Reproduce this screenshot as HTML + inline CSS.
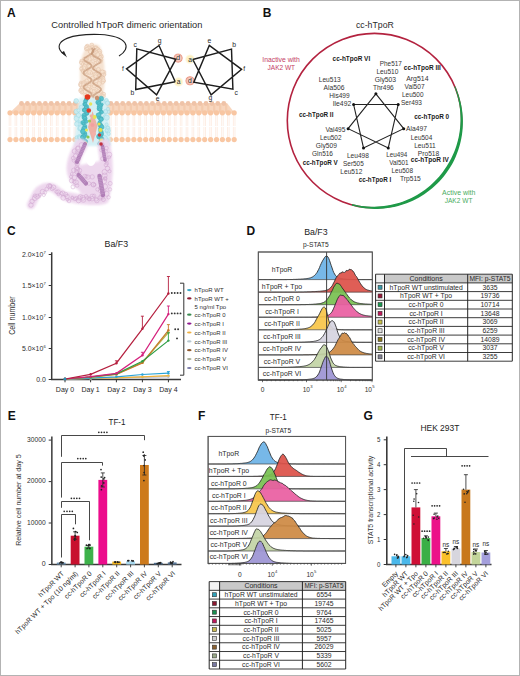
<!DOCTYPE html><html><head><meta charset="utf-8"><style>html,body{margin:0;padding:0;background:#fff}svg{display:block}text{font-family:"Liberation Sans",sans-serif}</style></head><body><svg width="520" height="676" viewBox="0 0 520 676"><rect x="0" y="0" width="520" height="676" fill="#fff"/><text x="7.0" y="17.0" font-size="12" fill="#111" font-weight="bold">A</text>
<text x="51.3" y="28.4" font-size="9.3" fill="#2a2a2a" textLength="151.0" lengthAdjust="spacingAndGlyphs">Controlled hTpoR dimeric orientation</text>
<path d="M119,56 C132,48 128,36 100,34.5 C72,33.5 55,40 60,50 C61,52 63,54 65,55" fill="none" stroke="#222" stroke-width="1.1"/>
<path d="M61.5,52.5 L67,57.5 L64,51 Z" fill="#222"/>
<path d="M9,113.5 L20,103 L227,103 L235,113.5 Z" fill="#f8d6be"/>
<rect x="22.7" y="104" width="2.2" height="8" fill="#f1c3a3" opacity="0.6"/>
<rect x="28.6" y="104" width="2.2" height="8" fill="#f1c3a3" opacity="0.6"/>
<rect x="34.6" y="104" width="2.2" height="8" fill="#f1c3a3" opacity="0.6"/>
<rect x="40.6" y="104" width="2.2" height="8" fill="#f1c3a3" opacity="0.6"/>
<rect x="46.5" y="104" width="2.2" height="8" fill="#f1c3a3" opacity="0.6"/>
<rect x="52.5" y="104" width="2.2" height="8" fill="#f1c3a3" opacity="0.6"/>
<rect x="58.4" y="104" width="2.2" height="8" fill="#f1c3a3" opacity="0.6"/>
<rect x="64.3" y="104" width="2.2" height="8" fill="#f1c3a3" opacity="0.6"/>
<rect x="70.3" y="104" width="2.2" height="8" fill="#f1c3a3" opacity="0.6"/>
<rect x="76.3" y="104" width="2.2" height="8" fill="#f1c3a3" opacity="0.6"/>
<rect x="82.2" y="104" width="2.2" height="8" fill="#f1c3a3" opacity="0.6"/>
<rect x="88.2" y="104" width="2.2" height="8" fill="#f1c3a3" opacity="0.6"/>
<rect x="94.1" y="104" width="2.2" height="8" fill="#f1c3a3" opacity="0.6"/>
<rect x="100.1" y="104" width="2.2" height="8" fill="#f1c3a3" opacity="0.6"/>
<rect x="106.0" y="104" width="2.2" height="8" fill="#f1c3a3" opacity="0.6"/>
<rect x="112.0" y="104" width="2.2" height="8" fill="#f1c3a3" opacity="0.6"/>
<rect x="117.9" y="104" width="2.2" height="8" fill="#f1c3a3" opacity="0.6"/>
<rect x="123.9" y="104" width="2.2" height="8" fill="#f1c3a3" opacity="0.6"/>
<rect x="129.8" y="104" width="2.2" height="8" fill="#f1c3a3" opacity="0.6"/>
<rect x="135.8" y="104" width="2.2" height="8" fill="#f1c3a3" opacity="0.6"/>
<rect x="141.7" y="104" width="2.2" height="8" fill="#f1c3a3" opacity="0.6"/>
<rect x="147.6" y="104" width="2.2" height="8" fill="#f1c3a3" opacity="0.6"/>
<rect x="153.6" y="104" width="2.2" height="8" fill="#f1c3a3" opacity="0.6"/>
<rect x="159.5" y="104" width="2.2" height="8" fill="#f1c3a3" opacity="0.6"/>
<rect x="165.5" y="104" width="2.2" height="8" fill="#f1c3a3" opacity="0.6"/>
<rect x="171.4" y="104" width="2.2" height="8" fill="#f1c3a3" opacity="0.6"/>
<rect x="177.4" y="104" width="2.2" height="8" fill="#f1c3a3" opacity="0.6"/>
<rect x="183.3" y="104" width="2.2" height="8" fill="#f1c3a3" opacity="0.6"/>
<rect x="189.3" y="104" width="2.2" height="8" fill="#f1c3a3" opacity="0.6"/>
<rect x="195.2" y="104" width="2.2" height="8" fill="#f1c3a3" opacity="0.6"/>
<rect x="201.2" y="104" width="2.2" height="8" fill="#f1c3a3" opacity="0.6"/>
<rect x="207.2" y="104" width="2.2" height="8" fill="#f1c3a3" opacity="0.6"/>
<rect x="213.1" y="104" width="2.2" height="8" fill="#f1c3a3" opacity="0.6"/>
<rect x="219.0" y="104" width="2.2" height="8" fill="#f1c3a3" opacity="0.6"/>
<rect x="225.0" y="104" width="2.2" height="8" fill="#f1c3a3" opacity="0.6"/>
<circle cx="21.5" cy="103.5" r="2.4" fill="#efc3a8"/>
<circle cx="27.4" cy="103.5" r="2.4" fill="#efc3a8"/>
<circle cx="33.4" cy="103.5" r="2.4" fill="#efc3a8"/>
<circle cx="39.4" cy="103.5" r="2.4" fill="#efc3a8"/>
<circle cx="45.3" cy="103.5" r="2.4" fill="#efc3a8"/>
<circle cx="51.2" cy="103.5" r="2.4" fill="#efc3a8"/>
<circle cx="57.2" cy="103.5" r="2.4" fill="#efc3a8"/>
<circle cx="63.1" cy="103.5" r="2.4" fill="#efc3a8"/>
<circle cx="69.1" cy="103.5" r="2.4" fill="#efc3a8"/>
<circle cx="75.1" cy="103.5" r="2.4" fill="#efc3a8"/>
<circle cx="81.0" cy="103.5" r="2.4" fill="#efc3a8"/>
<circle cx="87.0" cy="103.5" r="2.4" fill="#efc3a8"/>
<circle cx="92.9" cy="103.5" r="2.4" fill="#efc3a8"/>
<circle cx="98.9" cy="103.5" r="2.4" fill="#efc3a8"/>
<circle cx="104.8" cy="103.5" r="2.4" fill="#efc3a8"/>
<circle cx="110.8" cy="103.5" r="2.4" fill="#efc3a8"/>
<circle cx="116.7" cy="103.5" r="2.4" fill="#efc3a8"/>
<circle cx="122.7" cy="103.5" r="2.4" fill="#efc3a8"/>
<circle cx="128.6" cy="103.5" r="2.4" fill="#efc3a8"/>
<circle cx="134.6" cy="103.5" r="2.4" fill="#efc3a8"/>
<circle cx="140.5" cy="103.5" r="2.4" fill="#efc3a8"/>
<circle cx="146.4" cy="103.5" r="2.4" fill="#efc3a8"/>
<circle cx="152.4" cy="103.5" r="2.4" fill="#efc3a8"/>
<circle cx="158.3" cy="103.5" r="2.4" fill="#efc3a8"/>
<circle cx="164.3" cy="103.5" r="2.4" fill="#efc3a8"/>
<circle cx="170.2" cy="103.5" r="2.4" fill="#efc3a8"/>
<circle cx="176.2" cy="103.5" r="2.4" fill="#efc3a8"/>
<circle cx="182.2" cy="103.5" r="2.4" fill="#efc3a8"/>
<circle cx="188.1" cy="103.5" r="2.4" fill="#efc3a8"/>
<circle cx="194.1" cy="103.5" r="2.4" fill="#efc3a8"/>
<circle cx="200.0" cy="103.5" r="2.4" fill="#efc3a8"/>
<circle cx="206.0" cy="103.5" r="2.4" fill="#efc3a8"/>
<circle cx="211.9" cy="103.5" r="2.4" fill="#efc3a8"/>
<circle cx="217.8" cy="103.5" r="2.4" fill="#efc3a8"/>
<circle cx="223.8" cy="103.5" r="2.4" fill="#efc3a8"/>
<line x1="9.2" y1="115" x2="9.2" y2="126" stroke="#fbe3d4" stroke-width="0.6"/>
<line x1="9.2" y1="127" x2="9.2" y2="138" stroke="#fbe3d4" stroke-width="0.6"/>
<line x1="10.8" y1="115" x2="10.8" y2="126" stroke="#fbe3d4" stroke-width="0.6"/>
<line x1="10.8" y1="127" x2="10.8" y2="138" stroke="#fbe3d4" stroke-width="0.6"/>
<line x1="15.1" y1="115" x2="15.1" y2="126" stroke="#fbe3d4" stroke-width="0.6"/>
<line x1="15.1" y1="127" x2="15.1" y2="138" stroke="#fbe3d4" stroke-width="0.6"/>
<line x1="16.7" y1="115" x2="16.7" y2="126" stroke="#fbe3d4" stroke-width="0.6"/>
<line x1="16.7" y1="127" x2="16.7" y2="138" stroke="#fbe3d4" stroke-width="0.6"/>
<line x1="21.0" y1="115" x2="21.0" y2="126" stroke="#fbe3d4" stroke-width="0.6"/>
<line x1="21.0" y1="127" x2="21.0" y2="138" stroke="#fbe3d4" stroke-width="0.6"/>
<line x1="22.6" y1="115" x2="22.6" y2="126" stroke="#fbe3d4" stroke-width="0.6"/>
<line x1="22.6" y1="127" x2="22.6" y2="138" stroke="#fbe3d4" stroke-width="0.6"/>
<line x1="26.9" y1="115" x2="26.9" y2="126" stroke="#fbe3d4" stroke-width="0.6"/>
<line x1="26.9" y1="127" x2="26.9" y2="138" stroke="#fbe3d4" stroke-width="0.6"/>
<line x1="28.5" y1="115" x2="28.5" y2="126" stroke="#fbe3d4" stroke-width="0.6"/>
<line x1="28.5" y1="127" x2="28.5" y2="138" stroke="#fbe3d4" stroke-width="0.6"/>
<line x1="32.8" y1="115" x2="32.8" y2="126" stroke="#fbe3d4" stroke-width="0.6"/>
<line x1="32.8" y1="127" x2="32.8" y2="138" stroke="#fbe3d4" stroke-width="0.6"/>
<line x1="34.4" y1="115" x2="34.4" y2="126" stroke="#fbe3d4" stroke-width="0.6"/>
<line x1="34.4" y1="127" x2="34.4" y2="138" stroke="#fbe3d4" stroke-width="0.6"/>
<line x1="38.7" y1="115" x2="38.7" y2="126" stroke="#fbe3d4" stroke-width="0.6"/>
<line x1="38.7" y1="127" x2="38.7" y2="138" stroke="#fbe3d4" stroke-width="0.6"/>
<line x1="40.3" y1="115" x2="40.3" y2="126" stroke="#fbe3d4" stroke-width="0.6"/>
<line x1="40.3" y1="127" x2="40.3" y2="138" stroke="#fbe3d4" stroke-width="0.6"/>
<line x1="44.6" y1="115" x2="44.6" y2="126" stroke="#fbe3d4" stroke-width="0.6"/>
<line x1="44.6" y1="127" x2="44.6" y2="138" stroke="#fbe3d4" stroke-width="0.6"/>
<line x1="46.2" y1="115" x2="46.2" y2="126" stroke="#fbe3d4" stroke-width="0.6"/>
<line x1="46.2" y1="127" x2="46.2" y2="138" stroke="#fbe3d4" stroke-width="0.6"/>
<line x1="50.5" y1="115" x2="50.5" y2="126" stroke="#fbe3d4" stroke-width="0.6"/>
<line x1="50.5" y1="127" x2="50.5" y2="138" stroke="#fbe3d4" stroke-width="0.6"/>
<line x1="52.1" y1="115" x2="52.1" y2="126" stroke="#fbe3d4" stroke-width="0.6"/>
<line x1="52.1" y1="127" x2="52.1" y2="138" stroke="#fbe3d4" stroke-width="0.6"/>
<line x1="56.4" y1="115" x2="56.4" y2="126" stroke="#fbe3d4" stroke-width="0.6"/>
<line x1="56.4" y1="127" x2="56.4" y2="138" stroke="#fbe3d4" stroke-width="0.6"/>
<line x1="58.0" y1="115" x2="58.0" y2="126" stroke="#fbe3d4" stroke-width="0.6"/>
<line x1="58.0" y1="127" x2="58.0" y2="138" stroke="#fbe3d4" stroke-width="0.6"/>
<line x1="62.3" y1="115" x2="62.3" y2="126" stroke="#fbe3d4" stroke-width="0.6"/>
<line x1="62.3" y1="127" x2="62.3" y2="138" stroke="#fbe3d4" stroke-width="0.6"/>
<line x1="63.9" y1="115" x2="63.9" y2="126" stroke="#fbe3d4" stroke-width="0.6"/>
<line x1="63.9" y1="127" x2="63.9" y2="138" stroke="#fbe3d4" stroke-width="0.6"/>
<line x1="68.2" y1="115" x2="68.2" y2="126" stroke="#fbe3d4" stroke-width="0.6"/>
<line x1="68.2" y1="127" x2="68.2" y2="138" stroke="#fbe3d4" stroke-width="0.6"/>
<line x1="69.8" y1="115" x2="69.8" y2="126" stroke="#fbe3d4" stroke-width="0.6"/>
<line x1="69.8" y1="127" x2="69.8" y2="138" stroke="#fbe3d4" stroke-width="0.6"/>
<line x1="74.1" y1="115" x2="74.1" y2="126" stroke="#fbe3d4" stroke-width="0.6"/>
<line x1="74.1" y1="127" x2="74.1" y2="138" stroke="#fbe3d4" stroke-width="0.6"/>
<line x1="75.7" y1="115" x2="75.7" y2="126" stroke="#fbe3d4" stroke-width="0.6"/>
<line x1="75.7" y1="127" x2="75.7" y2="138" stroke="#fbe3d4" stroke-width="0.6"/>
<line x1="80.0" y1="115" x2="80.0" y2="126" stroke="#fbe3d4" stroke-width="0.6"/>
<line x1="80.0" y1="127" x2="80.0" y2="138" stroke="#fbe3d4" stroke-width="0.6"/>
<line x1="81.6" y1="115" x2="81.6" y2="126" stroke="#fbe3d4" stroke-width="0.6"/>
<line x1="81.6" y1="127" x2="81.6" y2="138" stroke="#fbe3d4" stroke-width="0.6"/>
<line x1="85.9" y1="115" x2="85.9" y2="126" stroke="#fbe3d4" stroke-width="0.6"/>
<line x1="85.9" y1="127" x2="85.9" y2="138" stroke="#fbe3d4" stroke-width="0.6"/>
<line x1="87.5" y1="115" x2="87.5" y2="126" stroke="#fbe3d4" stroke-width="0.6"/>
<line x1="87.5" y1="127" x2="87.5" y2="138" stroke="#fbe3d4" stroke-width="0.6"/>
<line x1="91.8" y1="115" x2="91.8" y2="126" stroke="#fbe3d4" stroke-width="0.6"/>
<line x1="91.8" y1="127" x2="91.8" y2="138" stroke="#fbe3d4" stroke-width="0.6"/>
<line x1="93.4" y1="115" x2="93.4" y2="126" stroke="#fbe3d4" stroke-width="0.6"/>
<line x1="93.4" y1="127" x2="93.4" y2="138" stroke="#fbe3d4" stroke-width="0.6"/>
<line x1="97.7" y1="115" x2="97.7" y2="126" stroke="#fbe3d4" stroke-width="0.6"/>
<line x1="97.7" y1="127" x2="97.7" y2="138" stroke="#fbe3d4" stroke-width="0.6"/>
<line x1="99.3" y1="115" x2="99.3" y2="126" stroke="#fbe3d4" stroke-width="0.6"/>
<line x1="99.3" y1="127" x2="99.3" y2="138" stroke="#fbe3d4" stroke-width="0.6"/>
<line x1="103.6" y1="115" x2="103.6" y2="126" stroke="#fbe3d4" stroke-width="0.6"/>
<line x1="103.6" y1="127" x2="103.6" y2="138" stroke="#fbe3d4" stroke-width="0.6"/>
<line x1="105.2" y1="115" x2="105.2" y2="126" stroke="#fbe3d4" stroke-width="0.6"/>
<line x1="105.2" y1="127" x2="105.2" y2="138" stroke="#fbe3d4" stroke-width="0.6"/>
<line x1="109.5" y1="115" x2="109.5" y2="126" stroke="#fbe3d4" stroke-width="0.6"/>
<line x1="109.5" y1="127" x2="109.5" y2="138" stroke="#fbe3d4" stroke-width="0.6"/>
<line x1="111.1" y1="115" x2="111.1" y2="126" stroke="#fbe3d4" stroke-width="0.6"/>
<line x1="111.1" y1="127" x2="111.1" y2="138" stroke="#fbe3d4" stroke-width="0.6"/>
<line x1="115.4" y1="115" x2="115.4" y2="126" stroke="#fbe3d4" stroke-width="0.6"/>
<line x1="115.4" y1="127" x2="115.4" y2="138" stroke="#fbe3d4" stroke-width="0.6"/>
<line x1="117.0" y1="115" x2="117.0" y2="126" stroke="#fbe3d4" stroke-width="0.6"/>
<line x1="117.0" y1="127" x2="117.0" y2="138" stroke="#fbe3d4" stroke-width="0.6"/>
<line x1="121.3" y1="115" x2="121.3" y2="126" stroke="#fbe3d4" stroke-width="0.6"/>
<line x1="121.3" y1="127" x2="121.3" y2="138" stroke="#fbe3d4" stroke-width="0.6"/>
<line x1="122.9" y1="115" x2="122.9" y2="126" stroke="#fbe3d4" stroke-width="0.6"/>
<line x1="122.9" y1="127" x2="122.9" y2="138" stroke="#fbe3d4" stroke-width="0.6"/>
<line x1="127.2" y1="115" x2="127.2" y2="126" stroke="#fbe3d4" stroke-width="0.6"/>
<line x1="127.2" y1="127" x2="127.2" y2="138" stroke="#fbe3d4" stroke-width="0.6"/>
<line x1="128.8" y1="115" x2="128.8" y2="126" stroke="#fbe3d4" stroke-width="0.6"/>
<line x1="128.8" y1="127" x2="128.8" y2="138" stroke="#fbe3d4" stroke-width="0.6"/>
<line x1="133.1" y1="115" x2="133.1" y2="126" stroke="#fbe3d4" stroke-width="0.6"/>
<line x1="133.1" y1="127" x2="133.1" y2="138" stroke="#fbe3d4" stroke-width="0.6"/>
<line x1="134.7" y1="115" x2="134.7" y2="126" stroke="#fbe3d4" stroke-width="0.6"/>
<line x1="134.7" y1="127" x2="134.7" y2="138" stroke="#fbe3d4" stroke-width="0.6"/>
<line x1="139.0" y1="115" x2="139.0" y2="126" stroke="#fbe3d4" stroke-width="0.6"/>
<line x1="139.0" y1="127" x2="139.0" y2="138" stroke="#fbe3d4" stroke-width="0.6"/>
<line x1="140.6" y1="115" x2="140.6" y2="126" stroke="#fbe3d4" stroke-width="0.6"/>
<line x1="140.6" y1="127" x2="140.6" y2="138" stroke="#fbe3d4" stroke-width="0.6"/>
<line x1="144.9" y1="115" x2="144.9" y2="126" stroke="#fbe3d4" stroke-width="0.6"/>
<line x1="144.9" y1="127" x2="144.9" y2="138" stroke="#fbe3d4" stroke-width="0.6"/>
<line x1="146.5" y1="115" x2="146.5" y2="126" stroke="#fbe3d4" stroke-width="0.6"/>
<line x1="146.5" y1="127" x2="146.5" y2="138" stroke="#fbe3d4" stroke-width="0.6"/>
<line x1="150.8" y1="115" x2="150.8" y2="126" stroke="#fbe3d4" stroke-width="0.6"/>
<line x1="150.8" y1="127" x2="150.8" y2="138" stroke="#fbe3d4" stroke-width="0.6"/>
<line x1="152.4" y1="115" x2="152.4" y2="126" stroke="#fbe3d4" stroke-width="0.6"/>
<line x1="152.4" y1="127" x2="152.4" y2="138" stroke="#fbe3d4" stroke-width="0.6"/>
<line x1="156.7" y1="115" x2="156.7" y2="126" stroke="#fbe3d4" stroke-width="0.6"/>
<line x1="156.7" y1="127" x2="156.7" y2="138" stroke="#fbe3d4" stroke-width="0.6"/>
<line x1="158.3" y1="115" x2="158.3" y2="126" stroke="#fbe3d4" stroke-width="0.6"/>
<line x1="158.3" y1="127" x2="158.3" y2="138" stroke="#fbe3d4" stroke-width="0.6"/>
<line x1="162.6" y1="115" x2="162.6" y2="126" stroke="#fbe3d4" stroke-width="0.6"/>
<line x1="162.6" y1="127" x2="162.6" y2="138" stroke="#fbe3d4" stroke-width="0.6"/>
<line x1="164.2" y1="115" x2="164.2" y2="126" stroke="#fbe3d4" stroke-width="0.6"/>
<line x1="164.2" y1="127" x2="164.2" y2="138" stroke="#fbe3d4" stroke-width="0.6"/>
<line x1="168.5" y1="115" x2="168.5" y2="126" stroke="#fbe3d4" stroke-width="0.6"/>
<line x1="168.5" y1="127" x2="168.5" y2="138" stroke="#fbe3d4" stroke-width="0.6"/>
<line x1="170.1" y1="115" x2="170.1" y2="126" stroke="#fbe3d4" stroke-width="0.6"/>
<line x1="170.1" y1="127" x2="170.1" y2="138" stroke="#fbe3d4" stroke-width="0.6"/>
<line x1="174.4" y1="115" x2="174.4" y2="126" stroke="#fbe3d4" stroke-width="0.6"/>
<line x1="174.4" y1="127" x2="174.4" y2="138" stroke="#fbe3d4" stroke-width="0.6"/>
<line x1="176.0" y1="115" x2="176.0" y2="126" stroke="#fbe3d4" stroke-width="0.6"/>
<line x1="176.0" y1="127" x2="176.0" y2="138" stroke="#fbe3d4" stroke-width="0.6"/>
<line x1="180.3" y1="115" x2="180.3" y2="126" stroke="#fbe3d4" stroke-width="0.6"/>
<line x1="180.3" y1="127" x2="180.3" y2="138" stroke="#fbe3d4" stroke-width="0.6"/>
<line x1="181.9" y1="115" x2="181.9" y2="126" stroke="#fbe3d4" stroke-width="0.6"/>
<line x1="181.9" y1="127" x2="181.9" y2="138" stroke="#fbe3d4" stroke-width="0.6"/>
<line x1="186.2" y1="115" x2="186.2" y2="126" stroke="#fbe3d4" stroke-width="0.6"/>
<line x1="186.2" y1="127" x2="186.2" y2="138" stroke="#fbe3d4" stroke-width="0.6"/>
<line x1="187.8" y1="115" x2="187.8" y2="126" stroke="#fbe3d4" stroke-width="0.6"/>
<line x1="187.8" y1="127" x2="187.8" y2="138" stroke="#fbe3d4" stroke-width="0.6"/>
<line x1="192.1" y1="115" x2="192.1" y2="126" stroke="#fbe3d4" stroke-width="0.6"/>
<line x1="192.1" y1="127" x2="192.1" y2="138" stroke="#fbe3d4" stroke-width="0.6"/>
<line x1="193.7" y1="115" x2="193.7" y2="126" stroke="#fbe3d4" stroke-width="0.6"/>
<line x1="193.7" y1="127" x2="193.7" y2="138" stroke="#fbe3d4" stroke-width="0.6"/>
<line x1="198.0" y1="115" x2="198.0" y2="126" stroke="#fbe3d4" stroke-width="0.6"/>
<line x1="198.0" y1="127" x2="198.0" y2="138" stroke="#fbe3d4" stroke-width="0.6"/>
<line x1="199.6" y1="115" x2="199.6" y2="126" stroke="#fbe3d4" stroke-width="0.6"/>
<line x1="199.6" y1="127" x2="199.6" y2="138" stroke="#fbe3d4" stroke-width="0.6"/>
<line x1="203.9" y1="115" x2="203.9" y2="126" stroke="#fbe3d4" stroke-width="0.6"/>
<line x1="203.9" y1="127" x2="203.9" y2="138" stroke="#fbe3d4" stroke-width="0.6"/>
<line x1="205.5" y1="115" x2="205.5" y2="126" stroke="#fbe3d4" stroke-width="0.6"/>
<line x1="205.5" y1="127" x2="205.5" y2="138" stroke="#fbe3d4" stroke-width="0.6"/>
<line x1="209.8" y1="115" x2="209.8" y2="126" stroke="#fbe3d4" stroke-width="0.6"/>
<line x1="209.8" y1="127" x2="209.8" y2="138" stroke="#fbe3d4" stroke-width="0.6"/>
<line x1="211.4" y1="115" x2="211.4" y2="126" stroke="#fbe3d4" stroke-width="0.6"/>
<line x1="211.4" y1="127" x2="211.4" y2="138" stroke="#fbe3d4" stroke-width="0.6"/>
<line x1="215.7" y1="115" x2="215.7" y2="126" stroke="#fbe3d4" stroke-width="0.6"/>
<line x1="215.7" y1="127" x2="215.7" y2="138" stroke="#fbe3d4" stroke-width="0.6"/>
<line x1="217.3" y1="115" x2="217.3" y2="126" stroke="#fbe3d4" stroke-width="0.6"/>
<line x1="217.3" y1="127" x2="217.3" y2="138" stroke="#fbe3d4" stroke-width="0.6"/>
<line x1="221.6" y1="115" x2="221.6" y2="126" stroke="#fbe3d4" stroke-width="0.6"/>
<line x1="221.6" y1="127" x2="221.6" y2="138" stroke="#fbe3d4" stroke-width="0.6"/>
<line x1="223.2" y1="115" x2="223.2" y2="126" stroke="#fbe3d4" stroke-width="0.6"/>
<line x1="223.2" y1="127" x2="223.2" y2="138" stroke="#fbe3d4" stroke-width="0.6"/>
<line x1="227.5" y1="115" x2="227.5" y2="126" stroke="#fbe3d4" stroke-width="0.6"/>
<line x1="227.5" y1="127" x2="227.5" y2="138" stroke="#fbe3d4" stroke-width="0.6"/>
<line x1="229.1" y1="115" x2="229.1" y2="126" stroke="#fbe3d4" stroke-width="0.6"/>
<line x1="229.1" y1="127" x2="229.1" y2="138" stroke="#fbe3d4" stroke-width="0.6"/>
<line x1="233.4" y1="115" x2="233.4" y2="126" stroke="#fbe3d4" stroke-width="0.6"/>
<line x1="233.4" y1="127" x2="233.4" y2="138" stroke="#fbe3d4" stroke-width="0.6"/>
<line x1="235.0" y1="115" x2="235.0" y2="126" stroke="#fbe3d4" stroke-width="0.6"/>
<line x1="235.0" y1="127" x2="235.0" y2="138" stroke="#fbe3d4" stroke-width="0.6"/>
<circle cx="10.0" cy="112.8" r="2.6" fill="#f8c6a2"/>
<circle cx="10.0" cy="139.6" r="2.6" fill="#f9c7a3"/>
<circle cx="15.9" cy="112.8" r="2.6" fill="#f8c6a2"/>
<circle cx="15.9" cy="139.6" r="2.6" fill="#f9c7a3"/>
<circle cx="21.8" cy="112.8" r="2.6" fill="#f8c6a2"/>
<circle cx="21.8" cy="139.6" r="2.6" fill="#f9c7a3"/>
<circle cx="27.7" cy="112.8" r="2.6" fill="#f8c6a2"/>
<circle cx="27.7" cy="139.6" r="2.6" fill="#f9c7a3"/>
<circle cx="33.6" cy="112.8" r="2.6" fill="#f8c6a2"/>
<circle cx="33.6" cy="139.6" r="2.6" fill="#f9c7a3"/>
<circle cx="39.5" cy="112.8" r="2.6" fill="#f8c6a2"/>
<circle cx="39.5" cy="139.6" r="2.6" fill="#f9c7a3"/>
<circle cx="45.4" cy="112.8" r="2.6" fill="#f8c6a2"/>
<circle cx="45.4" cy="139.6" r="2.6" fill="#f9c7a3"/>
<circle cx="51.3" cy="112.8" r="2.6" fill="#f8c6a2"/>
<circle cx="51.3" cy="139.6" r="2.6" fill="#f9c7a3"/>
<circle cx="57.2" cy="112.8" r="2.6" fill="#f8c6a2"/>
<circle cx="57.2" cy="139.6" r="2.6" fill="#f9c7a3"/>
<circle cx="63.1" cy="112.8" r="2.6" fill="#f8c6a2"/>
<circle cx="63.1" cy="139.6" r="2.6" fill="#f9c7a3"/>
<circle cx="69.0" cy="112.8" r="2.6" fill="#f8c6a2"/>
<circle cx="69.0" cy="139.6" r="2.6" fill="#f9c7a3"/>
<circle cx="74.9" cy="112.8" r="2.6" fill="#f8c6a2"/>
<circle cx="74.9" cy="139.6" r="2.6" fill="#f9c7a3"/>
<circle cx="80.8" cy="112.8" r="2.6" fill="#f8c6a2"/>
<circle cx="80.8" cy="139.6" r="2.6" fill="#f9c7a3"/>
<circle cx="86.7" cy="112.8" r="2.6" fill="#f8c6a2"/>
<circle cx="86.7" cy="139.6" r="2.6" fill="#f9c7a3"/>
<circle cx="92.6" cy="112.8" r="2.6" fill="#f8c6a2"/>
<circle cx="92.6" cy="139.6" r="2.6" fill="#f9c7a3"/>
<circle cx="98.5" cy="112.8" r="2.6" fill="#f8c6a2"/>
<circle cx="98.5" cy="139.6" r="2.6" fill="#f9c7a3"/>
<circle cx="104.4" cy="112.8" r="2.6" fill="#f8c6a2"/>
<circle cx="104.4" cy="139.6" r="2.6" fill="#f9c7a3"/>
<circle cx="110.3" cy="112.8" r="2.6" fill="#f8c6a2"/>
<circle cx="110.3" cy="139.6" r="2.6" fill="#f9c7a3"/>
<circle cx="116.2" cy="112.8" r="2.6" fill="#f8c6a2"/>
<circle cx="116.2" cy="139.6" r="2.6" fill="#f9c7a3"/>
<circle cx="122.1" cy="112.8" r="2.6" fill="#f8c6a2"/>
<circle cx="122.1" cy="139.6" r="2.6" fill="#f9c7a3"/>
<circle cx="128.0" cy="112.8" r="2.6" fill="#f8c6a2"/>
<circle cx="128.0" cy="139.6" r="2.6" fill="#f9c7a3"/>
<circle cx="133.9" cy="112.8" r="2.6" fill="#f8c6a2"/>
<circle cx="133.9" cy="139.6" r="2.6" fill="#f9c7a3"/>
<circle cx="139.8" cy="112.8" r="2.6" fill="#f8c6a2"/>
<circle cx="139.8" cy="139.6" r="2.6" fill="#f9c7a3"/>
<circle cx="145.7" cy="112.8" r="2.6" fill="#f8c6a2"/>
<circle cx="145.7" cy="139.6" r="2.6" fill="#f9c7a3"/>
<circle cx="151.6" cy="112.8" r="2.6" fill="#f8c6a2"/>
<circle cx="151.6" cy="139.6" r="2.6" fill="#f9c7a3"/>
<circle cx="157.5" cy="112.8" r="2.6" fill="#f8c6a2"/>
<circle cx="157.5" cy="139.6" r="2.6" fill="#f9c7a3"/>
<circle cx="163.4" cy="112.8" r="2.6" fill="#f8c6a2"/>
<circle cx="163.4" cy="139.6" r="2.6" fill="#f9c7a3"/>
<circle cx="169.3" cy="112.8" r="2.6" fill="#f8c6a2"/>
<circle cx="169.3" cy="139.6" r="2.6" fill="#f9c7a3"/>
<circle cx="175.2" cy="112.8" r="2.6" fill="#f8c6a2"/>
<circle cx="175.2" cy="139.6" r="2.6" fill="#f9c7a3"/>
<circle cx="181.1" cy="112.8" r="2.6" fill="#f8c6a2"/>
<circle cx="181.1" cy="139.6" r="2.6" fill="#f9c7a3"/>
<circle cx="187.0" cy="112.8" r="2.6" fill="#f8c6a2"/>
<circle cx="187.0" cy="139.6" r="2.6" fill="#f9c7a3"/>
<circle cx="192.9" cy="112.8" r="2.6" fill="#f8c6a2"/>
<circle cx="192.9" cy="139.6" r="2.6" fill="#f9c7a3"/>
<circle cx="198.8" cy="112.8" r="2.6" fill="#f8c6a2"/>
<circle cx="198.8" cy="139.6" r="2.6" fill="#f9c7a3"/>
<circle cx="204.7" cy="112.8" r="2.6" fill="#f8c6a2"/>
<circle cx="204.7" cy="139.6" r="2.6" fill="#f9c7a3"/>
<circle cx="210.6" cy="112.8" r="2.6" fill="#f8c6a2"/>
<circle cx="210.6" cy="139.6" r="2.6" fill="#f9c7a3"/>
<circle cx="216.5" cy="112.8" r="2.6" fill="#f8c6a2"/>
<circle cx="216.5" cy="139.6" r="2.6" fill="#f9c7a3"/>
<circle cx="222.4" cy="112.8" r="2.6" fill="#f8c6a2"/>
<circle cx="222.4" cy="139.6" r="2.6" fill="#f9c7a3"/>
<circle cx="228.3" cy="112.8" r="2.6" fill="#f8c6a2"/>
<circle cx="228.3" cy="139.6" r="2.6" fill="#f9c7a3"/>
<circle cx="234.2" cy="112.8" r="2.6" fill="#f8c6a2"/>
<circle cx="234.2" cy="139.6" r="2.6" fill="#f9c7a3"/>
<defs><filter id="bl1" x="-50%" y="-50%" width="200%" height="200%"><feGaussianBlur stdDeviation="1.2"/></filter><filter id="bl2" x="-50%" y="-50%" width="200%" height="200%"><feGaussianBlur stdDeviation="0.7"/></filter><filter id="bl3" x="-50%" y="-50%" width="200%" height="200%"><feGaussianBlur stdDeviation="0.35"/></filter></defs>
<g filter="url(#bl1)"><path d="M87,46 C89,43.5 97,43.5 99.5,46 C102,51 104,58 104.5,68 C105,80 104.5,92 101.5,99 L84,99 C81,92 79.5,80 80,68 C80.5,58 84,51 87,46 Z" fill="#f6e3d2"/></g>
<g filter="url(#bl3)">
<g opacity="0.8"><circle cx="91.8" cy="45.1" r="2.0" fill="#f7e1cd" stroke="#dcb496" stroke-width="0.45"/><circle cx="86.9" cy="46.1" r="1.7" fill="#f7e1cd" stroke="#dcb496" stroke-width="0.45"/><circle cx="92.2" cy="46.8" r="1.3" fill="#f7e1cd" stroke="#dcb496" stroke-width="0.45"/><circle cx="87.4" cy="45.6" r="1.4" fill="#f7e1cd" stroke="#dcb496" stroke-width="0.45"/><circle cx="94.2" cy="48.4" r="1.4" fill="#f7e1cd" stroke="#dcb496" stroke-width="0.45"/><circle cx="86.6" cy="47.8" r="2.3" fill="#f7e1cd" stroke="#dcb496" stroke-width="0.45"/><circle cx="95.7" cy="48.0" r="2.3" fill="#f7e1cd" stroke="#dcb496" stroke-width="0.45"/><circle cx="86.2" cy="49.2" r="1.6" fill="#f7e1cd" stroke="#dcb496" stroke-width="0.45"/><circle cx="95.6" cy="48.0" r="1.6" fill="#f7e1cd" stroke="#dcb496" stroke-width="0.45"/><circle cx="88.5" cy="48.2" r="1.9" fill="#f7e1cd" stroke="#dcb496" stroke-width="0.45"/><circle cx="97.8" cy="49.4" r="1.9" fill="#f7e1cd" stroke="#dcb496" stroke-width="0.45"/><circle cx="87.1" cy="48.6" r="1.5" fill="#f7e1cd" stroke="#dcb496" stroke-width="0.45"/><circle cx="98.7" cy="50.3" r="1.6" fill="#f7e1cd" stroke="#dcb496" stroke-width="0.45"/><circle cx="89.4" cy="50.4" r="1.6" fill="#f7e1cd" stroke="#dcb496" stroke-width="0.45"/><circle cx="99.5" cy="51.8" r="1.5" fill="#f7e1cd" stroke="#dcb496" stroke-width="0.45"/><circle cx="90.5" cy="51.3" r="2.2" fill="#f7e1cd" stroke="#dcb496" stroke-width="0.45"/><circle cx="99.5" cy="51.5" r="2.3" fill="#f7e1cd" stroke="#dcb496" stroke-width="0.45"/><circle cx="90.6" cy="51.8" r="2.1" fill="#f7e1cd" stroke="#dcb496" stroke-width="0.45"/><circle cx="97.8" cy="52.8" r="1.3" fill="#f7e1cd" stroke="#dcb496" stroke-width="0.45"/><circle cx="93.5" cy="53.5" r="1.9" fill="#f7e1cd" stroke="#dcb496" stroke-width="0.45"/><circle cx="99.2" cy="53.1" r="2.0" fill="#f7e1cd" stroke="#dcb496" stroke-width="0.45"/><circle cx="94.9" cy="53.7" r="1.8" fill="#f7e1cd" stroke="#dcb496" stroke-width="0.45"/><circle cx="98.3" cy="55.4" r="1.8" fill="#f7e1cd" stroke="#dcb496" stroke-width="0.45"/><circle cx="96.6" cy="53.1" r="2.0" fill="#f7e1cd" stroke="#dcb496" stroke-width="0.45"/><circle cx="96.6" cy="56.3" r="2.1" fill="#f7e1cd" stroke="#dcb496" stroke-width="0.45"/><circle cx="97.1" cy="54.7" r="2.0" fill="#f7e1cd" stroke="#dcb496" stroke-width="0.45"/><circle cx="93.6" cy="55.7" r="1.4" fill="#f7e1cd" stroke="#dcb496" stroke-width="0.45"/><circle cx="98.0" cy="54.7" r="2.1" fill="#f7e1cd" stroke="#dcb496" stroke-width="0.45"/><circle cx="92.2" cy="55.9" r="1.7" fill="#f7e1cd" stroke="#dcb496" stroke-width="0.45"/><circle cx="101.0" cy="55.5" r="1.7" fill="#f7e1cd" stroke="#dcb496" stroke-width="0.45"/><circle cx="91.4" cy="58.3" r="2.1" fill="#f7e1cd" stroke="#dcb496" stroke-width="0.45"/><circle cx="101.7" cy="56.7" r="1.7" fill="#f7e1cd" stroke="#dcb496" stroke-width="0.45"/><circle cx="89.0" cy="59.1" r="2.3" fill="#f7e1cd" stroke="#dcb496" stroke-width="0.45"/><circle cx="100.2" cy="57.2" r="1.5" fill="#f7e1cd" stroke="#dcb496" stroke-width="0.45"/><circle cx="86.8" cy="58.8" r="1.9" fill="#f7e1cd" stroke="#dcb496" stroke-width="0.45"/><circle cx="100.4" cy="57.5" r="1.7" fill="#f7e1cd" stroke="#dcb496" stroke-width="0.45"/><circle cx="85.4" cy="59.7" r="2.3" fill="#f7e1cd" stroke="#dcb496" stroke-width="0.45"/><circle cx="101.0" cy="59.6" r="1.9" fill="#f7e1cd" stroke="#dcb496" stroke-width="0.45"/><circle cx="84.7" cy="59.2" r="2.2" fill="#f7e1cd" stroke="#dcb496" stroke-width="0.45"/><circle cx="100.3" cy="61.3" r="2.1" fill="#f7e1cd" stroke="#dcb496" stroke-width="0.45"/><circle cx="82.7" cy="60.8" r="1.4" fill="#f7e1cd" stroke="#dcb496" stroke-width="0.45"/><circle cx="98.5" cy="59.9" r="1.3" fill="#f7e1cd" stroke="#dcb496" stroke-width="0.45"/><circle cx="81.4" cy="60.9" r="1.6" fill="#f7e1cd" stroke="#dcb496" stroke-width="0.45"/><circle cx="95.3" cy="60.5" r="1.4" fill="#f7e1cd" stroke="#dcb496" stroke-width="0.45"/><circle cx="80.8" cy="62.2" r="1.3" fill="#f7e1cd" stroke="#dcb496" stroke-width="0.45"/><circle cx="95.4" cy="62.9" r="1.4" fill="#f7e1cd" stroke="#dcb496" stroke-width="0.45"/><circle cx="81.3" cy="62.9" r="1.7" fill="#f7e1cd" stroke="#dcb496" stroke-width="0.45"/><circle cx="91.1" cy="64.2" r="2.3" fill="#f7e1cd" stroke="#dcb496" stroke-width="0.45"/><circle cx="82.6" cy="64.0" r="1.4" fill="#f7e1cd" stroke="#dcb496" stroke-width="0.45"/><circle cx="88.7" cy="63.7" r="1.5" fill="#f7e1cd" stroke="#dcb496" stroke-width="0.45"/><circle cx="84.9" cy="64.0" r="1.3" fill="#f7e1cd" stroke="#dcb496" stroke-width="0.45"/><circle cx="88.7" cy="64.9" r="1.4" fill="#f7e1cd" stroke="#dcb496" stroke-width="0.45"/><circle cx="85.9" cy="64.4" r="1.8" fill="#f7e1cd" stroke="#dcb496" stroke-width="0.45"/><circle cx="86.7" cy="66.5" r="2.0" fill="#f7e1cd" stroke="#dcb496" stroke-width="0.45"/><circle cx="87.3" cy="66.0" r="1.4" fill="#f7e1cd" stroke="#dcb496" stroke-width="0.45"/><circle cx="84.5" cy="66.4" r="2.1" fill="#f7e1cd" stroke="#dcb496" stroke-width="0.45"/><circle cx="89.7" cy="66.4" r="2.1" fill="#f7e1cd" stroke="#dcb496" stroke-width="0.45"/><circle cx="83.7" cy="68.0" r="2.1" fill="#f7e1cd" stroke="#dcb496" stroke-width="0.45"/><circle cx="93.4" cy="68.5" r="1.5" fill="#f7e1cd" stroke="#dcb496" stroke-width="0.45"/><circle cx="81.7" cy="67.5" r="1.3" fill="#f7e1cd" stroke="#dcb496" stroke-width="0.45"/><circle cx="93.7" cy="68.0" r="1.5" fill="#f7e1cd" stroke="#dcb496" stroke-width="0.45"/><circle cx="81.8" cy="69.8" r="1.7" fill="#f7e1cd" stroke="#dcb496" stroke-width="0.45"/><circle cx="98.3" cy="70.6" r="2.3" fill="#f7e1cd" stroke="#dcb496" stroke-width="0.45"/><circle cx="81.1" cy="68.6" r="1.5" fill="#f7e1cd" stroke="#dcb496" stroke-width="0.45"/><circle cx="98.4" cy="69.3" r="1.9" fill="#f7e1cd" stroke="#dcb496" stroke-width="0.45"/><circle cx="83.2" cy="71.0" r="1.8" fill="#f7e1cd" stroke="#dcb496" stroke-width="0.45"/><circle cx="101.3" cy="71.6" r="1.4" fill="#f7e1cd" stroke="#dcb496" stroke-width="0.45"/><circle cx="83.8" cy="71.9" r="2.1" fill="#f7e1cd" stroke="#dcb496" stroke-width="0.45"/><circle cx="102.8" cy="71.6" r="1.5" fill="#f7e1cd" stroke="#dcb496" stroke-width="0.45"/><circle cx="85.7" cy="71.2" r="2.1" fill="#f7e1cd" stroke="#dcb496" stroke-width="0.45"/><circle cx="104.2" cy="72.1" r="1.7" fill="#f7e1cd" stroke="#dcb496" stroke-width="0.45"/><circle cx="88.0" cy="73.0" r="1.4" fill="#f7e1cd" stroke="#dcb496" stroke-width="0.45"/><circle cx="102.3" cy="72.2" r="2.2" fill="#f7e1cd" stroke="#dcb496" stroke-width="0.45"/><circle cx="89.9" cy="72.2" r="2.2" fill="#f7e1cd" stroke="#dcb496" stroke-width="0.45"/><circle cx="104.4" cy="74.3" r="1.6" fill="#f7e1cd" stroke="#dcb496" stroke-width="0.45"/><circle cx="91.5" cy="72.9" r="1.3" fill="#f7e1cd" stroke="#dcb496" stroke-width="0.45"/><circle cx="103.6" cy="75.0" r="1.8" fill="#f7e1cd" stroke="#dcb496" stroke-width="0.45"/><circle cx="94.9" cy="74.5" r="2.2" fill="#f7e1cd" stroke="#dcb496" stroke-width="0.45"/><circle cx="102.1" cy="74.6" r="1.5" fill="#f7e1cd" stroke="#dcb496" stroke-width="0.45"/><circle cx="95.6" cy="74.7" r="1.9" fill="#f7e1cd" stroke="#dcb496" stroke-width="0.45"/><circle cx="99.0" cy="75.9" r="1.4" fill="#f7e1cd" stroke="#dcb496" stroke-width="0.45"/><circle cx="99.3" cy="75.8" r="1.8" fill="#f7e1cd" stroke="#dcb496" stroke-width="0.45"/><circle cx="97.9" cy="77.9" r="1.7" fill="#f7e1cd" stroke="#dcb496" stroke-width="0.45"/><circle cx="101.2" cy="76.9" r="1.8" fill="#f7e1cd" stroke="#dcb496" stroke-width="0.45"/><circle cx="95.6" cy="76.4" r="1.7" fill="#f7e1cd" stroke="#dcb496" stroke-width="0.45"/><circle cx="100.8" cy="76.4" r="2.1" fill="#f7e1cd" stroke="#dcb496" stroke-width="0.45"/><circle cx="92.3" cy="78.3" r="2.0" fill="#f7e1cd" stroke="#dcb496" stroke-width="0.45"/><circle cx="102.8" cy="78.0" r="1.8" fill="#f7e1cd" stroke="#dcb496" stroke-width="0.45"/><circle cx="90.9" cy="79.9" r="1.4" fill="#f7e1cd" stroke="#dcb496" stroke-width="0.45"/><circle cx="103.4" cy="78.5" r="1.6" fill="#f7e1cd" stroke="#dcb496" stroke-width="0.45"/><circle cx="89.2" cy="79.9" r="1.9" fill="#f7e1cd" stroke="#dcb496" stroke-width="0.45"/><circle cx="103.9" cy="81.0" r="1.7" fill="#f7e1cd" stroke="#dcb496" stroke-width="0.45"/><circle cx="86.6" cy="80.7" r="1.8" fill="#f7e1cd" stroke="#dcb496" stroke-width="0.45"/><circle cx="103.3" cy="80.5" r="1.8" fill="#f7e1cd" stroke="#dcb496" stroke-width="0.45"/><circle cx="84.4" cy="82.6" r="2.0" fill="#f7e1cd" stroke="#dcb496" stroke-width="0.45"/><circle cx="102.8" cy="82.6" r="1.5" fill="#f7e1cd" stroke="#dcb496" stroke-width="0.45"/><circle cx="83.1" cy="83.3" r="2.2" fill="#f7e1cd" stroke="#dcb496" stroke-width="0.45"/><circle cx="99.5" cy="81.2" r="1.7" fill="#f7e1cd" stroke="#dcb496" stroke-width="0.45"/><circle cx="80.8" cy="82.3" r="1.3" fill="#f7e1cd" stroke="#dcb496" stroke-width="0.45"/><circle cx="99.1" cy="83.7" r="2.2" fill="#f7e1cd" stroke="#dcb496" stroke-width="0.45"/><circle cx="80.5" cy="84.2" r="2.0" fill="#f7e1cd" stroke="#dcb496" stroke-width="0.45"/><circle cx="95.6" cy="84.7" r="2.3" fill="#f7e1cd" stroke="#dcb496" stroke-width="0.45"/><circle cx="80.6" cy="85.6" r="1.7" fill="#f7e1cd" stroke="#dcb496" stroke-width="0.45"/><circle cx="94.2" cy="85.7" r="2.2" fill="#f7e1cd" stroke="#dcb496" stroke-width="0.45"/><circle cx="80.9" cy="85.0" r="1.8" fill="#f7e1cd" stroke="#dcb496" stroke-width="0.45"/><circle cx="91.5" cy="84.4" r="1.6" fill="#f7e1cd" stroke="#dcb496" stroke-width="0.45"/><circle cx="83.4" cy="84.7" r="1.9" fill="#f7e1cd" stroke="#dcb496" stroke-width="0.45"/><circle cx="89.4" cy="84.7" r="1.6" fill="#f7e1cd" stroke="#dcb496" stroke-width="0.45"/><circle cx="84.5" cy="86.7" r="1.3" fill="#f7e1cd" stroke="#dcb496" stroke-width="0.45"/><circle cx="88.6" cy="87.4" r="2.3" fill="#f7e1cd" stroke="#dcb496" stroke-width="0.45"/><circle cx="85.0" cy="86.8" r="1.3" fill="#f7e1cd" stroke="#dcb496" stroke-width="0.45"/><circle cx="86.0" cy="86.9" r="1.4" fill="#f7e1cd" stroke="#dcb496" stroke-width="0.45"/><circle cx="87.9" cy="89.3" r="2.1" fill="#f7e1cd" stroke="#dcb496" stroke-width="0.45"/><circle cx="83.0" cy="87.3" r="2.3" fill="#f7e1cd" stroke="#dcb496" stroke-width="0.45"/><circle cx="90.6" cy="89.5" r="1.4" fill="#f7e1cd" stroke="#dcb496" stroke-width="0.45"/><circle cx="81.2" cy="89.4" r="1.7" fill="#f7e1cd" stroke="#dcb496" stroke-width="0.45"/><circle cx="91.7" cy="90.8" r="1.9" fill="#f7e1cd" stroke="#dcb496" stroke-width="0.45"/><circle cx="82.4" cy="88.6" r="2.2" fill="#f7e1cd" stroke="#dcb496" stroke-width="0.45"/><circle cx="94.0" cy="91.4" r="1.8" fill="#f7e1cd" stroke="#dcb496" stroke-width="0.45"/><circle cx="80.9" cy="90.6" r="2.3" fill="#f7e1cd" stroke="#dcb496" stroke-width="0.45"/><circle cx="96.7" cy="90.3" r="1.8" fill="#f7e1cd" stroke="#dcb496" stroke-width="0.45"/><circle cx="80.9" cy="90.2" r="1.4" fill="#f7e1cd" stroke="#dcb496" stroke-width="0.45"/><circle cx="98.2" cy="91.2" r="1.6" fill="#f7e1cd" stroke="#dcb496" stroke-width="0.45"/><circle cx="81.8" cy="92.6" r="1.6" fill="#f7e1cd" stroke="#dcb496" stroke-width="0.45"/><circle cx="101.0" cy="91.9" r="1.6" fill="#f7e1cd" stroke="#dcb496" stroke-width="0.45"/><circle cx="82.2" cy="92.1" r="1.3" fill="#f7e1cd" stroke="#dcb496" stroke-width="0.45"/><circle cx="102.9" cy="93.6" r="1.5" fill="#f7e1cd" stroke="#dcb496" stroke-width="0.45"/><circle cx="85.0" cy="94.6" r="1.4" fill="#f7e1cd" stroke="#dcb496" stroke-width="0.45"/><circle cx="103.9" cy="94.1" r="1.8" fill="#f7e1cd" stroke="#dcb496" stroke-width="0.45"/><circle cx="87.9" cy="94.0" r="1.8" fill="#f7e1cd" stroke="#dcb496" stroke-width="0.45"/><circle cx="103.8" cy="96.2" r="1.6" fill="#f7e1cd" stroke="#dcb496" stroke-width="0.45"/><circle cx="90.2" cy="95.5" r="1.9" fill="#f7e1cd" stroke="#dcb496" stroke-width="0.45"/><circle cx="102.8" cy="95.3" r="1.3" fill="#f7e1cd" stroke="#dcb496" stroke-width="0.45"/><circle cx="90.7" cy="94.6" r="2.1" fill="#f7e1cd" stroke="#dcb496" stroke-width="0.45"/><circle cx="101.7" cy="95.6" r="1.4" fill="#f7e1cd" stroke="#dcb496" stroke-width="0.45"/><circle cx="94.9" cy="97.5" r="2.0" fill="#f7e1cd" stroke="#dcb496" stroke-width="0.45"/><circle cx="100.5" cy="96.6" r="1.6" fill="#f7e1cd" stroke="#dcb496" stroke-width="0.45"/><circle cx="96.2" cy="96.4" r="1.7" fill="#f7e1cd" stroke="#dcb496" stroke-width="0.45"/><circle cx="98.8" cy="99.2" r="2.3" fill="#f7e1cd" stroke="#dcb496" stroke-width="0.45"/><circle cx="98.6" cy="97.3" r="2.3" fill="#f7e1cd" stroke="#dcb496" stroke-width="0.45"/></g>
<path d="M91.6,48.0 L92.1,48.6 L92.6,49.3 L93.0,49.9 L93.2,50.5 L93.3,51.2 L93.2,51.8 L92.8,52.4 L92.3,53.1 L91.5,53.7 L90.5,54.3 L89.5,55.0 L88.4,55.6 L87.3,56.2 L86.3,56.9 L85.4,57.5 L84.7,58.1 L84.4,58.8 L84.2,59.4 L84.4,60.0 L85.0,60.7 L85.9,61.3 L86.9,61.9 L88.0,62.6 L89.1,63.2 L90.0,63.8 L90.8,64.5 L91.3,65.1 L91.5,65.7 L91.4,66.4 L91.0,67.0 L90.3,67.6 L89.5,68.3 L88.4,68.9 L87.3,69.5 L86.2,70.2 L85.2,70.8 L84.4,71.4 L83.8,72.1 L83.5,72.7 L83.5,73.3 L83.9,73.9 L84.4,74.6 L85.3,75.2 L86.3,75.8 L87.4,76.5 L88.5,77.1 L89.5,77.7 L90.4,78.4 L91.0,79.0 L91.4,79.6 L91.5,80.3 L91.3,80.9 L90.8,81.5 L90.0,82.2 L89.0,82.8 L88.0,83.4 L86.8,84.1 L85.8,84.7 L84.9,85.3 L84.1,86.0 L83.7,86.6 L83.5,87.2 L83.6,87.9 L84.1,88.5 L84.8,89.1 L85.7,89.8 L86.7,90.4 L87.8,91.0 L88.9,91.7 L89.9,92.3 L90.7,92.9 L91.2,93.6 L91.5,94.2 L91.4,94.8 L91.1,95.5 L90.4,96.1 L89.6,96.7 L88.6,97.4 L87.5,98.0" fill="none" stroke="#bf8e6c" stroke-width="1.8" opacity="0.6" filter="url(#bl2)"/>
<path d="M95.0,48.0 L94.8,48.6 L94.4,49.3 L93.9,49.9 L93.3,50.5 L92.8,51.2 L92.3,51.8 L92.0,52.4 L91.8,53.1 L91.8,53.7 L92.1,54.3 L92.6,55.0 L93.3,55.6 L94.2,56.2 L95.3,56.9 L96.5,57.5 L97.6,58.1 L98.8,58.8 L99.7,59.4 L100.5,60.0 L100.8,60.7 L100.8,61.3 L100.5,61.9 L99.9,62.6 L99.1,63.2 L98.0,63.8 L96.9,64.5 L95.8,65.1 L94.8,65.7 L94.0,66.4 L93.4,67.0 L93.1,67.6 L93.0,68.3 L93.3,68.9 L93.9,69.5 L94.7,70.2 L95.7,70.8 L96.7,71.4 L97.9,72.1 L98.9,72.7 L99.8,73.3 L100.5,73.9 L100.9,74.6 L101.0,75.2 L100.8,75.8 L100.3,76.5 L99.6,77.1 L98.6,77.7 L97.6,78.4 L96.5,79.0 L95.4,79.6 L94.4,80.3 L93.7,80.9 L93.2,81.5 L93.0,82.2 L93.1,82.8 L93.5,83.4 L94.2,84.1 L95.1,84.7 L96.1,85.3 L97.2,86.0 L98.3,86.6 L99.3,87.2 L100.1,87.9 L100.7,88.5 L101.0,89.1 L100.9,89.8 L100.6,90.4 L100.0,91.0 L99.2,91.7 L98.2,92.3 L97.1,92.9 L96.0,93.6 L95.0,94.2 L94.1,94.8 L93.4,95.5 L93.1,96.1 L93.0,96.7 L93.3,97.4 L93.8,98.0" fill="none" stroke="#bf8e6c" stroke-width="1.8" opacity="0.6" filter="url(#bl2)"/>
</g>
<g filter="url(#bl1)"><path d="M79,98 L107,98 L111,146 L74,146 Z" fill="#d4f0f5"/></g>
<g filter="url(#bl3)">
<g opacity="0.9"><circle cx="78.3" cy="115.9" r="2.1" fill="#c6ecf2" stroke="#94d6e2" stroke-width="0.5"/><circle cx="76.0" cy="116.7" r="1.7" fill="#c6ecf2" stroke="#94d6e2" stroke-width="0.5"/><circle cx="79.0" cy="122.8" r="2.2" fill="#c6ecf2" stroke="#94d6e2" stroke-width="0.5"/><circle cx="77.3" cy="122.7" r="2.0" fill="#c6ecf2" stroke="#94d6e2" stroke-width="0.5"/><circle cx="76.5" cy="111.5" r="2.5" fill="#c6ecf2" stroke="#94d6e2" stroke-width="0.5"/><circle cx="76.6" cy="118.5" r="2.5" fill="#c6ecf2" stroke="#94d6e2" stroke-width="0.5"/><circle cx="76.2" cy="101.0" r="2.4" fill="#c6ecf2" stroke="#94d6e2" stroke-width="0.5"/><circle cx="78.5" cy="110.4" r="1.7" fill="#c6ecf2" stroke="#94d6e2" stroke-width="0.5"/><circle cx="79.1" cy="124.3" r="1.7" fill="#c6ecf2" stroke="#94d6e2" stroke-width="0.5"/><circle cx="80.3" cy="129.2" r="2.0" fill="#c6ecf2" stroke="#94d6e2" stroke-width="0.5"/><circle cx="80.5" cy="139.2" r="2.4" fill="#c6ecf2" stroke="#94d6e2" stroke-width="0.5"/><circle cx="78.5" cy="115.1" r="2.2" fill="#c6ecf2" stroke="#94d6e2" stroke-width="0.5"/><circle cx="81.2" cy="107.1" r="2.0" fill="#c6ecf2" stroke="#94d6e2" stroke-width="0.5"/><circle cx="79.6" cy="128.4" r="2.0" fill="#c6ecf2" stroke="#94d6e2" stroke-width="0.5"/><circle cx="76.7" cy="137.4" r="1.6" fill="#c6ecf2" stroke="#94d6e2" stroke-width="0.5"/><circle cx="80.8" cy="128.0" r="2.4" fill="#c6ecf2" stroke="#94d6e2" stroke-width="0.5"/><circle cx="79.7" cy="136.8" r="2.4" fill="#c6ecf2" stroke="#94d6e2" stroke-width="0.5"/><circle cx="76.8" cy="124.0" r="2.3" fill="#c6ecf2" stroke="#94d6e2" stroke-width="0.5"/><circle cx="79.4" cy="137.4" r="1.8" fill="#c6ecf2" stroke="#94d6e2" stroke-width="0.5"/><circle cx="80.4" cy="137.7" r="2.1" fill="#c6ecf2" stroke="#94d6e2" stroke-width="0.5"/><circle cx="107.3" cy="140.1" r="1.7" fill="#c6ecf2" stroke="#94d6e2" stroke-width="0.5"/><circle cx="107.5" cy="130.8" r="2.4" fill="#c6ecf2" stroke="#94d6e2" stroke-width="0.5"/><circle cx="105.4" cy="101.8" r="1.7" fill="#c6ecf2" stroke="#94d6e2" stroke-width="0.5"/><circle cx="104.9" cy="116.2" r="1.6" fill="#c6ecf2" stroke="#94d6e2" stroke-width="0.5"/><circle cx="104.9" cy="138.1" r="2.5" fill="#c6ecf2" stroke="#94d6e2" stroke-width="0.5"/><circle cx="107.6" cy="128.4" r="2.5" fill="#c6ecf2" stroke="#94d6e2" stroke-width="0.5"/><circle cx="108.1" cy="130.7" r="2.3" fill="#c6ecf2" stroke="#94d6e2" stroke-width="0.5"/><circle cx="106.5" cy="100.4" r="1.9" fill="#c6ecf2" stroke="#94d6e2" stroke-width="0.5"/><circle cx="108.7" cy="133.8" r="1.7" fill="#c6ecf2" stroke="#94d6e2" stroke-width="0.5"/><circle cx="106.6" cy="124.5" r="1.6" fill="#c6ecf2" stroke="#94d6e2" stroke-width="0.5"/><circle cx="107.8" cy="102.8" r="1.8" fill="#c6ecf2" stroke="#94d6e2" stroke-width="0.5"/><circle cx="108.4" cy="111.8" r="1.7" fill="#c6ecf2" stroke="#94d6e2" stroke-width="0.5"/><circle cx="105.0" cy="111.8" r="2.1" fill="#c6ecf2" stroke="#94d6e2" stroke-width="0.5"/><circle cx="108.0" cy="108.9" r="1.6" fill="#c6ecf2" stroke="#94d6e2" stroke-width="0.5"/><circle cx="107.9" cy="144.3" r="2.0" fill="#c6ecf2" stroke="#94d6e2" stroke-width="0.5"/><circle cx="106.7" cy="117.6" r="2.6" fill="#c6ecf2" stroke="#94d6e2" stroke-width="0.5"/><circle cx="106.8" cy="130.4" r="1.6" fill="#c6ecf2" stroke="#94d6e2" stroke-width="0.5"/><circle cx="107.9" cy="127.6" r="1.5" fill="#c6ecf2" stroke="#94d6e2" stroke-width="0.5"/><circle cx="107.5" cy="103.2" r="2.1" fill="#c6ecf2" stroke="#94d6e2" stroke-width="0.5"/><circle cx="105.6" cy="111.7" r="1.9" fill="#c6ecf2" stroke="#94d6e2" stroke-width="0.5"/></g>
<g opacity="0.92"><circle cx="86.6" cy="99.0" r="1.9" fill="#4cbfca" stroke="#33a3ae" stroke-width="0.5"/><circle cx="86.0" cy="99.8" r="1.7" fill="#4cbfca" stroke="#33a3ae" stroke-width="0.5"/><circle cx="85.4" cy="101.4" r="2.0" fill="#4cbfca" stroke="#33a3ae" stroke-width="0.5"/><circle cx="84.4" cy="104.1" r="1.7" fill="#4cbfca" stroke="#33a3ae" stroke-width="0.5"/><circle cx="85.3" cy="104.6" r="1.9" fill="#4cbfca" stroke="#33a3ae" stroke-width="0.5"/><circle cx="86.5" cy="107.2" r="2.4" fill="#4cbfca" stroke="#33a3ae" stroke-width="0.5"/><circle cx="86.0" cy="107.2" r="1.4" fill="#4cbfca" stroke="#33a3ae" stroke-width="0.5"/><circle cx="84.3" cy="110.1" r="2.0" fill="#4cbfca" stroke="#33a3ae" stroke-width="0.5"/><circle cx="84.5" cy="110.2" r="1.9" fill="#4cbfca" stroke="#33a3ae" stroke-width="0.5"/><circle cx="86.6" cy="113.0" r="2.4" fill="#4cbfca" stroke="#33a3ae" stroke-width="0.5"/><circle cx="86.9" cy="113.6" r="1.5" fill="#4cbfca" stroke="#33a3ae" stroke-width="0.5"/><circle cx="84.0" cy="115.5" r="2.2" fill="#4cbfca" stroke="#33a3ae" stroke-width="0.5"/><circle cx="84.2" cy="117.4" r="2.2" fill="#4cbfca" stroke="#33a3ae" stroke-width="0.5"/><circle cx="85.0" cy="118.4" r="2.1" fill="#4cbfca" stroke="#33a3ae" stroke-width="0.5"/><circle cx="85.2" cy="120.5" r="1.7" fill="#4cbfca" stroke="#33a3ae" stroke-width="0.5"/><circle cx="86.1" cy="121.7" r="1.8" fill="#4cbfca" stroke="#33a3ae" stroke-width="0.5"/><circle cx="83.1" cy="122.6" r="2.2" fill="#4cbfca" stroke="#33a3ae" stroke-width="0.5"/><circle cx="83.7" cy="123.9" r="1.5" fill="#4cbfca" stroke="#33a3ae" stroke-width="0.5"/><circle cx="84.9" cy="126.1" r="1.9" fill="#4cbfca" stroke="#33a3ae" stroke-width="0.5"/><circle cx="85.3" cy="127.7" r="1.4" fill="#4cbfca" stroke="#33a3ae" stroke-width="0.5"/><circle cx="84.2" cy="128.9" r="2.6" fill="#4cbfca" stroke="#33a3ae" stroke-width="0.5"/><circle cx="83.3" cy="131.1" r="2.0" fill="#4cbfca" stroke="#33a3ae" stroke-width="0.5"/><circle cx="83.1" cy="131.6" r="2.6" fill="#4cbfca" stroke="#33a3ae" stroke-width="0.5"/><circle cx="85.4" cy="133.2" r="1.4" fill="#4cbfca" stroke="#33a3ae" stroke-width="0.5"/><circle cx="85.2" cy="135.3" r="1.9" fill="#4cbfca" stroke="#33a3ae" stroke-width="0.5"/><circle cx="83.3" cy="136.8" r="2.5" fill="#4cbfca" stroke="#33a3ae" stroke-width="0.5"/><circle cx="82.3" cy="137.3" r="1.8" fill="#4cbfca" stroke="#33a3ae" stroke-width="0.5"/><circle cx="83.7" cy="139.8" r="1.6" fill="#4cbfca" stroke="#33a3ae" stroke-width="0.5"/><circle cx="85.6" cy="141.4" r="2.0" fill="#4cbfca" stroke="#33a3ae" stroke-width="0.5"/><circle cx="84.0" cy="143.3" r="1.8" fill="#4cbfca" stroke="#33a3ae" stroke-width="0.5"/><circle cx="83.3" cy="143.6" r="1.7" fill="#4cbfca" stroke="#33a3ae" stroke-width="0.5"/></g>
<g opacity="0.92"><circle cx="101.1" cy="98.7" r="2.5" fill="#4cbfca" stroke="#33a3ae" stroke-width="0.5"/><circle cx="99.2" cy="100.0" r="1.7" fill="#4cbfca" stroke="#33a3ae" stroke-width="0.5"/><circle cx="98.3" cy="102.3" r="2.5" fill="#4cbfca" stroke="#33a3ae" stroke-width="0.5"/><circle cx="99.1" cy="103.3" r="1.7" fill="#4cbfca" stroke="#33a3ae" stroke-width="0.5"/><circle cx="101.8" cy="104.4" r="1.5" fill="#4cbfca" stroke="#33a3ae" stroke-width="0.5"/><circle cx="99.8" cy="106.3" r="2.5" fill="#4cbfca" stroke="#33a3ae" stroke-width="0.5"/><circle cx="99.6" cy="108.4" r="2.6" fill="#4cbfca" stroke="#33a3ae" stroke-width="0.5"/><circle cx="99.6" cy="109.2" r="1.6" fill="#4cbfca" stroke="#33a3ae" stroke-width="0.5"/><circle cx="101.2" cy="111.4" r="1.4" fill="#4cbfca" stroke="#33a3ae" stroke-width="0.5"/><circle cx="101.6" cy="112.3" r="1.8" fill="#4cbfca" stroke="#33a3ae" stroke-width="0.5"/><circle cx="99.9" cy="113.5" r="1.4" fill="#4cbfca" stroke="#33a3ae" stroke-width="0.5"/><circle cx="98.5" cy="115.3" r="2.5" fill="#4cbfca" stroke="#33a3ae" stroke-width="0.5"/><circle cx="98.9" cy="117.7" r="1.6" fill="#4cbfca" stroke="#33a3ae" stroke-width="0.5"/><circle cx="101.0" cy="119.0" r="2.4" fill="#4cbfca" stroke="#33a3ae" stroke-width="0.5"/><circle cx="101.2" cy="119.3" r="2.0" fill="#4cbfca" stroke="#33a3ae" stroke-width="0.5"/><circle cx="99.6" cy="122.2" r="1.6" fill="#4cbfca" stroke="#33a3ae" stroke-width="0.5"/><circle cx="98.9" cy="123.6" r="1.4" fill="#4cbfca" stroke="#33a3ae" stroke-width="0.5"/><circle cx="100.2" cy="125.0" r="2.3" fill="#4cbfca" stroke="#33a3ae" stroke-width="0.5"/><circle cx="101.0" cy="125.3" r="1.5" fill="#4cbfca" stroke="#33a3ae" stroke-width="0.5"/><circle cx="101.8" cy="127.1" r="2.3" fill="#4cbfca" stroke="#33a3ae" stroke-width="0.5"/><circle cx="100.2" cy="128.7" r="1.7" fill="#4cbfca" stroke="#33a3ae" stroke-width="0.5"/><circle cx="100.3" cy="130.7" r="1.7" fill="#4cbfca" stroke="#33a3ae" stroke-width="0.5"/><circle cx="101.5" cy="131.7" r="1.7" fill="#4cbfca" stroke="#33a3ae" stroke-width="0.5"/><circle cx="101.1" cy="133.9" r="2.5" fill="#4cbfca" stroke="#33a3ae" stroke-width="0.5"/><circle cx="101.0" cy="135.7" r="1.4" fill="#4cbfca" stroke="#33a3ae" stroke-width="0.5"/><circle cx="99.1" cy="136.5" r="2.5" fill="#4cbfca" stroke="#33a3ae" stroke-width="0.5"/><circle cx="100.9" cy="137.8" r="1.7" fill="#4cbfca" stroke="#33a3ae" stroke-width="0.5"/><circle cx="101.7" cy="139.5" r="2.5" fill="#4cbfca" stroke="#33a3ae" stroke-width="0.5"/><circle cx="101.4" cy="141.5" r="2.3" fill="#4cbfca" stroke="#33a3ae" stroke-width="0.5"/><circle cx="100.9" cy="142.9" r="2.1" fill="#4cbfca" stroke="#33a3ae" stroke-width="0.5"/><circle cx="99.4" cy="143.7" r="1.8" fill="#4cbfca" stroke="#33a3ae" stroke-width="0.5"/></g>
<path d="M92.5,111 L97.5,126 L93,143 L88,127 Z" fill="#f2a696" opacity="0.85"/>
<circle cx="87.5" cy="97" r="2.8" fill="#e5381c"/>
<circle cx="88.8" cy="110.5" r="2.3" fill="#e23d2c"/>
<circle cx="90.6" cy="104" r="1.7" fill="#e9e45a"/>
<circle cx="94.6" cy="117" r="2.0" fill="#e6e456"/>
<circle cx="89.5" cy="121" r="1.6" fill="#9ccc58"/>
<circle cx="86.5" cy="130" r="1.6" fill="#e6e456"/>
<circle cx="88" cy="137" r="1.6" fill="#8cc850"/>
<circle cx="85.5" cy="143" r="1.6" fill="#e6e050"/>
<circle cx="99.0" cy="124" r="1.6" fill="#e6e04a"/>
<circle cx="100.5" cy="130" r="2.0" fill="#e6e04a"/>
<circle cx="101.3" cy="140.5" r="2.1" fill="#e6e04a"/>
<circle cx="99.5" cy="135" r="1.7" fill="#c43a3a"/>
<circle cx="101.8" cy="146.5" r="2.0" fill="#b8303a"/>
<circle cx="97" cy="98" r="2.2" fill="#c89070"/>
<circle cx="92.5" cy="125" r="2.0" fill="#f2a0a0"/>
<circle cx="94" cy="134" r="2.0" fill="#f4b0a8"/>
<circle cx="91" cy="116" r="1.4" fill="#f0b0a0"/>
</g>
<g filter="url(#bl1)" opacity="0.95" fill="none" stroke="#edd5ed" stroke-linecap="round" stroke-linejoin="round">
<path d="M81,145 C77,152 73,160 73,168 C73,176 78,183 86,187" stroke-width="13"/>
<path d="M104,145 C107,160 107,180 103,197" stroke-width="13"/>
<path d="M76,168 L101,163 L104,198 L82,192 Z" fill="#edd5ed" stroke-width="4"/>
<path d="M104,199 C95,201 80,200 68,197" stroke-width="10"/>
<path d="M69,197 C62,197 58,190 52,187.5 C46,185.5 40,189 37,193 C35,197 33,201 31,205" stroke-width="8.5"/>
</g>
<ellipse cx="91" cy="158" rx="5" ry="8" fill="#fff" filter="url(#bl2)"/>
<g filter="url(#bl3)">
<g opacity="0.75"><circle cx="81.5" cy="145.0" r="2.4" fill="none" stroke="#c898c8" stroke-width="0.55"/><circle cx="102.6" cy="144.4" r="1.6" fill="none" stroke="#c898c8" stroke-width="0.55"/><circle cx="78.0" cy="147.8" r="2.0" fill="none" stroke="#c898c8" stroke-width="0.55"/><circle cx="106.4" cy="148.2" r="1.9" fill="none" stroke="#c898c8" stroke-width="0.55"/><circle cx="77.8" cy="148.9" r="2.4" fill="none" stroke="#c898c8" stroke-width="0.55"/><circle cx="101.4" cy="150.2" r="1.7" fill="none" stroke="#c898c8" stroke-width="0.55"/><circle cx="74.6" cy="151.2" r="2.4" fill="none" stroke="#c898c8" stroke-width="0.55"/><circle cx="105.5" cy="151.3" r="1.9" fill="none" stroke="#c898c8" stroke-width="0.55"/><circle cx="76.7" cy="152.1" r="1.5" fill="none" stroke="#c898c8" stroke-width="0.55"/><circle cx="109.3" cy="154.7" r="2.5" fill="none" stroke="#c898c8" stroke-width="0.55"/><circle cx="79.8" cy="154.3" r="2.3" fill="none" stroke="#c898c8" stroke-width="0.55"/><circle cx="109.2" cy="157.2" r="1.5" fill="none" stroke="#c898c8" stroke-width="0.55"/><circle cx="75.5" cy="156.1" r="2.2" fill="none" stroke="#c898c8" stroke-width="0.55"/><circle cx="102.7" cy="158.7" r="2.1" fill="none" stroke="#c898c8" stroke-width="0.55"/><circle cx="73.3" cy="158.1" r="1.9" fill="none" stroke="#c898c8" stroke-width="0.55"/><circle cx="106.4" cy="160.2" r="2.1" fill="none" stroke="#c898c8" stroke-width="0.55"/><circle cx="78.0" cy="159.1" r="2.3" fill="none" stroke="#c898c8" stroke-width="0.55"/><circle cx="106.9" cy="163.4" r="1.6" fill="none" stroke="#c898c8" stroke-width="0.55"/><circle cx="73.7" cy="160.6" r="1.6" fill="none" stroke="#c898c8" stroke-width="0.55"/><circle cx="106.0" cy="164.9" r="1.9" fill="none" stroke="#c898c8" stroke-width="0.55"/><circle cx="76.5" cy="162.3" r="2.2" fill="none" stroke="#c898c8" stroke-width="0.55"/><circle cx="107.5" cy="168.5" r="2.3" fill="none" stroke="#c898c8" stroke-width="0.55"/><circle cx="77.2" cy="164.2" r="2.0" fill="none" stroke="#c898c8" stroke-width="0.55"/><circle cx="109.5" cy="171.2" r="1.6" fill="none" stroke="#c898c8" stroke-width="0.55"/><circle cx="76.8" cy="167.9" r="2.3" fill="none" stroke="#c898c8" stroke-width="0.55"/><circle cx="104.6" cy="172.0" r="2.6" fill="none" stroke="#c898c8" stroke-width="0.55"/><circle cx="77.2" cy="169.7" r="2.5" fill="none" stroke="#c898c8" stroke-width="0.55"/><circle cx="104.7" cy="175.5" r="2.5" fill="none" stroke="#c898c8" stroke-width="0.55"/><circle cx="73.9" cy="170.3" r="2.3" fill="none" stroke="#c898c8" stroke-width="0.55"/><circle cx="105.2" cy="178.1" r="1.7" fill="none" stroke="#c898c8" stroke-width="0.55"/><circle cx="76.5" cy="171.7" r="2.0" fill="none" stroke="#c898c8" stroke-width="0.55"/><circle cx="105.3" cy="179.0" r="1.7" fill="none" stroke="#c898c8" stroke-width="0.55"/><circle cx="71.7" cy="173.9" r="1.4" fill="none" stroke="#c898c8" stroke-width="0.55"/><circle cx="104.1" cy="181.2" r="2.5" fill="none" stroke="#c898c8" stroke-width="0.55"/><circle cx="71.1" cy="176.8" r="1.6" fill="none" stroke="#c898c8" stroke-width="0.55"/><circle cx="110.2" cy="183.4" r="2.0" fill="none" stroke="#c898c8" stroke-width="0.55"/><circle cx="74.3" cy="177.6" r="2.4" fill="none" stroke="#c898c8" stroke-width="0.55"/><circle cx="105.1" cy="186.6" r="2.5" fill="none" stroke="#c898c8" stroke-width="0.55"/><circle cx="71.6" cy="180.7" r="2.2" fill="none" stroke="#c898c8" stroke-width="0.55"/><circle cx="110.0" cy="189.4" r="1.7" fill="none" stroke="#c898c8" stroke-width="0.55"/><circle cx="74.2" cy="181.7" r="1.8" fill="none" stroke="#c898c8" stroke-width="0.55"/><circle cx="104.4" cy="191.0" r="1.6" fill="none" stroke="#c898c8" stroke-width="0.55"/><circle cx="76.0" cy="182.4" r="2.4" fill="none" stroke="#c898c8" stroke-width="0.55"/><circle cx="106.5" cy="193.7" r="2.6" fill="none" stroke="#c898c8" stroke-width="0.55"/><circle cx="77.1" cy="185.5" r="1.8" fill="none" stroke="#c898c8" stroke-width="0.55"/><circle cx="101.4" cy="194.8" r="1.6" fill="none" stroke="#c898c8" stroke-width="0.55"/><circle cx="73.0" cy="186.9" r="2.0" fill="none" stroke="#c898c8" stroke-width="0.55"/><circle cx="108.6" cy="197.3" r="1.7" fill="none" stroke="#c898c8" stroke-width="0.55"/><circle cx="79.7" cy="173.2" r="1.4" fill="none" stroke="#c898c8" stroke-width="0.55"/><circle cx="77.7" cy="168.8" r="1.8" fill="none" stroke="#c898c8" stroke-width="0.55"/><circle cx="79.6" cy="170.4" r="2.1" fill="none" stroke="#c898c8" stroke-width="0.55"/><circle cx="84.8" cy="176.2" r="2.0" fill="none" stroke="#c898c8" stroke-width="0.55"/><circle cx="86.4" cy="176.4" r="1.7" fill="none" stroke="#c898c8" stroke-width="0.55"/><circle cx="88.0" cy="177.1" r="2.2" fill="none" stroke="#c898c8" stroke-width="0.55"/><circle cx="88.9" cy="183.5" r="1.9" fill="none" stroke="#c898c8" stroke-width="0.55"/><circle cx="92.2" cy="176.9" r="2.2" fill="none" stroke="#c898c8" stroke-width="0.55"/><circle cx="93.3" cy="184.4" r="2.2" fill="none" stroke="#c898c8" stroke-width="0.55"/><circle cx="93.4" cy="184.8" r="2.3" fill="none" stroke="#c898c8" stroke-width="0.55"/><circle cx="94.5" cy="184.8" r="1.5" fill="none" stroke="#c898c8" stroke-width="0.55"/><circle cx="97.4" cy="189.4" r="1.7" fill="none" stroke="#c898c8" stroke-width="0.55"/><circle cx="99.9" cy="187.9" r="1.4" fill="none" stroke="#c898c8" stroke-width="0.55"/><circle cx="100.1" cy="191.2" r="1.6" fill="none" stroke="#c898c8" stroke-width="0.55"/><circle cx="103.4" cy="199.5" r="2.0" fill="none" stroke="#c898c8" stroke-width="0.55"/><circle cx="102.7" cy="197.7" r="1.6" fill="none" stroke="#c898c8" stroke-width="0.55"/><circle cx="100.5" cy="197.3" r="1.5" fill="none" stroke="#c898c8" stroke-width="0.55"/><circle cx="100.1" cy="197.8" r="2.3" fill="none" stroke="#c898c8" stroke-width="0.55"/><circle cx="96.8" cy="200.5" r="2.3" fill="none" stroke="#c898c8" stroke-width="0.55"/><circle cx="96.2" cy="199.2" r="1.9" fill="none" stroke="#c898c8" stroke-width="0.55"/><circle cx="94.1" cy="195.8" r="1.7" fill="none" stroke="#c898c8" stroke-width="0.55"/><circle cx="92.2" cy="196.4" r="2.3" fill="none" stroke="#c898c8" stroke-width="0.55"/><circle cx="92.0" cy="198.7" r="2.3" fill="none" stroke="#c898c8" stroke-width="0.55"/><circle cx="89.6" cy="198.8" r="1.9" fill="none" stroke="#c898c8" stroke-width="0.55"/><circle cx="89.0" cy="199.2" r="1.7" fill="none" stroke="#c898c8" stroke-width="0.55"/><circle cx="87.2" cy="197.6" r="1.7" fill="none" stroke="#c898c8" stroke-width="0.55"/><circle cx="86.1" cy="196.1" r="1.7" fill="none" stroke="#c898c8" stroke-width="0.55"/><circle cx="83.3" cy="199.8" r="2.5" fill="none" stroke="#c898c8" stroke-width="0.55"/><circle cx="82.7" cy="197.8" r="2.5" fill="none" stroke="#c898c8" stroke-width="0.55"/><circle cx="80.4" cy="197.0" r="2.5" fill="none" stroke="#c898c8" stroke-width="0.55"/><circle cx="79.4" cy="198.0" r="2.2" fill="none" stroke="#c898c8" stroke-width="0.55"/><circle cx="78.6" cy="200.4" r="2.4" fill="none" stroke="#c898c8" stroke-width="0.55"/><circle cx="76.4" cy="198.4" r="1.9" fill="none" stroke="#c898c8" stroke-width="0.55"/><circle cx="74.9" cy="198.9" r="1.8" fill="none" stroke="#c898c8" stroke-width="0.55"/><circle cx="72.4" cy="198.1" r="1.5" fill="none" stroke="#c898c8" stroke-width="0.55"/><circle cx="72.2" cy="197.4" r="1.4" fill="none" stroke="#c898c8" stroke-width="0.55"/><circle cx="69.0" cy="201.0" r="1.8" fill="none" stroke="#c898c8" stroke-width="0.55"/><circle cx="67.6" cy="199.7" r="1.4" fill="none" stroke="#c898c8" stroke-width="0.55"/><circle cx="67.1" cy="196.5" r="2.2" fill="none" stroke="#c898c8" stroke-width="0.55"/><circle cx="65.6" cy="194.4" r="2.1" fill="none" stroke="#c898c8" stroke-width="0.55"/><circle cx="63.3" cy="197.8" r="2.4" fill="none" stroke="#c898c8" stroke-width="0.55"/><circle cx="62.8" cy="193.4" r="2.4" fill="none" stroke="#c898c8" stroke-width="0.55"/><circle cx="61.3" cy="193.3" r="1.5" fill="none" stroke="#c898c8" stroke-width="0.55"/><circle cx="58.4" cy="194.3" r="1.4" fill="none" stroke="#c898c8" stroke-width="0.55"/><circle cx="58.1" cy="192.0" r="2.2" fill="none" stroke="#c898c8" stroke-width="0.55"/><circle cx="56.5" cy="191.7" r="1.7" fill="none" stroke="#c898c8" stroke-width="0.55"/><circle cx="53.5" cy="187.3" r="2.3" fill="none" stroke="#c898c8" stroke-width="0.55"/><circle cx="52.2" cy="188.8" r="1.9" fill="none" stroke="#c898c8" stroke-width="0.55"/><circle cx="50.2" cy="186.3" r="1.7" fill="none" stroke="#c898c8" stroke-width="0.55"/><circle cx="50.1" cy="185.5" r="1.8" fill="none" stroke="#c898c8" stroke-width="0.55"/><circle cx="49.0" cy="186.1" r="2.4" fill="none" stroke="#c898c8" stroke-width="0.55"/><circle cx="46.8" cy="189.0" r="1.9" fill="none" stroke="#c898c8" stroke-width="0.55"/><circle cx="44.9" cy="192.5" r="1.8" fill="none" stroke="#c898c8" stroke-width="0.55"/><circle cx="43.8" cy="194.8" r="1.7" fill="none" stroke="#c898c8" stroke-width="0.55"/><circle cx="42.6" cy="191.7" r="2.4" fill="none" stroke="#c898c8" stroke-width="0.55"/><circle cx="39.7" cy="194.9" r="1.6" fill="none" stroke="#c898c8" stroke-width="0.55"/><circle cx="39.3" cy="196.4" r="1.4" fill="none" stroke="#c898c8" stroke-width="0.55"/><circle cx="37.2" cy="196.5" r="2.4" fill="none" stroke="#c898c8" stroke-width="0.55"/><circle cx="35.0" cy="195.7" r="1.8" fill="none" stroke="#c898c8" stroke-width="0.55"/><circle cx="34.8" cy="198.1" r="2.5" fill="none" stroke="#c898c8" stroke-width="0.55"/><circle cx="32.1" cy="201.3" r="2.2" fill="none" stroke="#c898c8" stroke-width="0.55"/><circle cx="31.0" cy="205.1" r="2.2" fill="none" stroke="#c898c8" stroke-width="0.55"/></g>
<g opacity="0.78">
<line x1="85" y1="144" x2="77" y2="162" stroke="#a26aaa" stroke-width="4.0" stroke-linecap="round"/>
<line x1="86.0" y1="146.2" x2="82.7" y2="144.8" stroke="#c79ccd" stroke-width="0.45"/>
<line x1="85.3" y1="147.7" x2="82.0" y2="146.3" stroke="#c79ccd" stroke-width="0.45"/>
<line x1="84.6" y1="149.2" x2="81.4" y2="147.8" stroke="#c79ccd" stroke-width="0.45"/>
<line x1="84.0" y1="150.7" x2="80.7" y2="149.3" stroke="#c79ccd" stroke-width="0.45"/>
<line x1="83.3" y1="152.2" x2="80.0" y2="150.8" stroke="#c79ccd" stroke-width="0.45"/>
<line x1="82.6" y1="153.7" x2="79.4" y2="152.3" stroke="#c79ccd" stroke-width="0.45"/>
<line x1="82.0" y1="155.2" x2="78.7" y2="153.8" stroke="#c79ccd" stroke-width="0.45"/>
<line x1="81.3" y1="156.7" x2="78.0" y2="155.3" stroke="#c79ccd" stroke-width="0.45"/>
<line x1="80.6" y1="158.2" x2="77.4" y2="156.8" stroke="#c79ccd" stroke-width="0.45"/>
<line x1="80.0" y1="159.7" x2="76.7" y2="158.3" stroke="#c79ccd" stroke-width="0.45"/>
<line x1="79.3" y1="161.2" x2="76.0" y2="159.8" stroke="#c79ccd" stroke-width="0.45"/>
<line x1="78.5" y1="175" x2="86" y2="183.5" stroke="#a26aaa" stroke-width="4.2" stroke-linecap="round"/>
<line x1="81.0" y1="175.0" x2="78.2" y2="177.5" stroke="#c79ccd" stroke-width="0.45"/>
<line x1="82.1" y1="176.2" x2="79.2" y2="178.7" stroke="#c79ccd" stroke-width="0.45"/>
<line x1="83.1" y1="177.4" x2="80.3" y2="179.9" stroke="#c79ccd" stroke-width="0.45"/>
<line x1="84.2" y1="178.6" x2="81.4" y2="181.1" stroke="#c79ccd" stroke-width="0.45"/>
<line x1="85.3" y1="179.8" x2="82.4" y2="182.3" stroke="#c79ccd" stroke-width="0.45"/>
<line x1="86.3" y1="181.0" x2="83.5" y2="183.5" stroke="#c79ccd" stroke-width="0.45"/>
<line x1="102.5" y1="146" x2="105" y2="160" stroke="#a26aaa" stroke-width="3.6" stroke-linecap="round"/>
<line x1="104.4" y1="147.5" x2="101.2" y2="148.0" stroke="#c79ccd" stroke-width="0.45"/>
<line x1="104.7" y1="149.2" x2="101.5" y2="149.8" stroke="#c79ccd" stroke-width="0.45"/>
<line x1="105.0" y1="151.0" x2="101.8" y2="151.5" stroke="#c79ccd" stroke-width="0.45"/>
<line x1="105.3" y1="152.7" x2="102.2" y2="153.3" stroke="#c79ccd" stroke-width="0.45"/>
<line x1="105.7" y1="154.5" x2="102.5" y2="155.0" stroke="#c79ccd" stroke-width="0.45"/>
<line x1="106.0" y1="156.2" x2="102.8" y2="156.8" stroke="#c79ccd" stroke-width="0.45"/>
<line x1="106.3" y1="158.0" x2="103.1" y2="158.5" stroke="#c79ccd" stroke-width="0.45"/>
<line x1="99.5" y1="176" x2="103" y2="195" stroke="#a26aaa" stroke-width="4.4" stroke-linecap="round"/>
<line x1="101.7" y1="177.2" x2="97.8" y2="177.9" stroke="#c79ccd" stroke-width="0.45"/>
<line x1="102.0" y1="178.8" x2="98.1" y2="179.5" stroke="#c79ccd" stroke-width="0.45"/>
<line x1="102.3" y1="180.4" x2="98.4" y2="181.1" stroke="#c79ccd" stroke-width="0.45"/>
<line x1="102.6" y1="182.0" x2="98.7" y2="182.7" stroke="#c79ccd" stroke-width="0.45"/>
<line x1="102.9" y1="183.6" x2="99.0" y2="184.3" stroke="#c79ccd" stroke-width="0.45"/>
<line x1="103.2" y1="185.1" x2="99.3" y2="185.9" stroke="#c79ccd" stroke-width="0.45"/>
<line x1="103.5" y1="186.7" x2="99.6" y2="187.4" stroke="#c79ccd" stroke-width="0.45"/>
<line x1="103.8" y1="188.3" x2="99.9" y2="189.0" stroke="#c79ccd" stroke-width="0.45"/>
<line x1="104.1" y1="189.9" x2="100.2" y2="190.6" stroke="#c79ccd" stroke-width="0.45"/>
<line x1="104.4" y1="191.5" x2="100.5" y2="192.2" stroke="#c79ccd" stroke-width="0.45"/>
<line x1="104.7" y1="193.1" x2="100.8" y2="193.8" stroke="#c79ccd" stroke-width="0.45"/>
</g>
<circle cx="101" cy="144" r="1.8" fill="#c43040"/>
</g>
<defs><radialGradient id="rg1"><stop offset="0" stop-color="#fbe6de"/><stop offset="0.55" stop-color="#f6c8bc"/><stop offset="0.85" stop-color="#eb9c8a"/><stop offset="1" stop-color="#f0b0a0" stop-opacity="0.3"/></radialGradient><radialGradient id="rg2"><stop offset="0" stop-color="#fff7d6"/><stop offset="0.6" stop-color="#fdf0c0"/><stop offset="1" stop-color="#fdf0c0" stop-opacity="0"/></radialGradient></defs>
<circle cx="178.1" cy="58.1" r="4.9" fill="url(#rg1)"/>
<circle cx="190.0" cy="80.8" r="4.9" fill="url(#rg1)"/>
<circle cx="178.5" cy="81.9" r="5.2" fill="url(#rg2)"/>
<circle cx="190.0" cy="59.2" r="5.2" fill="url(#rg2)"/>
<polyline points="175.2,81.8 135.7,89.5 136.8,48.9 175.9,59.2 156.6,94.9 126.5,68.9 159.0,45.5 175.2,81.8" fill="none" stroke="#1e1e1e" stroke-width="1.45" stroke-linejoin="miter"/>
<polyline points="192.8,59.5 231.5,49.1 232.9,89.1 193.8,82.1 209.3,45.5 241.6,69.3 211.1,94.9 192.8,59.5" fill="none" stroke="#1e1e1e" stroke-width="1.45" stroke-linejoin="miter"/>
<text x="159.7" y="42.6" font-size="6.8" fill="#2a2a2a" text-anchor="middle">g</text>
<text x="135.3" y="46.6" font-size="6.8" fill="#2a2a2a" text-anchor="middle">c</text>
<text x="123.0" y="70.7" font-size="6.8" fill="#2a2a2a" text-anchor="middle">f</text>
<text x="132.5" y="94.5" font-size="6.8" fill="#2a2a2a" text-anchor="middle">b</text>
<text x="157.7" y="100.5" font-size="6.8" fill="#2a2a2a" text-anchor="middle">e</text>
<text x="178.6" y="84.0" font-size="6.8" fill="#2a2a2a" text-anchor="middle">a</text>
<text x="178.1" y="60.4" font-size="6.8" fill="#2a2a2a" text-anchor="middle">d</text>
<text x="209.3" y="43.2" font-size="6.8" fill="#2a2a2a" text-anchor="middle">e</text>
<text x="234.2" y="47.0" font-size="6.8" fill="#2a2a2a" text-anchor="middle">b</text>
<text x="244.3" y="71.0" font-size="6.8" fill="#2a2a2a" text-anchor="middle">f</text>
<text x="236.2" y="95.2" font-size="6.8" fill="#2a2a2a" text-anchor="middle">c</text>
<text x="210.3" y="99.7" font-size="6.8" fill="#2a2a2a" text-anchor="middle">g</text>
<text x="190.0" y="83.1" font-size="6.8" fill="#2a2a2a" text-anchor="middle">d</text>
<text x="190.2" y="61.5" font-size="6.8" fill="#2a2a2a" text-anchor="middle">a</text>
<text x="262.8" y="16.9" font-size="12" fill="#111" font-weight="bold">B</text>
<text x="356.0" y="28.0" font-size="8.5" fill="#2a2a2a" textLength="37.8" lengthAdjust="spacingAndGlyphs">cc-hTpoR</text>
<circle cx="374.5" cy="120.6" r="87.2" fill="none" stroke="#b3223f" stroke-width="1.6"/>
<path d="M455.23,86.33 L456.51,89.34 L457.68,92.39 L458.73,95.49 L459.67,98.63 L460.49,101.80 L461.20,105.00 L461.78,108.23 L462.25,111.48 L462.59,114.75 L462.81,118.03 L462.91,121.32 L462.86,124.61 L462.69,127.90 L462.40,131.19 L461.99,134.46 L461.45,137.71 L460.80,140.95 L460.02,144.16 L459.13,147.34 L458.11,150.48 L456.98,153.59 L455.74,156.66 L454.38,159.67 L452.90,162.64 L451.31,165.55 L449.58,168.37 L447.73,171.12 L445.79,173.80 L443.75,176.41 L441.61,178.94 L439.39,181.39 L437.07,183.75 L434.66,186.03 L432.18,188.21 L429.61,190.30 L426.97,192.29 L424.26,194.18 L421.48,195.97 L418.63,197.65 L415.72,199.22 L412.75,200.67 L409.73,202.01 L406.66,203.23 L403.55,204.34 L400.41,205.33 L397.23,206.21 L394.02,206.96 L390.78,207.60 L387.53,208.11 L384.26,208.51 L380.98,208.78 L377.69,208.92 L374.40,208.95 L371.11,208.82 L367.83,208.57 L364.57,208.20 L361.33,207.70 L358.11,207.09 L354.91,206.36 L351.73,205.57 L352.13,204.09 L355.25,204.87 L358.41,205.46 L361.59,205.94 L364.79,206.30 L367.99,206.53 L371.19,206.65 L374.40,206.65 L377.60,206.56 L380.80,206.36 L383.98,206.03 L387.15,205.59 L390.30,205.03 L393.42,204.35 L396.52,203.55 L399.58,202.65 L402.61,201.63 L405.60,200.49 L408.54,199.25 L411.43,197.90 L414.26,196.44 L417.04,194.88 L419.77,193.23 L422.43,191.49 L425.03,189.64 L427.56,187.70 L430.01,185.67 L432.38,183.55 L434.68,181.34 L436.89,179.05 L439.01,176.68 L441.04,174.23 L442.98,171.70 L444.82,169.11 L446.57,166.45 L448.21,163.73 L449.80,160.97 L451.28,158.16 L452.67,155.29 L453.94,152.38 L455.11,149.41 L456.17,146.40 L457.12,143.36 L457.95,140.27 L458.66,137.16 L459.26,134.03 L459.75,130.87 L460.11,127.69 L460.36,124.50 L460.49,121.30 L460.51,118.10 L460.43,114.89 L460.22,111.69 L459.89,108.50 L459.45,105.32 L458.88,102.15 L458.20,99.01 L457.40,95.89 L456.48,92.80 L455.45,89.74 L454.31,86.72 Z" fill="#1e9a48"/>
<text x="262.3" y="62.2" font-size="7.0" fill="#c43c64" textLength="37.5" lengthAdjust="spacingAndGlyphs">Inactive with</text>
<text x="267.6" y="70.4" font-size="7.0" fill="#c43c64" textLength="27.4" lengthAdjust="spacingAndGlyphs">JAK2 WT</text>
<text x="442.1" y="194.8" font-size="7.0" fill="#4aac60" textLength="33.2" lengthAdjust="spacingAndGlyphs">Active with</text>
<text x="444.7" y="202.8" font-size="7.0" fill="#4aac60" textLength="27.7" lengthAdjust="spacingAndGlyphs">JAK2 WT</text>
<polyline points="375.90,93.80 403.69,128.64 363.53,147.98 353.62,104.53 398.18,104.53 388.27,147.98 348.11,128.64 375.90,93.80" fill="none" stroke="#222" stroke-width="1.1"/>
<circle cx="375.90" cy="93.80" r="1.5" fill="#111"/>
<circle cx="398.18" cy="104.53" r="1.5" fill="#111"/>
<circle cx="403.69" cy="128.64" r="1.5" fill="#111"/>
<circle cx="388.27" cy="147.98" r="1.5" fill="#111"/>
<circle cx="363.53" cy="147.98" r="1.5" fill="#111"/>
<circle cx="348.11" cy="128.64" r="1.5" fill="#111"/>
<circle cx="353.62" cy="104.53" r="1.5" fill="#111"/>
<text x="379.8" y="66.2" font-size="6.9" fill="#333" textLength="22.0" lengthAdjust="spacingAndGlyphs">Phe517</text>
<text x="376.4" y="74.2" font-size="6.9" fill="#333" textLength="22.0" lengthAdjust="spacingAndGlyphs">Leu510</text>
<text x="374.7" y="82.1" font-size="6.9" fill="#333" textLength="21.4" lengthAdjust="spacingAndGlyphs">Gly503</text>
<text x="372.9" y="89.9" font-size="6.9" fill="#333" textLength="20.8" lengthAdjust="spacingAndGlyphs">Thr496</text>
<text x="318.8" y="81.8" font-size="6.9" fill="#333" textLength="21.9" lengthAdjust="spacingAndGlyphs">Leu513</text>
<text x="323.5" y="89.8" font-size="6.9" fill="#333" textLength="21.0" lengthAdjust="spacingAndGlyphs">Ala506</text>
<text x="329.2" y="97.6" font-size="6.9" fill="#333" textLength="20.4" lengthAdjust="spacingAndGlyphs">His499</text>
<text x="332.7" y="105.5" font-size="6.9" fill="#333" textLength="18.5" lengthAdjust="spacingAndGlyphs">Ile492</text>
<text x="406.2" y="81.4" font-size="6.9" fill="#333" textLength="22.3" lengthAdjust="spacingAndGlyphs">Arg514</text>
<text x="404.6" y="89.2" font-size="6.9" fill="#333" textLength="20.0" lengthAdjust="spacingAndGlyphs">Val507</text>
<text x="402.0" y="97.4" font-size="6.9" fill="#333" textLength="21.5" lengthAdjust="spacingAndGlyphs">Leu500</text>
<text x="401.0" y="105.4" font-size="6.9" fill="#333" textLength="21.0" lengthAdjust="spacingAndGlyphs">Ser493</text>
<text x="406.1" y="131.4" font-size="6.9" fill="#333" textLength="21.0" lengthAdjust="spacingAndGlyphs">Ala497</text>
<text x="410.8" y="139.7" font-size="6.9" fill="#333" textLength="21.4" lengthAdjust="spacingAndGlyphs">Leu504</text>
<text x="414.2" y="147.8" font-size="6.9" fill="#333" textLength="21.6" lengthAdjust="spacingAndGlyphs">Leu511</text>
<text x="417.8" y="155.7" font-size="6.9" fill="#333" textLength="21.5" lengthAdjust="spacingAndGlyphs">Pro518</text>
<text x="386.2" y="156.8" font-size="6.9" fill="#333" textLength="21.0" lengthAdjust="spacingAndGlyphs">Leu494</text>
<text x="389.2" y="164.9" font-size="6.9" fill="#333" textLength="19.3" lengthAdjust="spacingAndGlyphs">Val501</text>
<text x="391.5" y="172.9" font-size="6.9" fill="#333" textLength="21.5" lengthAdjust="spacingAndGlyphs">Leu508</text>
<text x="400.0" y="180.6" font-size="6.9" fill="#333" textLength="20.8" lengthAdjust="spacingAndGlyphs">Trp515</text>
<text x="346.9" y="158.0" font-size="6.9" fill="#333" textLength="22.0" lengthAdjust="spacingAndGlyphs">Leu498</text>
<text x="343.0" y="166.0" font-size="6.9" fill="#333" textLength="20.8" lengthAdjust="spacingAndGlyphs">Ser505</text>
<text x="340.3" y="174.0" font-size="6.9" fill="#333" textLength="22.0" lengthAdjust="spacingAndGlyphs">Leu512</text>
<text x="325.4" y="131.7" font-size="6.9" fill="#333" textLength="20.0" lengthAdjust="spacingAndGlyphs">Val495</text>
<text x="320.0" y="139.8" font-size="6.9" fill="#333" textLength="21.5" lengthAdjust="spacingAndGlyphs">Leu502</text>
<text x="315.8" y="147.6" font-size="6.9" fill="#333" textLength="21.1" lengthAdjust="spacingAndGlyphs">Gly509</text>
<text x="312.0" y="155.5" font-size="6.9" fill="#333" textLength="21.0" lengthAdjust="spacingAndGlyphs">Gln516</text>
<text x="332.6" y="60.8" font-size="6.4" fill="#1a1a1a" font-weight="bold" textLength="37.6" lengthAdjust="spacingAndGlyphs">cc-hTpoR VI</text>
<text x="403.8" y="70.3" font-size="6.4" fill="#1a1a1a" font-weight="bold" textLength="37.0" lengthAdjust="spacingAndGlyphs">cc-hTpoR III</text>
<text x="298.9" y="116.7" font-size="6.4" fill="#1a1a1a" font-weight="bold" textLength="34.5" lengthAdjust="spacingAndGlyphs">cc-hTpoR II</text>
<text x="414.2" y="118.8" font-size="6.4" fill="#1a1a1a" font-weight="bold" textLength="35.0" lengthAdjust="spacingAndGlyphs">cc-hTpoR 0</text>
<text x="302.8" y="164.6" font-size="6.4" fill="#1a1a1a" font-weight="bold" textLength="34.9" lengthAdjust="spacingAndGlyphs">cc-hTpoR V</text>
<text x="410.8" y="162.0" font-size="6.4" fill="#1a1a1a" font-weight="bold" textLength="38.0" lengthAdjust="spacingAndGlyphs">cc-hTpoR IV</text>
<text x="358.8" y="181.5" font-size="6.4" fill="#1a1a1a" font-weight="bold" textLength="32.4" lengthAdjust="spacingAndGlyphs">cc-hTpoR I</text>
<text x="7.0" y="235.4" font-size="12" fill="#111" font-weight="bold">C</text>
<text x="116.3" y="246.5" font-size="9.4" fill="#222" text-anchor="middle" textLength="23.5" lengthAdjust="spacingAndGlyphs">Ba/F3</text>
<line x1="51.7" y1="252.3" x2="51.7" y2="379.5" stroke="#3a3a3a" stroke-width="1.5"/>
<line x1="50.9" y1="379.5" x2="181" y2="379.5" stroke="#3a3a3a" stroke-width="1.5"/>
<line x1="48.7" y1="254.5" x2="51.5" y2="254.5" stroke="#333" stroke-width="1"/>
<text x="21.9" y="256.9" font-size="7.0" fill="#2e2e2e" textLength="21.4" lengthAdjust="spacingAndGlyphs">2.0×10</text>
<text x="43.4" y="254.3" font-size="4.20" fill="#2e2e2e">7</text>
<line x1="48.7" y1="285.5" x2="51.5" y2="285.5" stroke="#333" stroke-width="1"/>
<text x="21.9" y="287.9" font-size="7.0" fill="#2e2e2e" textLength="21.4" lengthAdjust="spacingAndGlyphs">1.5×10</text>
<text x="43.4" y="285.3" font-size="4.20" fill="#2e2e2e">7</text>
<line x1="48.7" y1="317.5" x2="51.5" y2="317.5" stroke="#333" stroke-width="1"/>
<text x="21.9" y="319.9" font-size="7.0" fill="#2e2e2e" textLength="21.4" lengthAdjust="spacingAndGlyphs">1.0×10</text>
<text x="43.4" y="317.3" font-size="4.20" fill="#2e2e2e">7</text>
<line x1="48.7" y1="348.5" x2="51.5" y2="348.5" stroke="#333" stroke-width="1"/>
<text x="21.9" y="350.9" font-size="7.0" fill="#2e2e2e" textLength="21.4" lengthAdjust="spacingAndGlyphs">5.0×10</text>
<text x="43.4" y="348.3" font-size="4.20" fill="#2e2e2e">6</text>
<line x1="48.7" y1="379.5" x2="51.5" y2="379.5" stroke="#333" stroke-width="1"/>
<text x="45.8" y="381.9" font-size="7.0" fill="#2e2e2e" text-anchor="end" textLength="9.6" lengthAdjust="spacingAndGlyphs">0.0</text>
<line x1="65.0" y1="379.5" x2="65.0" y2="382.3" stroke="#333" stroke-width="1"/>
<text x="65.0" y="392.0" font-size="6.4" fill="#2a2a2a" text-anchor="middle" textLength="18.3" lengthAdjust="spacingAndGlyphs">Day 0</text>
<line x1="90.6" y1="379.5" x2="90.6" y2="382.3" stroke="#333" stroke-width="1"/>
<text x="90.6" y="392.0" font-size="6.4" fill="#2a2a2a" text-anchor="middle" textLength="18.3" lengthAdjust="spacingAndGlyphs">Day 1</text>
<line x1="116.4" y1="379.5" x2="116.4" y2="382.3" stroke="#333" stroke-width="1"/>
<text x="116.4" y="392.0" font-size="6.4" fill="#2a2a2a" text-anchor="middle" textLength="18.3" lengthAdjust="spacingAndGlyphs">Day 2</text>
<line x1="142.4" y1="379.5" x2="142.4" y2="382.3" stroke="#333" stroke-width="1"/>
<text x="142.4" y="392.0" font-size="6.4" fill="#2a2a2a" text-anchor="middle" textLength="18.3" lengthAdjust="spacingAndGlyphs">Day 3</text>
<line x1="168.4" y1="379.5" x2="168.4" y2="382.3" stroke="#333" stroke-width="1"/>
<text x="168.4" y="392.0" font-size="6.4" fill="#2a2a2a" text-anchor="middle" textLength="18.3" lengthAdjust="spacingAndGlyphs">Day 4</text>
<text transform="translate(14.6,315.6) rotate(-90)" font-size="8.2" fill="#333" text-anchor="middle" textLength="38.5" lengthAdjust="spacingAndGlyphs">Cell number</text>
<polyline points="65.0,379.0 90.6,378.4 116.4,377.8 142.4,377.2 168.4,376.6" fill="none" stroke="#9aa0c8" stroke-width="1.2"/>
<circle cx="65.0" cy="379.0" r="1.2" fill="#9aa0c8"/>
<circle cx="90.6" cy="378.4" r="1.2" fill="#9aa0c8"/>
<circle cx="116.4" cy="377.8" r="1.2" fill="#9aa0c8"/>
<circle cx="142.4" cy="377.2" r="1.2" fill="#9aa0c8"/>
<circle cx="168.4" cy="376.6" r="1.2" fill="#9aa0c8"/>
<polyline points="65.0,379.0 90.6,378.3 116.4,377.5 142.4,376.8 168.4,376.0" fill="none" stroke="#c5d4dc" stroke-width="1.2"/>
<circle cx="65.0" cy="379.0" r="1.2" fill="#c5d4dc"/>
<circle cx="90.6" cy="378.3" r="1.2" fill="#c5d4dc"/>
<circle cx="116.4" cy="377.5" r="1.2" fill="#c5d4dc"/>
<circle cx="142.4" cy="376.8" r="1.2" fill="#c5d4dc"/>
<circle cx="168.4" cy="376.0" r="1.2" fill="#c5d4dc"/>
<polyline points="65.0,379.0 90.6,378.5 116.4,377.8 142.4,376.9 168.4,375.6" fill="none" stroke="#f2b53a" stroke-width="1.2"/>
<circle cx="65.0" cy="379.0" r="1.2" fill="#f2b53a"/>
<circle cx="90.6" cy="378.5" r="1.2" fill="#f2b53a"/>
<circle cx="116.4" cy="377.8" r="1.2" fill="#f2b53a"/>
<circle cx="142.4" cy="376.9" r="1.2" fill="#f2b53a"/>
<circle cx="168.4" cy="375.6" r="1.2" fill="#f2b53a"/>
<polyline points="65.0,379.0 90.6,378.2 116.4,376.8 142.4,374.5 168.4,373.2" fill="none" stroke="#2ba4d8" stroke-width="1.2"/>
<line x1="168.4" y1="371.5" x2="168.4" y2="373.2" stroke="#2ba4d8" stroke-width="0.9"/>
<line x1="166.9" y1="371.5" x2="169.9" y2="371.5" stroke="#2ba4d8" stroke-width="0.9"/>
<circle cx="65.0" cy="379.0" r="1.2" fill="#2ba4d8"/>
<circle cx="90.6" cy="378.2" r="1.2" fill="#2ba4d8"/>
<circle cx="116.4" cy="376.8" r="1.2" fill="#2ba4d8"/>
<circle cx="142.4" cy="374.5" r="1.2" fill="#2ba4d8"/>
<circle cx="168.4" cy="373.2" r="1.2" fill="#2ba4d8"/>
<polyline points="65.0,379.0 90.6,377.2 116.4,374.2 142.4,362.5 168.4,332.5" fill="none" stroke="#b5b84a" stroke-width="1.2"/>
<circle cx="65.0" cy="379.0" r="1.2" fill="#b5b84a"/>
<circle cx="90.6" cy="377.2" r="1.2" fill="#b5b84a"/>
<circle cx="116.4" cy="374.2" r="1.2" fill="#b5b84a"/>
<circle cx="142.4" cy="362.5" r="1.2" fill="#b5b84a"/>
<circle cx="168.4" cy="332.5" r="1.2" fill="#b5b84a"/>
<polyline points="65.0,379.0 90.6,377.2 116.4,374.4 142.4,362.9 168.4,330.3" fill="none" stroke="#c77a2c" stroke-width="1.2"/>
<line x1="168.4" y1="324.6" x2="168.4" y2="330.3" stroke="#c77a2c" stroke-width="0.9"/>
<line x1="166.9" y1="324.6" x2="169.9" y2="324.6" stroke="#c77a2c" stroke-width="0.9"/>
<circle cx="65.0" cy="379.0" r="1.2" fill="#c77a2c"/>
<circle cx="90.6" cy="377.2" r="1.2" fill="#c77a2c"/>
<circle cx="116.4" cy="374.4" r="1.2" fill="#c77a2c"/>
<circle cx="142.4" cy="362.9" r="1.2" fill="#c77a2c"/>
<circle cx="168.4" cy="330.3" r="1.2" fill="#c77a2c"/>
<polyline points="65.0,379.0 90.6,377.0 116.4,373.8 142.4,361.3 168.4,340.6" fill="none" stroke="#2e9e45" stroke-width="1.2"/>
<line x1="168.4" y1="332.8" x2="168.4" y2="340.6" stroke="#2e9e45" stroke-width="0.9"/>
<line x1="166.9" y1="332.8" x2="169.9" y2="332.8" stroke="#2e9e45" stroke-width="0.9"/>
<circle cx="65.0" cy="379.0" r="1.2" fill="#2e9e45"/>
<circle cx="90.6" cy="377.0" r="1.2" fill="#2e9e45"/>
<circle cx="116.4" cy="373.8" r="1.2" fill="#2e9e45"/>
<circle cx="142.4" cy="361.3" r="1.2" fill="#2e9e45"/>
<circle cx="168.4" cy="340.6" r="1.2" fill="#2e9e45"/>
<polyline points="65.0,379.0 90.6,376.6 116.4,373.3 142.4,355.3 168.4,314.1" fill="none" stroke="#d4207c" stroke-width="1.2"/>
<line x1="142.4" y1="352.3" x2="142.4" y2="355.3" stroke="#d4207c" stroke-width="0.9"/>
<line x1="140.9" y1="352.3" x2="143.9" y2="352.3" stroke="#d4207c" stroke-width="0.9"/>
<line x1="168.4" y1="306" x2="168.4" y2="314.1" stroke="#d4207c" stroke-width="0.9"/>
<line x1="166.9" y1="306" x2="169.9" y2="306" stroke="#d4207c" stroke-width="0.9"/>
<circle cx="65.0" cy="379.0" r="1.2" fill="#d4207c"/>
<circle cx="90.6" cy="376.6" r="1.2" fill="#d4207c"/>
<circle cx="116.4" cy="373.3" r="1.2" fill="#d4207c"/>
<circle cx="142.4" cy="355.3" r="1.2" fill="#d4207c"/>
<circle cx="168.4" cy="314.1" r="1.2" fill="#d4207c"/>
<polyline points="65.0,379.0 90.6,374.3 116.4,363.2 142.4,328.8 168.4,293.5" fill="none" stroke="#b51f3e" stroke-width="1.2"/>
<line x1="116.4" y1="360.8" x2="116.4" y2="363.2" stroke="#b51f3e" stroke-width="0.9"/>
<line x1="114.9" y1="360.8" x2="117.9" y2="360.8" stroke="#b51f3e" stroke-width="0.9"/>
<line x1="142.4" y1="316.2" x2="142.4" y2="328.8" stroke="#b51f3e" stroke-width="0.9"/>
<line x1="140.9" y1="316.2" x2="143.9" y2="316.2" stroke="#b51f3e" stroke-width="0.9"/>
<line x1="168.4" y1="276.5" x2="168.4" y2="293.5" stroke="#b51f3e" stroke-width="0.9"/>
<line x1="166.9" y1="276.5" x2="169.9" y2="276.5" stroke="#b51f3e" stroke-width="0.9"/>
<circle cx="65.0" cy="379.0" r="1.2" fill="#b51f3e"/>
<circle cx="90.6" cy="374.3" r="1.2" fill="#b51f3e"/>
<circle cx="116.4" cy="363.2" r="1.2" fill="#b51f3e"/>
<circle cx="142.4" cy="328.8" r="1.2" fill="#b51f3e"/>
<circle cx="168.4" cy="293.5" r="1.2" fill="#b51f3e"/>
<circle cx="65.0" cy="379" r="1.5" fill="#2b8fb8"/>
<circle cx="171.8" cy="293.0" r="0.95" fill="#333"/>
<circle cx="174.7" cy="293.0" r="0.95" fill="#333"/>
<circle cx="177.6" cy="293.0" r="0.95" fill="#333"/>
<circle cx="180.5" cy="293.0" r="0.95" fill="#333"/>
<circle cx="171.8" cy="313.4" r="0.95" fill="#333"/>
<circle cx="174.7" cy="313.4" r="0.95" fill="#333"/>
<circle cx="177.6" cy="313.4" r="0.95" fill="#333"/>
<circle cx="180.5" cy="313.4" r="0.95" fill="#333"/>
<circle cx="175.2" cy="329.2" r="0.95" fill="#333"/>
<circle cx="178.1" cy="329.2" r="0.95" fill="#333"/>
<circle cx="177.0" cy="338.4" r="0.95" fill="#333"/>
<polyline points="180,283.2 183.8,283.2 183.8,375.2 180,375.2" fill="none" stroke="#333" stroke-width="1"/>
<ellipse cx="189.3" cy="290.1" rx="2.3" ry="1.1" fill="#3aa6c6"/>
<text x="194.6" y="292.2" font-size="6.0" fill="#2e2e2e">hTpoR WT</text>
<ellipse cx="189.3" cy="298.4" rx="2.3" ry="1.1" fill="#8e1a32"/>
<text x="194.6" y="300.5" font-size="6.0" fill="#2e2e2e">hTpoR WT +</text>
<text x="194.6" y="308.8" font-size="6.0" fill="#2e2e2e">5 ng/ml Tpo</text>
<ellipse cx="189.3" cy="314.7" rx="2.3" ry="1.1" fill="#3a8a50"/>
<text x="194.6" y="316.8" font-size="6.0" fill="#2e2e2e">cc-hTpoR 0</text>
<ellipse cx="189.3" cy="323.6" rx="2.3" ry="1.1" fill="#8e1a8e"/>
<text x="194.6" y="325.7" font-size="6.0" fill="#2e2e2e">cc-hTpoR I</text>
<ellipse cx="189.3" cy="332.5" rx="2.3" ry="1.1" fill="#f0b040"/>
<text x="194.6" y="334.6" font-size="6.0" fill="#2e2e2e">cc-hTpoR II</text>
<ellipse cx="189.3" cy="341.4" rx="2.3" ry="1.1" fill="#b8c8d0"/>
<text x="194.6" y="343.5" font-size="6.0" fill="#2e2e2e">cc-hTpoR III</text>
<ellipse cx="189.3" cy="350.2" rx="2.3" ry="1.1" fill="#905a30"/>
<text x="194.6" y="352.3" font-size="6.0" fill="#2e2e2e">cc-hTpoR IV</text>
<ellipse cx="189.3" cy="359.1" rx="2.3" ry="1.1" fill="#a8b098"/>
<text x="194.6" y="361.2" font-size="6.0" fill="#2e2e2e">cc-hTpoR V</text>
<ellipse cx="189.3" cy="368.0" rx="2.3" ry="1.1" fill="#7878a8"/>
<text x="194.6" y="370.1" font-size="6.0" fill="#2e2e2e">cc-hTpoR VI</text>
<text x="246.6" y="235.3" font-size="12" fill="#111" font-weight="bold">D</text>
<text x="315.9" y="235.3" font-size="9.4" fill="#222" text-anchor="middle" textLength="23.5" lengthAdjust="spacingAndGlyphs">Ba/F3</text>
<text x="315.9" y="247.0" font-size="6.6" fill="#2a2a2a" text-anchor="middle" textLength="25.6" lengthAdjust="spacingAndGlyphs">p-STAT5</text>
<rect x="258.3" y="252.0" width="114.0" height="128.0" fill="#fff" stroke="#555" stroke-width="0.9"/>
<path d="M258.3,279.6 L259.1,279.6 L260.0,279.6 L260.8,279.6 L261.7,279.6 L262.5,279.6 L263.3,279.6 L264.2,279.6 L265.0,279.6 L265.8,279.6 L266.7,279.6 L267.5,279.6 L268.4,279.6 L269.2,279.6 L270.0,279.6 L270.9,279.6 L271.7,279.6 L272.6,279.6 L273.4,279.6 L274.2,279.6 L275.1,279.6 L275.9,279.6 L276.7,279.6 L277.6,279.6 L278.4,279.6 L279.3,279.6 L280.1,279.6 L280.9,279.6 L281.8,279.6 L282.6,279.6 L283.4,279.6 L284.3,279.6 L285.1,279.6 L286.0,279.6 L286.8,279.6 L287.6,279.5 L288.5,279.5 L289.3,279.5 L290.2,279.5 L291.0,279.5 L291.8,279.5 L292.7,279.5 L293.5,279.4 L294.3,279.4 L295.2,279.4 L296.0,279.4 L296.9,279.3 L297.7,279.3 L298.5,279.2 L299.4,279.2 L300.2,279.2 L301.1,279.1 L301.9,279.0 L302.7,279.0 L303.6,278.9 L304.4,278.8 L305.2,278.8 L306.1,278.7 L306.9,278.6 L307.8,278.4 L308.6,278.3 L309.4,278.1 L310.3,277.9 L311.1,277.6 L311.9,277.2 L312.8,276.8 L313.6,276.2 L314.5,275.5 L315.3,274.7 L316.1,273.7 L317.0,272.5 L317.8,271.0 L318.7,269.3 L319.5,267.5 L320.3,265.5 L321.2,263.5 L322.0,261.9 L322.8,260.3 L323.7,259.0 L324.5,257.6 L325.4,256.5 L326.2,256.2 L327.0,256.0 L327.9,257.0 L328.7,258.3 L329.6,260.6 L330.4,263.1 L331.2,265.4 L332.1,268.0 L332.9,270.4 L333.7,272.4 L334.6,274.0 L335.4,275.3 L336.3,276.3 L337.1,277.0 L337.9,277.6 L338.8,277.9 L339.6,278.2 L340.4,278.4 L341.3,278.6 L342.1,278.7 L343.0,278.9 L343.8,279.0 L344.6,279.0 L345.5,279.1 L346.3,279.2 L347.2,279.3 L348.0,279.3 L348.8,279.4 L349.7,279.4 L350.5,279.4 L351.3,279.5 L352.2,279.5 L353.0,279.5 L353.9,279.5 L354.7,279.5 L355.5,279.6 L356.4,279.6 L357.2,279.6 L358.1,279.6 L358.9,279.6 L359.7,279.6 L360.6,279.6 L361.4,279.6 L362.2,279.6 L363.1,279.6 L363.9,279.6 L364.8,279.6 L365.6,279.6 L366.4,279.6 L367.3,279.6 L368.1,279.6 L368.9,279.6 L369.8,279.6 L370.6,279.6 L371.5,279.6 L372.3,279.6 L372.3,279.6 L258.3,279.6 Z" fill="#6db3e6" fill-opacity="0.93" stroke="none"/>
<path d="M258.3,279.6 L259.1,279.6 L260.0,279.6 L260.8,279.6 L261.7,279.6 L262.5,279.6 L263.3,279.6 L264.2,279.6 L265.0,279.6 L265.8,279.6 L266.7,279.6 L267.5,279.6 L268.4,279.6 L269.2,279.6 L270.0,279.6 L270.9,279.6 L271.7,279.6 L272.6,279.6 L273.4,279.6 L274.2,279.6 L275.1,279.6 L275.9,279.6 L276.7,279.6 L277.6,279.6 L278.4,279.6 L279.3,279.6 L280.1,279.6 L280.9,279.6 L281.8,279.6 L282.6,279.6 L283.4,279.6 L284.3,279.6 L285.1,279.6 L286.0,279.6 L286.8,279.6 L287.6,279.5 L288.5,279.5 L289.3,279.5 L290.2,279.5 L291.0,279.5 L291.8,279.5 L292.7,279.5 L293.5,279.4 L294.3,279.4 L295.2,279.4 L296.0,279.4 L296.9,279.3 L297.7,279.3 L298.5,279.2 L299.4,279.2 L300.2,279.2 L301.1,279.1 L301.9,279.0 L302.7,279.0 L303.6,278.9 L304.4,278.8 L305.2,278.8 L306.1,278.7 L306.9,278.6 L307.8,278.4 L308.6,278.3 L309.4,278.1 L310.3,277.9 L311.1,277.6 L311.9,277.2 L312.8,276.8 L313.6,276.2 L314.5,275.5 L315.3,274.7 L316.1,273.7 L317.0,272.5 L317.8,271.0 L318.7,269.3 L319.5,267.5 L320.3,265.5 L321.2,263.5 L322.0,261.9 L322.8,260.3 L323.7,259.0 L324.5,257.6 L325.4,256.5 L326.2,256.2 L327.0,256.0 L327.9,257.0 L328.7,258.3 L329.6,260.6 L330.4,263.1 L331.2,265.4 L332.1,268.0 L332.9,270.4 L333.7,272.4 L334.6,274.0 L335.4,275.3 L336.3,276.3 L337.1,277.0 L337.9,277.6 L338.8,277.9 L339.6,278.2 L340.4,278.4 L341.3,278.6 L342.1,278.7 L343.0,278.9 L343.8,279.0 L344.6,279.0 L345.5,279.1 L346.3,279.2 L347.2,279.3 L348.0,279.3 L348.8,279.4 L349.7,279.4 L350.5,279.4 L351.3,279.5 L352.2,279.5 L353.0,279.5 L353.9,279.5 L354.7,279.5 L355.5,279.6 L356.4,279.6 L357.2,279.6 L358.1,279.6 L358.9,279.6 L359.7,279.6 L360.6,279.6 L361.4,279.6 L362.2,279.6 L363.1,279.6 L363.9,279.6 L364.8,279.6 L365.6,279.6 L366.4,279.6 L367.3,279.6 L368.1,279.6 L368.9,279.6 L369.8,279.6 L370.6,279.6 L371.5,279.6 L372.3,279.6" fill="none" stroke="#262626" stroke-width="0.85"/>
<line x1="258.3" y1="279.6" x2="372.3" y2="279.6" stroke="#444" stroke-width="0.7"/>
<path d="M258.3,292.1 L259.1,292.1 L260.0,292.1 L260.8,292.1 L261.7,292.1 L262.5,292.1 L263.3,292.1 L264.2,292.1 L265.0,292.1 L265.8,292.1 L266.7,292.1 L267.5,292.1 L268.4,292.1 L269.2,292.1 L270.0,292.1 L270.9,292.1 L271.7,292.1 L272.6,292.1 L273.4,292.1 L274.2,292.1 L275.1,292.1 L275.9,292.1 L276.7,292.1 L277.6,292.1 L278.4,292.1 L279.3,292.1 L280.1,292.1 L280.9,292.1 L281.8,292.1 L282.6,292.1 L283.4,292.1 L284.3,292.1 L285.1,292.1 L286.0,292.1 L286.8,292.1 L287.6,292.1 L288.5,292.1 L289.3,292.1 L290.2,292.1 L291.0,292.1 L291.8,292.1 L292.7,292.1 L293.5,292.1 L294.3,292.1 L295.2,292.1 L296.0,292.1 L296.9,292.1 L297.7,292.1 L298.5,292.0 L299.4,292.0 L300.2,292.0 L301.1,292.0 L301.9,292.0 L302.7,292.0 L303.6,292.0 L304.4,291.9 L305.2,291.9 L306.1,291.9 L306.9,291.9 L307.8,291.8 L308.6,291.8 L309.4,291.8 L310.3,291.8 L311.1,291.7 L311.9,291.7 L312.8,291.6 L313.6,291.6 L314.5,291.6 L315.3,291.5 L316.1,291.5 L317.0,291.4 L317.8,291.4 L318.7,291.3 L319.5,291.3 L320.3,291.2 L321.2,291.1 L322.0,291.0 L322.8,290.9 L323.7,290.8 L324.5,290.7 L325.4,290.5 L326.2,290.3 L327.0,290.0 L327.9,289.7 L328.7,289.2 L329.6,288.6 L330.4,287.9 L331.2,286.9 L332.1,285.9 L332.9,284.3 L333.7,282.7 L334.6,281.1 L335.4,279.2 L336.3,277.4 L337.1,276.2 L337.9,275.7 L338.8,274.4 L339.6,273.3 L340.4,273.0 L341.3,273.1 L342.1,271.8 L343.0,272.2 L343.8,272.4 L344.6,272.4 L345.5,271.9 L346.3,270.4 L347.2,270.7 L348.0,270.5 L348.8,270.1 L349.7,269.0 L350.5,269.6 L351.3,269.5 L352.2,270.6 L353.0,271.1 L353.9,272.3 L354.7,273.9 L355.5,275.5 L356.4,276.4 L357.2,277.7 L358.1,279.4 L358.9,280.9 L359.7,282.3 L360.6,283.7 L361.4,285.0 L362.2,285.9 L363.1,287.0 L363.9,287.8 L364.8,288.5 L365.6,289.1 L366.4,289.5 L367.3,289.9 L368.1,290.1 L368.9,290.4 L369.8,290.6 L370.6,290.8 L371.5,290.9 L372.3,291.0 L372.3,292.15000000000003 L258.3,292.15000000000003 Z" fill="#dd5249" fill-opacity="0.93" stroke="none"/>
<path d="M258.3,292.1 L259.1,292.1 L260.0,292.1 L260.8,292.1 L261.7,292.1 L262.5,292.1 L263.3,292.1 L264.2,292.1 L265.0,292.1 L265.8,292.1 L266.7,292.1 L267.5,292.1 L268.4,292.1 L269.2,292.1 L270.0,292.1 L270.9,292.1 L271.7,292.1 L272.6,292.1 L273.4,292.1 L274.2,292.1 L275.1,292.1 L275.9,292.1 L276.7,292.1 L277.6,292.1 L278.4,292.1 L279.3,292.1 L280.1,292.1 L280.9,292.1 L281.8,292.1 L282.6,292.1 L283.4,292.1 L284.3,292.1 L285.1,292.1 L286.0,292.1 L286.8,292.1 L287.6,292.1 L288.5,292.1 L289.3,292.1 L290.2,292.1 L291.0,292.1 L291.8,292.1 L292.7,292.1 L293.5,292.1 L294.3,292.1 L295.2,292.1 L296.0,292.1 L296.9,292.1 L297.7,292.1 L298.5,292.0 L299.4,292.0 L300.2,292.0 L301.1,292.0 L301.9,292.0 L302.7,292.0 L303.6,292.0 L304.4,291.9 L305.2,291.9 L306.1,291.9 L306.9,291.9 L307.8,291.8 L308.6,291.8 L309.4,291.8 L310.3,291.8 L311.1,291.7 L311.9,291.7 L312.8,291.6 L313.6,291.6 L314.5,291.6 L315.3,291.5 L316.1,291.5 L317.0,291.4 L317.8,291.4 L318.7,291.3 L319.5,291.3 L320.3,291.2 L321.2,291.1 L322.0,291.0 L322.8,290.9 L323.7,290.8 L324.5,290.7 L325.4,290.5 L326.2,290.3 L327.0,290.0 L327.9,289.7 L328.7,289.2 L329.6,288.6 L330.4,287.9 L331.2,286.9 L332.1,285.9 L332.9,284.3 L333.7,282.7 L334.6,281.1 L335.4,279.2 L336.3,277.4 L337.1,276.2 L337.9,275.7 L338.8,274.4 L339.6,273.3 L340.4,273.0 L341.3,273.1 L342.1,271.8 L343.0,272.2 L343.8,272.4 L344.6,272.4 L345.5,271.9 L346.3,270.4 L347.2,270.7 L348.0,270.5 L348.8,270.1 L349.7,269.0 L350.5,269.6 L351.3,269.5 L352.2,270.6 L353.0,271.1 L353.9,272.3 L354.7,273.9 L355.5,275.5 L356.4,276.4 L357.2,277.7 L358.1,279.4 L358.9,280.9 L359.7,282.3 L360.6,283.7 L361.4,285.0 L362.2,285.9 L363.1,287.0 L363.9,287.8 L364.8,288.5 L365.6,289.1 L366.4,289.5 L367.3,289.9 L368.1,290.1 L368.9,290.4 L369.8,290.6 L370.6,290.8 L371.5,290.9 L372.3,291.0" fill="none" stroke="#262626" stroke-width="0.85"/>
<line x1="258.3" y1="292.15000000000003" x2="372.3" y2="292.15000000000003" stroke="#444" stroke-width="0.7"/>
<path d="M258.3,304.7 L259.1,304.7 L260.0,304.7 L260.8,304.7 L261.7,304.7 L262.5,304.7 L263.3,304.7 L264.2,304.7 L265.0,304.7 L265.8,304.7 L266.7,304.7 L267.5,304.7 L268.4,304.7 L269.2,304.7 L270.0,304.7 L270.9,304.7 L271.7,304.7 L272.6,304.7 L273.4,304.7 L274.2,304.7 L275.1,304.7 L275.9,304.7 L276.7,304.7 L277.6,304.7 L278.4,304.7 L279.3,304.7 L280.1,304.7 L280.9,304.7 L281.8,304.7 L282.6,304.7 L283.4,304.7 L284.3,304.7 L285.1,304.7 L286.0,304.7 L286.8,304.7 L287.6,304.7 L288.5,304.7 L289.3,304.7 L290.2,304.7 L291.0,304.7 L291.8,304.7 L292.7,304.7 L293.5,304.7 L294.3,304.7 L295.2,304.7 L296.0,304.7 L296.9,304.7 L297.7,304.7 L298.5,304.7 L299.4,304.7 L300.2,304.7 L301.1,304.6 L301.9,304.6 L302.7,304.6 L303.6,304.6 L304.4,304.6 L305.2,304.6 L306.1,304.5 L306.9,304.5 L307.8,304.5 L308.6,304.5 L309.4,304.4 L310.3,304.4 L311.1,304.4 L311.9,304.3 L312.8,304.3 L313.6,304.2 L314.5,304.1 L315.3,304.1 L316.1,304.0 L317.0,303.9 L317.8,303.8 L318.7,303.7 L319.5,303.6 L320.3,303.5 L321.2,303.3 L322.0,303.0 L322.8,302.7 L323.7,302.4 L324.5,301.9 L325.4,301.3 L326.2,300.5 L327.0,299.5 L327.9,298.3 L328.7,297.1 L329.6,295.7 L330.4,294.1 L331.2,292.4 L332.1,290.8 L332.9,289.1 L333.7,287.1 L334.6,285.9 L335.4,284.5 L336.3,283.4 L337.1,283.3 L337.9,283.4 L338.8,283.9 L339.6,284.1 L340.4,285.2 L341.3,286.4 L342.1,287.8 L343.0,289.0 L343.8,290.0 L344.6,291.4 L345.5,292.4 L346.3,293.7 L347.2,294.8 L348.0,296.1 L348.8,297.1 L349.7,298.1 L350.5,298.9 L351.3,299.8 L352.2,300.4 L353.0,301.0 L353.9,301.6 L354.7,302.0 L355.5,302.3 L356.4,302.6 L357.2,302.9 L358.1,303.1 L358.9,303.2 L359.7,303.4 L360.6,303.5 L361.4,303.6 L362.2,303.7 L363.1,303.8 L363.9,303.9 L364.8,303.9 L365.6,304.0 L366.4,304.0 L367.3,304.1 L368.1,304.1 L368.9,304.2 L369.8,304.2 L370.6,304.3 L371.5,304.3 L372.3,304.3 L372.3,304.70000000000005 L258.3,304.70000000000005 Z" fill="#79c152" fill-opacity="0.93" stroke="none"/>
<path d="M258.3,304.7 L259.1,304.7 L260.0,304.7 L260.8,304.7 L261.7,304.7 L262.5,304.7 L263.3,304.7 L264.2,304.7 L265.0,304.7 L265.8,304.7 L266.7,304.7 L267.5,304.7 L268.4,304.7 L269.2,304.7 L270.0,304.7 L270.9,304.7 L271.7,304.7 L272.6,304.7 L273.4,304.7 L274.2,304.7 L275.1,304.7 L275.9,304.7 L276.7,304.7 L277.6,304.7 L278.4,304.7 L279.3,304.7 L280.1,304.7 L280.9,304.7 L281.8,304.7 L282.6,304.7 L283.4,304.7 L284.3,304.7 L285.1,304.7 L286.0,304.7 L286.8,304.7 L287.6,304.7 L288.5,304.7 L289.3,304.7 L290.2,304.7 L291.0,304.7 L291.8,304.7 L292.7,304.7 L293.5,304.7 L294.3,304.7 L295.2,304.7 L296.0,304.7 L296.9,304.7 L297.7,304.7 L298.5,304.7 L299.4,304.7 L300.2,304.7 L301.1,304.6 L301.9,304.6 L302.7,304.6 L303.6,304.6 L304.4,304.6 L305.2,304.6 L306.1,304.5 L306.9,304.5 L307.8,304.5 L308.6,304.5 L309.4,304.4 L310.3,304.4 L311.1,304.4 L311.9,304.3 L312.8,304.3 L313.6,304.2 L314.5,304.1 L315.3,304.1 L316.1,304.0 L317.0,303.9 L317.8,303.8 L318.7,303.7 L319.5,303.6 L320.3,303.5 L321.2,303.3 L322.0,303.0 L322.8,302.7 L323.7,302.4 L324.5,301.9 L325.4,301.3 L326.2,300.5 L327.0,299.5 L327.9,298.3 L328.7,297.1 L329.6,295.7 L330.4,294.1 L331.2,292.4 L332.1,290.8 L332.9,289.1 L333.7,287.1 L334.6,285.9 L335.4,284.5 L336.3,283.4 L337.1,283.3 L337.9,283.4 L338.8,283.9 L339.6,284.1 L340.4,285.2 L341.3,286.4 L342.1,287.8 L343.0,289.0 L343.8,290.0 L344.6,291.4 L345.5,292.4 L346.3,293.7 L347.2,294.8 L348.0,296.1 L348.8,297.1 L349.7,298.1 L350.5,298.9 L351.3,299.8 L352.2,300.4 L353.0,301.0 L353.9,301.6 L354.7,302.0 L355.5,302.3 L356.4,302.6 L357.2,302.9 L358.1,303.1 L358.9,303.2 L359.7,303.4 L360.6,303.5 L361.4,303.6 L362.2,303.7 L363.1,303.8 L363.9,303.9 L364.8,303.9 L365.6,304.0 L366.4,304.0 L367.3,304.1 L368.1,304.1 L368.9,304.2 L369.8,304.2 L370.6,304.3 L371.5,304.3 L372.3,304.3" fill="none" stroke="#262626" stroke-width="0.85"/>
<line x1="258.3" y1="304.70000000000005" x2="372.3" y2="304.70000000000005" stroke="#444" stroke-width="0.7"/>
<path d="M258.3,317.2 L259.1,317.2 L260.0,317.2 L260.8,317.2 L261.7,317.2 L262.5,317.2 L263.3,317.2 L264.2,317.2 L265.0,317.2 L265.8,317.2 L266.7,317.2 L267.5,317.2 L268.4,317.2 L269.2,317.2 L270.0,317.2 L270.9,317.2 L271.7,317.2 L272.6,317.2 L273.4,317.2 L274.2,317.2 L275.1,317.2 L275.9,317.2 L276.7,317.2 L277.6,317.2 L278.4,317.2 L279.3,317.2 L280.1,317.2 L280.9,317.2 L281.8,317.2 L282.6,317.2 L283.4,317.2 L284.3,317.2 L285.1,317.2 L286.0,317.2 L286.8,317.2 L287.6,317.2 L288.5,317.2 L289.3,317.2 L290.2,317.2 L291.0,317.2 L291.8,317.2 L292.7,317.2 L293.5,317.2 L294.3,317.2 L295.2,317.2 L296.0,317.2 L296.9,317.2 L297.7,317.2 L298.5,317.2 L299.4,317.2 L300.2,317.2 L301.1,317.2 L301.9,317.2 L302.7,317.2 L303.6,317.2 L304.4,317.2 L305.2,317.2 L306.1,317.2 L306.9,317.2 L307.8,317.2 L308.6,317.2 L309.4,317.2 L310.3,317.2 L311.1,317.2 L311.9,317.2 L312.8,317.1 L313.6,317.1 L314.5,317.1 L315.3,317.1 L316.1,317.0 L317.0,317.0 L317.8,316.9 L318.7,316.9 L319.5,316.8 L320.3,316.8 L321.2,316.7 L322.0,316.6 L322.8,316.5 L323.7,316.4 L324.5,316.3 L325.4,316.1 L326.2,316.0 L327.0,315.7 L327.9,315.4 L328.7,315.0 L329.6,314.4 L330.4,313.7 L331.2,312.8 L332.1,311.6 L332.9,310.0 L333.7,308.2 L334.6,306.1 L335.4,304.0 L336.3,301.9 L337.1,299.8 L337.9,298.2 L338.8,296.7 L339.6,295.9 L340.4,294.9 L341.3,295.3 L342.1,295.4 L343.0,295.4 L343.8,295.8 L344.6,296.8 L345.5,297.9 L346.3,298.8 L347.2,299.6 L348.0,300.8 L348.8,302.0 L349.7,303.1 L350.5,304.1 L351.3,305.2 L352.2,306.3 L353.0,307.5 L353.9,308.5 L354.7,309.4 L355.5,310.4 L356.4,311.2 L357.2,311.8 L358.1,312.5 L358.9,313.1 L359.7,313.6 L360.6,314.0 L361.4,314.4 L362.2,314.7 L363.1,315.0 L363.9,315.2 L364.8,315.4 L365.6,315.6 L366.4,315.7 L367.3,315.8 L368.1,315.9 L368.9,316.0 L369.8,316.1 L370.6,316.2 L371.5,316.3 L372.3,316.3 L372.3,317.25 L258.3,317.25 Z" fill="#ea5fa1" fill-opacity="0.93" stroke="none"/>
<path d="M258.3,317.2 L259.1,317.2 L260.0,317.2 L260.8,317.2 L261.7,317.2 L262.5,317.2 L263.3,317.2 L264.2,317.2 L265.0,317.2 L265.8,317.2 L266.7,317.2 L267.5,317.2 L268.4,317.2 L269.2,317.2 L270.0,317.2 L270.9,317.2 L271.7,317.2 L272.6,317.2 L273.4,317.2 L274.2,317.2 L275.1,317.2 L275.9,317.2 L276.7,317.2 L277.6,317.2 L278.4,317.2 L279.3,317.2 L280.1,317.2 L280.9,317.2 L281.8,317.2 L282.6,317.2 L283.4,317.2 L284.3,317.2 L285.1,317.2 L286.0,317.2 L286.8,317.2 L287.6,317.2 L288.5,317.2 L289.3,317.2 L290.2,317.2 L291.0,317.2 L291.8,317.2 L292.7,317.2 L293.5,317.2 L294.3,317.2 L295.2,317.2 L296.0,317.2 L296.9,317.2 L297.7,317.2 L298.5,317.2 L299.4,317.2 L300.2,317.2 L301.1,317.2 L301.9,317.2 L302.7,317.2 L303.6,317.2 L304.4,317.2 L305.2,317.2 L306.1,317.2 L306.9,317.2 L307.8,317.2 L308.6,317.2 L309.4,317.2 L310.3,317.2 L311.1,317.2 L311.9,317.2 L312.8,317.1 L313.6,317.1 L314.5,317.1 L315.3,317.1 L316.1,317.0 L317.0,317.0 L317.8,316.9 L318.7,316.9 L319.5,316.8 L320.3,316.8 L321.2,316.7 L322.0,316.6 L322.8,316.5 L323.7,316.4 L324.5,316.3 L325.4,316.1 L326.2,316.0 L327.0,315.7 L327.9,315.4 L328.7,315.0 L329.6,314.4 L330.4,313.7 L331.2,312.8 L332.1,311.6 L332.9,310.0 L333.7,308.2 L334.6,306.1 L335.4,304.0 L336.3,301.9 L337.1,299.8 L337.9,298.2 L338.8,296.7 L339.6,295.9 L340.4,294.9 L341.3,295.3 L342.1,295.4 L343.0,295.4 L343.8,295.8 L344.6,296.8 L345.5,297.9 L346.3,298.8 L347.2,299.6 L348.0,300.8 L348.8,302.0 L349.7,303.1 L350.5,304.1 L351.3,305.2 L352.2,306.3 L353.0,307.5 L353.9,308.5 L354.7,309.4 L355.5,310.4 L356.4,311.2 L357.2,311.8 L358.1,312.5 L358.9,313.1 L359.7,313.6 L360.6,314.0 L361.4,314.4 L362.2,314.7 L363.1,315.0 L363.9,315.2 L364.8,315.4 L365.6,315.6 L366.4,315.7 L367.3,315.8 L368.1,315.9 L368.9,316.0 L369.8,316.1 L370.6,316.2 L371.5,316.3 L372.3,316.3" fill="none" stroke="#262626" stroke-width="0.85"/>
<line x1="258.3" y1="317.25" x2="372.3" y2="317.25" stroke="#444" stroke-width="0.7"/>
<path d="M258.3,329.8 L259.1,329.8 L260.0,329.8 L260.8,329.8 L261.7,329.8 L262.5,329.8 L263.3,329.8 L264.2,329.8 L265.0,329.8 L265.8,329.8 L266.7,329.8 L267.5,329.8 L268.4,329.8 L269.2,329.8 L270.0,329.8 L270.9,329.8 L271.7,329.8 L272.6,329.8 L273.4,329.8 L274.2,329.8 L275.1,329.8 L275.9,329.8 L276.7,329.8 L277.6,329.8 L278.4,329.8 L279.3,329.8 L280.1,329.8 L280.9,329.8 L281.8,329.8 L282.6,329.8 L283.4,329.7 L284.3,329.7 L285.1,329.7 L286.0,329.7 L286.8,329.7 L287.6,329.7 L288.5,329.7 L289.3,329.6 L290.2,329.6 L291.0,329.6 L291.8,329.6 L292.7,329.5 L293.5,329.5 L294.3,329.5 L295.2,329.4 L296.0,329.4 L296.9,329.4 L297.7,329.3 L298.5,329.3 L299.4,329.2 L300.2,329.1 L301.1,329.1 L301.9,329.0 L302.7,328.9 L303.6,328.8 L304.4,328.7 L305.2,328.6 L306.1,328.4 L306.9,328.2 L307.8,328.0 L308.6,327.7 L309.4,327.4 L310.3,326.9 L311.1,326.3 L311.9,325.6 L312.8,324.9 L313.6,323.9 L314.5,322.7 L315.3,321.4 L316.1,319.8 L317.0,318.1 L317.8,316.8 L318.7,315.3 L319.5,313.8 L320.3,312.1 L321.2,310.4 L322.0,308.8 L322.8,307.8 L323.7,306.9 L324.5,307.2 L325.4,308.0 L326.2,309.7 L327.0,313.0 L327.9,316.8 L328.7,320.1 L329.6,323.0 L330.4,325.3 L331.2,326.8 L332.1,327.7 L332.9,328.2 L333.7,328.6 L334.6,328.9 L335.4,329.0 L336.3,329.2 L337.1,329.3 L337.9,329.4 L338.8,329.5 L339.6,329.6 L340.4,329.6 L341.3,329.7 L342.1,329.7 L343.0,329.7 L343.8,329.8 L344.6,329.8 L345.5,329.8 L346.3,329.8 L347.2,329.8 L348.0,329.8 L348.8,329.8 L349.7,329.8 L350.5,329.8 L351.3,329.8 L352.2,329.8 L353.0,329.8 L353.9,329.8 L354.7,329.8 L355.5,329.8 L356.4,329.8 L357.2,329.8 L358.1,329.8 L358.9,329.8 L359.7,329.8 L360.6,329.8 L361.4,329.8 L362.2,329.8 L363.1,329.8 L363.9,329.8 L364.8,329.8 L365.6,329.8 L366.4,329.8 L367.3,329.8 L368.1,329.8 L368.9,329.8 L369.8,329.8 L370.6,329.8 L371.5,329.8 L372.3,329.8 L372.3,329.8 L258.3,329.8 Z" fill="#f8c64a" fill-opacity="0.93" stroke="none"/>
<path d="M258.3,329.8 L259.1,329.8 L260.0,329.8 L260.8,329.8 L261.7,329.8 L262.5,329.8 L263.3,329.8 L264.2,329.8 L265.0,329.8 L265.8,329.8 L266.7,329.8 L267.5,329.8 L268.4,329.8 L269.2,329.8 L270.0,329.8 L270.9,329.8 L271.7,329.8 L272.6,329.8 L273.4,329.8 L274.2,329.8 L275.1,329.8 L275.9,329.8 L276.7,329.8 L277.6,329.8 L278.4,329.8 L279.3,329.8 L280.1,329.8 L280.9,329.8 L281.8,329.8 L282.6,329.8 L283.4,329.7 L284.3,329.7 L285.1,329.7 L286.0,329.7 L286.8,329.7 L287.6,329.7 L288.5,329.7 L289.3,329.6 L290.2,329.6 L291.0,329.6 L291.8,329.6 L292.7,329.5 L293.5,329.5 L294.3,329.5 L295.2,329.4 L296.0,329.4 L296.9,329.4 L297.7,329.3 L298.5,329.3 L299.4,329.2 L300.2,329.1 L301.1,329.1 L301.9,329.0 L302.7,328.9 L303.6,328.8 L304.4,328.7 L305.2,328.6 L306.1,328.4 L306.9,328.2 L307.8,328.0 L308.6,327.7 L309.4,327.4 L310.3,326.9 L311.1,326.3 L311.9,325.6 L312.8,324.9 L313.6,323.9 L314.5,322.7 L315.3,321.4 L316.1,319.8 L317.0,318.1 L317.8,316.8 L318.7,315.3 L319.5,313.8 L320.3,312.1 L321.2,310.4 L322.0,308.8 L322.8,307.8 L323.7,306.9 L324.5,307.2 L325.4,308.0 L326.2,309.7 L327.0,313.0 L327.9,316.8 L328.7,320.1 L329.6,323.0 L330.4,325.3 L331.2,326.8 L332.1,327.7 L332.9,328.2 L333.7,328.6 L334.6,328.9 L335.4,329.0 L336.3,329.2 L337.1,329.3 L337.9,329.4 L338.8,329.5 L339.6,329.6 L340.4,329.6 L341.3,329.7 L342.1,329.7 L343.0,329.7 L343.8,329.8 L344.6,329.8 L345.5,329.8 L346.3,329.8 L347.2,329.8 L348.0,329.8 L348.8,329.8 L349.7,329.8 L350.5,329.8 L351.3,329.8 L352.2,329.8 L353.0,329.8 L353.9,329.8 L354.7,329.8 L355.5,329.8 L356.4,329.8 L357.2,329.8 L358.1,329.8 L358.9,329.8 L359.7,329.8 L360.6,329.8 L361.4,329.8 L362.2,329.8 L363.1,329.8 L363.9,329.8 L364.8,329.8 L365.6,329.8 L366.4,329.8 L367.3,329.8 L368.1,329.8 L368.9,329.8 L369.8,329.8 L370.6,329.8 L371.5,329.8 L372.3,329.8" fill="none" stroke="#262626" stroke-width="0.85"/>
<line x1="258.3" y1="329.8" x2="372.3" y2="329.8" stroke="#444" stroke-width="0.7"/>
<path d="M258.3,342.3 L259.1,342.3 L260.0,342.3 L260.8,342.3 L261.7,342.3 L262.5,342.3 L263.3,342.3 L264.2,342.3 L265.0,342.3 L265.8,342.3 L266.7,342.3 L267.5,342.3 L268.4,342.3 L269.2,342.3 L270.0,342.3 L270.9,342.3 L271.7,342.3 L272.6,342.3 L273.4,342.3 L274.2,342.3 L275.1,342.3 L275.9,342.3 L276.7,342.3 L277.6,342.3 L278.4,342.3 L279.3,342.3 L280.1,342.3 L280.9,342.3 L281.8,342.3 L282.6,342.3 L283.4,342.3 L284.3,342.3 L285.1,342.3 L286.0,342.3 L286.8,342.3 L287.6,342.3 L288.5,342.3 L289.3,342.3 L290.2,342.3 L291.0,342.3 L291.8,342.3 L292.7,342.3 L293.5,342.3 L294.3,342.3 L295.2,342.3 L296.0,342.3 L296.9,342.3 L297.7,342.3 L298.5,342.2 L299.4,342.2 L300.2,342.2 L301.1,342.2 L301.9,342.2 L302.7,342.1 L303.6,342.1 L304.4,342.1 L305.2,342.0 L306.1,342.0 L306.9,341.9 L307.8,341.9 L308.6,341.8 L309.4,341.8 L310.3,341.7 L311.1,341.6 L311.9,341.6 L312.8,341.5 L313.6,341.4 L314.5,341.2 L315.3,341.1 L316.1,340.9 L317.0,340.7 L317.8,340.4 L318.7,340.0 L319.5,339.6 L320.3,339.0 L321.2,338.2 L322.0,337.4 L322.8,336.4 L323.7,335.1 L324.5,333.6 L325.4,331.9 L326.2,330.2 L327.0,328.4 L327.9,326.4 L328.7,324.5 L329.6,323.2 L330.4,321.7 L331.2,321.0 L332.1,320.8 L332.9,320.8 L333.7,321.6 L334.6,323.0 L335.4,325.1 L336.3,327.4 L337.1,330.2 L337.9,332.8 L338.8,334.9 L339.6,336.8 L340.4,338.2 L341.3,339.2 L342.1,340.0 L343.0,340.5 L343.8,340.9 L344.6,341.1 L345.5,341.3 L346.3,341.5 L347.2,341.6 L348.0,341.7 L348.8,341.8 L349.7,341.9 L350.5,342.0 L351.3,342.0 L352.2,342.1 L353.0,342.1 L353.9,342.2 L354.7,342.2 L355.5,342.2 L356.4,342.3 L357.2,342.3 L358.1,342.3 L358.9,342.3 L359.7,342.3 L360.6,342.3 L361.4,342.3 L362.2,342.3 L363.1,342.3 L363.9,342.3 L364.8,342.3 L365.6,342.3 L366.4,342.3 L367.3,342.3 L368.1,342.3 L368.9,342.3 L369.8,342.3 L370.6,342.3 L371.5,342.3 L372.3,342.3 L372.3,342.35 L258.3,342.35 Z" fill="#d6d4e0" fill-opacity="0.93" stroke="none"/>
<path d="M258.3,342.3 L259.1,342.3 L260.0,342.3 L260.8,342.3 L261.7,342.3 L262.5,342.3 L263.3,342.3 L264.2,342.3 L265.0,342.3 L265.8,342.3 L266.7,342.3 L267.5,342.3 L268.4,342.3 L269.2,342.3 L270.0,342.3 L270.9,342.3 L271.7,342.3 L272.6,342.3 L273.4,342.3 L274.2,342.3 L275.1,342.3 L275.9,342.3 L276.7,342.3 L277.6,342.3 L278.4,342.3 L279.3,342.3 L280.1,342.3 L280.9,342.3 L281.8,342.3 L282.6,342.3 L283.4,342.3 L284.3,342.3 L285.1,342.3 L286.0,342.3 L286.8,342.3 L287.6,342.3 L288.5,342.3 L289.3,342.3 L290.2,342.3 L291.0,342.3 L291.8,342.3 L292.7,342.3 L293.5,342.3 L294.3,342.3 L295.2,342.3 L296.0,342.3 L296.9,342.3 L297.7,342.3 L298.5,342.2 L299.4,342.2 L300.2,342.2 L301.1,342.2 L301.9,342.2 L302.7,342.1 L303.6,342.1 L304.4,342.1 L305.2,342.0 L306.1,342.0 L306.9,341.9 L307.8,341.9 L308.6,341.8 L309.4,341.8 L310.3,341.7 L311.1,341.6 L311.9,341.6 L312.8,341.5 L313.6,341.4 L314.5,341.2 L315.3,341.1 L316.1,340.9 L317.0,340.7 L317.8,340.4 L318.7,340.0 L319.5,339.6 L320.3,339.0 L321.2,338.2 L322.0,337.4 L322.8,336.4 L323.7,335.1 L324.5,333.6 L325.4,331.9 L326.2,330.2 L327.0,328.4 L327.9,326.4 L328.7,324.5 L329.6,323.2 L330.4,321.7 L331.2,321.0 L332.1,320.8 L332.9,320.8 L333.7,321.6 L334.6,323.0 L335.4,325.1 L336.3,327.4 L337.1,330.2 L337.9,332.8 L338.8,334.9 L339.6,336.8 L340.4,338.2 L341.3,339.2 L342.1,340.0 L343.0,340.5 L343.8,340.9 L344.6,341.1 L345.5,341.3 L346.3,341.5 L347.2,341.6 L348.0,341.7 L348.8,341.8 L349.7,341.9 L350.5,342.0 L351.3,342.0 L352.2,342.1 L353.0,342.1 L353.9,342.2 L354.7,342.2 L355.5,342.2 L356.4,342.3 L357.2,342.3 L358.1,342.3 L358.9,342.3 L359.7,342.3 L360.6,342.3 L361.4,342.3 L362.2,342.3 L363.1,342.3 L363.9,342.3 L364.8,342.3 L365.6,342.3 L366.4,342.3 L367.3,342.3 L368.1,342.3 L368.9,342.3 L369.8,342.3 L370.6,342.3 L371.5,342.3 L372.3,342.3" fill="none" stroke="#262626" stroke-width="0.85"/>
<line x1="258.3" y1="342.35" x2="372.3" y2="342.35" stroke="#444" stroke-width="0.7"/>
<path d="M258.3,354.9 L259.1,354.9 L260.0,354.9 L260.8,354.9 L261.7,354.9 L262.5,354.9 L263.3,354.9 L264.2,354.9 L265.0,354.9 L265.8,354.9 L266.7,354.9 L267.5,354.9 L268.4,354.9 L269.2,354.9 L270.0,354.9 L270.9,354.9 L271.7,354.9 L272.6,354.9 L273.4,354.9 L274.2,354.9 L275.1,354.9 L275.9,354.9 L276.7,354.9 L277.6,354.9 L278.4,354.9 L279.3,354.9 L280.1,354.9 L280.9,354.9 L281.8,354.9 L282.6,354.9 L283.4,354.9 L284.3,354.9 L285.1,354.9 L286.0,354.9 L286.8,354.9 L287.6,354.9 L288.5,354.9 L289.3,354.9 L290.2,354.9 L291.0,354.9 L291.8,354.9 L292.7,354.9 L293.5,354.9 L294.3,354.9 L295.2,354.9 L296.0,354.9 L296.9,354.9 L297.7,354.9 L298.5,354.9 L299.4,354.9 L300.2,354.9 L301.1,354.9 L301.9,354.9 L302.7,354.9 L303.6,354.8 L304.4,354.8 L305.2,354.8 L306.1,354.8 L306.9,354.8 L307.8,354.8 L308.6,354.8 L309.4,354.7 L310.3,354.7 L311.1,354.7 L311.9,354.7 L312.8,354.6 L313.6,354.6 L314.5,354.6 L315.3,354.5 L316.1,354.5 L317.0,354.4 L317.8,354.4 L318.7,354.3 L319.5,354.3 L320.3,354.2 L321.2,354.1 L322.0,354.0 L322.8,353.9 L323.7,353.8 L324.5,353.7 L325.4,353.6 L326.2,353.4 L327.0,353.1 L327.9,352.9 L328.7,352.5 L329.6,352.1 L330.4,351.5 L331.2,350.8 L332.1,349.9 L332.9,349.0 L333.7,347.9 L334.6,346.6 L335.4,345.1 L336.3,343.2 L337.1,341.6 L337.9,339.9 L338.8,338.5 L339.6,337.3 L340.4,336.3 L341.3,334.2 L342.1,333.2 L343.0,333.2 L343.8,333.5 L344.6,332.6 L345.5,333.5 L346.3,333.3 L347.2,334.6 L348.0,335.1 L348.8,336.6 L349.7,337.6 L350.5,339.2 L351.3,340.9 L352.2,342.3 L353.0,343.5 L353.9,344.4 L354.7,345.6 L355.5,346.5 L356.4,347.4 L357.2,348.3 L358.1,349.3 L358.9,350.2 L359.7,350.8 L360.6,351.4 L361.4,351.8 L362.2,352.2 L363.1,352.5 L363.9,352.8 L364.8,353.1 L365.6,353.2 L366.4,353.4 L367.3,353.5 L368.1,353.7 L368.9,353.8 L369.8,353.9 L370.6,353.9 L371.5,354.0 L372.3,354.1 L372.3,354.90000000000003 L258.3,354.90000000000003 Z" fill="#cd8a44" fill-opacity="0.93" stroke="none"/>
<path d="M258.3,354.9 L259.1,354.9 L260.0,354.9 L260.8,354.9 L261.7,354.9 L262.5,354.9 L263.3,354.9 L264.2,354.9 L265.0,354.9 L265.8,354.9 L266.7,354.9 L267.5,354.9 L268.4,354.9 L269.2,354.9 L270.0,354.9 L270.9,354.9 L271.7,354.9 L272.6,354.9 L273.4,354.9 L274.2,354.9 L275.1,354.9 L275.9,354.9 L276.7,354.9 L277.6,354.9 L278.4,354.9 L279.3,354.9 L280.1,354.9 L280.9,354.9 L281.8,354.9 L282.6,354.9 L283.4,354.9 L284.3,354.9 L285.1,354.9 L286.0,354.9 L286.8,354.9 L287.6,354.9 L288.5,354.9 L289.3,354.9 L290.2,354.9 L291.0,354.9 L291.8,354.9 L292.7,354.9 L293.5,354.9 L294.3,354.9 L295.2,354.9 L296.0,354.9 L296.9,354.9 L297.7,354.9 L298.5,354.9 L299.4,354.9 L300.2,354.9 L301.1,354.9 L301.9,354.9 L302.7,354.9 L303.6,354.8 L304.4,354.8 L305.2,354.8 L306.1,354.8 L306.9,354.8 L307.8,354.8 L308.6,354.8 L309.4,354.7 L310.3,354.7 L311.1,354.7 L311.9,354.7 L312.8,354.6 L313.6,354.6 L314.5,354.6 L315.3,354.5 L316.1,354.5 L317.0,354.4 L317.8,354.4 L318.7,354.3 L319.5,354.3 L320.3,354.2 L321.2,354.1 L322.0,354.0 L322.8,353.9 L323.7,353.8 L324.5,353.7 L325.4,353.6 L326.2,353.4 L327.0,353.1 L327.9,352.9 L328.7,352.5 L329.6,352.1 L330.4,351.5 L331.2,350.8 L332.1,349.9 L332.9,349.0 L333.7,347.9 L334.6,346.6 L335.4,345.1 L336.3,343.2 L337.1,341.6 L337.9,339.9 L338.8,338.5 L339.6,337.3 L340.4,336.3 L341.3,334.2 L342.1,333.2 L343.0,333.2 L343.8,333.5 L344.6,332.6 L345.5,333.5 L346.3,333.3 L347.2,334.6 L348.0,335.1 L348.8,336.6 L349.7,337.6 L350.5,339.2 L351.3,340.9 L352.2,342.3 L353.0,343.5 L353.9,344.4 L354.7,345.6 L355.5,346.5 L356.4,347.4 L357.2,348.3 L358.1,349.3 L358.9,350.2 L359.7,350.8 L360.6,351.4 L361.4,351.8 L362.2,352.2 L363.1,352.5 L363.9,352.8 L364.8,353.1 L365.6,353.2 L366.4,353.4 L367.3,353.5 L368.1,353.7 L368.9,353.8 L369.8,353.9 L370.6,353.9 L371.5,354.0 L372.3,354.1" fill="none" stroke="#262626" stroke-width="0.85"/>
<line x1="258.3" y1="354.90000000000003" x2="372.3" y2="354.90000000000003" stroke="#444" stroke-width="0.7"/>
<path d="M258.3,367.4 L259.1,367.4 L260.0,367.4 L260.8,367.4 L261.7,367.4 L262.5,367.4 L263.3,367.4 L264.2,367.4 L265.0,367.4 L265.8,367.4 L266.7,367.4 L267.5,367.4 L268.4,367.4 L269.2,367.4 L270.0,367.4 L270.9,367.4 L271.7,367.4 L272.6,367.4 L273.4,367.4 L274.2,367.4 L275.1,367.4 L275.9,367.4 L276.7,367.4 L277.6,367.4 L278.4,367.4 L279.3,367.4 L280.1,367.4 L280.9,367.4 L281.8,367.4 L282.6,367.4 L283.4,367.3 L284.3,367.3 L285.1,367.3 L286.0,367.3 L286.8,367.3 L287.6,367.3 L288.5,367.2 L289.3,367.2 L290.2,367.2 L291.0,367.1 L291.8,367.1 L292.7,367.1 L293.5,367.0 L294.3,367.0 L295.2,366.9 L296.0,366.9 L296.9,366.8 L297.7,366.8 L298.5,366.7 L299.4,366.7 L300.2,366.6 L301.1,366.5 L301.9,366.4 L302.7,366.3 L303.6,366.2 L304.4,366.0 L305.2,365.9 L306.1,365.7 L306.9,365.4 L307.8,365.1 L308.6,364.7 L309.4,364.3 L310.3,363.7 L311.1,363.0 L311.9,362.3 L312.8,361.5 L313.6,360.5 L314.5,359.4 L315.3,357.9 L316.1,356.6 L317.0,354.8 L317.8,353.2 L318.7,351.6 L319.5,350.2 L320.3,349.0 L321.2,347.9 L322.0,347.0 L322.8,345.5 L323.7,344.9 L324.5,344.8 L325.4,345.1 L326.2,346.0 L327.0,347.6 L327.9,349.7 L328.7,351.9 L329.6,354.5 L330.4,357.1 L331.2,359.1 L332.1,361.1 L332.9,362.7 L333.7,363.8 L334.6,364.7 L335.4,365.3 L336.3,365.7 L337.1,366.0 L337.9,366.3 L338.8,366.4 L339.6,366.6 L340.4,366.7 L341.3,366.8 L342.1,366.9 L343.0,367.0 L343.8,367.1 L344.6,367.1 L345.5,367.2 L346.3,367.2 L347.2,367.3 L348.0,367.3 L348.8,367.3 L349.7,367.4 L350.5,367.4 L351.3,367.4 L352.2,367.4 L353.0,367.4 L353.9,367.4 L354.7,367.4 L355.5,367.4 L356.4,367.4 L357.2,367.4 L358.1,367.4 L358.9,367.4 L359.7,367.4 L360.6,367.4 L361.4,367.4 L362.2,367.4 L363.1,367.4 L363.9,367.4 L364.8,367.4 L365.6,367.4 L366.4,367.4 L367.3,367.4 L368.1,367.4 L368.9,367.4 L369.8,367.4 L370.6,367.4 L371.5,367.4 L372.3,367.4 L372.3,367.45000000000005 L258.3,367.45000000000005 Z" fill="#c3d4a6" fill-opacity="0.93" stroke="none"/>
<path d="M258.3,367.4 L259.1,367.4 L260.0,367.4 L260.8,367.4 L261.7,367.4 L262.5,367.4 L263.3,367.4 L264.2,367.4 L265.0,367.4 L265.8,367.4 L266.7,367.4 L267.5,367.4 L268.4,367.4 L269.2,367.4 L270.0,367.4 L270.9,367.4 L271.7,367.4 L272.6,367.4 L273.4,367.4 L274.2,367.4 L275.1,367.4 L275.9,367.4 L276.7,367.4 L277.6,367.4 L278.4,367.4 L279.3,367.4 L280.1,367.4 L280.9,367.4 L281.8,367.4 L282.6,367.4 L283.4,367.3 L284.3,367.3 L285.1,367.3 L286.0,367.3 L286.8,367.3 L287.6,367.3 L288.5,367.2 L289.3,367.2 L290.2,367.2 L291.0,367.1 L291.8,367.1 L292.7,367.1 L293.5,367.0 L294.3,367.0 L295.2,366.9 L296.0,366.9 L296.9,366.8 L297.7,366.8 L298.5,366.7 L299.4,366.7 L300.2,366.6 L301.1,366.5 L301.9,366.4 L302.7,366.3 L303.6,366.2 L304.4,366.0 L305.2,365.9 L306.1,365.7 L306.9,365.4 L307.8,365.1 L308.6,364.7 L309.4,364.3 L310.3,363.7 L311.1,363.0 L311.9,362.3 L312.8,361.5 L313.6,360.5 L314.5,359.4 L315.3,357.9 L316.1,356.6 L317.0,354.8 L317.8,353.2 L318.7,351.6 L319.5,350.2 L320.3,349.0 L321.2,347.9 L322.0,347.0 L322.8,345.5 L323.7,344.9 L324.5,344.8 L325.4,345.1 L326.2,346.0 L327.0,347.6 L327.9,349.7 L328.7,351.9 L329.6,354.5 L330.4,357.1 L331.2,359.1 L332.1,361.1 L332.9,362.7 L333.7,363.8 L334.6,364.7 L335.4,365.3 L336.3,365.7 L337.1,366.0 L337.9,366.3 L338.8,366.4 L339.6,366.6 L340.4,366.7 L341.3,366.8 L342.1,366.9 L343.0,367.0 L343.8,367.1 L344.6,367.1 L345.5,367.2 L346.3,367.2 L347.2,367.3 L348.0,367.3 L348.8,367.3 L349.7,367.4 L350.5,367.4 L351.3,367.4 L352.2,367.4 L353.0,367.4 L353.9,367.4 L354.7,367.4 L355.5,367.4 L356.4,367.4 L357.2,367.4 L358.1,367.4 L358.9,367.4 L359.7,367.4 L360.6,367.4 L361.4,367.4 L362.2,367.4 L363.1,367.4 L363.9,367.4 L364.8,367.4 L365.6,367.4 L366.4,367.4 L367.3,367.4 L368.1,367.4 L368.9,367.4 L369.8,367.4 L370.6,367.4 L371.5,367.4 L372.3,367.4" fill="none" stroke="#262626" stroke-width="0.85"/>
<line x1="258.3" y1="367.45000000000005" x2="372.3" y2="367.45000000000005" stroke="#444" stroke-width="0.7"/>
<path d="M258.3,380.0 L259.1,380.0 L260.0,380.0 L260.8,380.0 L261.7,380.0 L262.5,380.0 L263.3,380.0 L264.2,380.0 L265.0,380.0 L265.8,380.0 L266.7,380.0 L267.5,380.0 L268.4,380.0 L269.2,380.0 L270.0,380.0 L270.9,380.0 L271.7,380.0 L272.6,380.0 L273.4,380.0 L274.2,380.0 L275.1,380.0 L275.9,380.0 L276.7,380.0 L277.6,380.0 L278.4,380.0 L279.3,380.0 L280.1,380.0 L280.9,380.0 L281.8,380.0 L282.6,380.0 L283.4,380.0 L284.3,380.0 L285.1,380.0 L286.0,380.0 L286.8,380.0 L287.6,380.0 L288.5,380.0 L289.3,380.0 L290.2,380.0 L291.0,380.0 L291.8,380.0 L292.7,380.0 L293.5,380.0 L294.3,380.0 L295.2,380.0 L296.0,380.0 L296.9,379.9 L297.7,379.9 L298.5,379.9 L299.4,379.9 L300.2,379.9 L301.1,379.8 L301.9,379.8 L302.7,379.8 L303.6,379.7 L304.4,379.7 L305.2,379.6 L306.1,379.6 L306.9,379.5 L307.8,379.4 L308.6,379.3 L309.4,379.2 L310.3,379.1 L311.1,379.0 L311.9,378.9 L312.8,378.7 L313.6,378.4 L314.5,378.1 L315.3,377.6 L316.1,377.0 L317.0,376.1 L317.8,375.0 L318.7,373.6 L319.5,372.0 L320.3,369.7 L321.2,367.2 L322.0,364.8 L322.8,362.3 L323.7,360.3 L324.5,358.6 L325.4,356.8 L326.2,356.2 L327.0,356.4 L327.9,357.5 L328.7,359.4 L329.6,361.7 L330.4,364.7 L331.2,367.4 L332.1,370.1 L332.9,372.3 L333.7,374.2 L334.6,375.6 L335.4,376.7 L336.3,377.5 L337.1,378.0 L337.9,378.4 L338.8,378.7 L339.6,378.9 L340.4,379.1 L341.3,379.2 L342.1,379.3 L343.0,379.4 L343.8,379.5 L344.6,379.6 L345.5,379.6 L346.3,379.7 L347.2,379.8 L348.0,379.8 L348.8,379.8 L349.7,379.9 L350.5,379.9 L351.3,379.9 L352.2,379.9 L353.0,380.0 L353.9,380.0 L354.7,380.0 L355.5,380.0 L356.4,380.0 L357.2,380.0 L358.1,380.0 L358.9,380.0 L359.7,380.0 L360.6,380.0 L361.4,380.0 L362.2,380.0 L363.1,380.0 L363.9,380.0 L364.8,380.0 L365.6,380.0 L366.4,380.0 L367.3,380.0 L368.1,380.0 L368.9,380.0 L369.8,380.0 L370.6,380.0 L371.5,380.0 L372.3,380.0 L372.3,380.0 L258.3,380.0 Z" fill="#9d94d4" fill-opacity="0.93" stroke="none"/>
<path d="M258.3,380.0 L259.1,380.0 L260.0,380.0 L260.8,380.0 L261.7,380.0 L262.5,380.0 L263.3,380.0 L264.2,380.0 L265.0,380.0 L265.8,380.0 L266.7,380.0 L267.5,380.0 L268.4,380.0 L269.2,380.0 L270.0,380.0 L270.9,380.0 L271.7,380.0 L272.6,380.0 L273.4,380.0 L274.2,380.0 L275.1,380.0 L275.9,380.0 L276.7,380.0 L277.6,380.0 L278.4,380.0 L279.3,380.0 L280.1,380.0 L280.9,380.0 L281.8,380.0 L282.6,380.0 L283.4,380.0 L284.3,380.0 L285.1,380.0 L286.0,380.0 L286.8,380.0 L287.6,380.0 L288.5,380.0 L289.3,380.0 L290.2,380.0 L291.0,380.0 L291.8,380.0 L292.7,380.0 L293.5,380.0 L294.3,380.0 L295.2,380.0 L296.0,380.0 L296.9,379.9 L297.7,379.9 L298.5,379.9 L299.4,379.9 L300.2,379.9 L301.1,379.8 L301.9,379.8 L302.7,379.8 L303.6,379.7 L304.4,379.7 L305.2,379.6 L306.1,379.6 L306.9,379.5 L307.8,379.4 L308.6,379.3 L309.4,379.2 L310.3,379.1 L311.1,379.0 L311.9,378.9 L312.8,378.7 L313.6,378.4 L314.5,378.1 L315.3,377.6 L316.1,377.0 L317.0,376.1 L317.8,375.0 L318.7,373.6 L319.5,372.0 L320.3,369.7 L321.2,367.2 L322.0,364.8 L322.8,362.3 L323.7,360.3 L324.5,358.6 L325.4,356.8 L326.2,356.2 L327.0,356.4 L327.9,357.5 L328.7,359.4 L329.6,361.7 L330.4,364.7 L331.2,367.4 L332.1,370.1 L332.9,372.3 L333.7,374.2 L334.6,375.6 L335.4,376.7 L336.3,377.5 L337.1,378.0 L337.9,378.4 L338.8,378.7 L339.6,378.9 L340.4,379.1 L341.3,379.2 L342.1,379.3 L343.0,379.4 L343.8,379.5 L344.6,379.6 L345.5,379.6 L346.3,379.7 L347.2,379.8 L348.0,379.8 L348.8,379.8 L349.7,379.9 L350.5,379.9 L351.3,379.9 L352.2,379.9 L353.0,380.0 L353.9,380.0 L354.7,380.0 L355.5,380.0 L356.4,380.0 L357.2,380.0 L358.1,380.0 L358.9,380.0 L359.7,380.0 L360.6,380.0 L361.4,380.0 L362.2,380.0 L363.1,380.0 L363.9,380.0 L364.8,380.0 L365.6,380.0 L366.4,380.0 L367.3,380.0 L368.1,380.0 L368.9,380.0 L369.8,380.0 L370.6,380.0 L371.5,380.0 L372.3,380.0" fill="none" stroke="#262626" stroke-width="0.85"/>
<line x1="258.3" y1="380.0" x2="372.3" y2="380.0" stroke="#444" stroke-width="0.7"/>
<line x1="326.6" y1="252.0" x2="326.6" y2="380.0" stroke="#333" stroke-width="0.9"/>
<rect x="258.3" y="252.0" width="114.0" height="128.0" fill="none" stroke="#555" stroke-width="0.9"/>
<text x="282.0" y="271.7" font-size="6.9" fill="#2a2a2a" text-anchor="middle">hTpoR</text>
<text x="282.0" y="288.7" font-size="6.9" fill="#2a2a2a" text-anchor="middle">hTpoR + Tpo</text>
<text x="282.0" y="301.0" font-size="6.9" fill="#2a2a2a" text-anchor="middle">cc-hTpoR 0</text>
<text x="282.0" y="313.6" font-size="6.9" fill="#2a2a2a" text-anchor="middle">cc-hTpoR I</text>
<text x="282.0" y="326.2" font-size="6.9" fill="#2a2a2a" text-anchor="middle">cc-hTpoR II</text>
<text x="282.0" y="338.6" font-size="6.9" fill="#2a2a2a" text-anchor="middle">cc-hTpoR III</text>
<text x="282.0" y="351.1" font-size="6.9" fill="#2a2a2a" text-anchor="middle">cc-hTpoR IV</text>
<text x="282.0" y="363.6" font-size="6.9" fill="#2a2a2a" text-anchor="middle">cc-hTpoR V</text>
<text x="282.0" y="376.1" font-size="6.9" fill="#2a2a2a" text-anchor="middle">cc-hTpoR VI</text>
<line x1="262.5" y1="380.0" x2="262.5" y2="382.2" stroke="#333" stroke-width="0.7"/>
<line x1="306.5" y1="380.0" x2="306.5" y2="382.2" stroke="#333" stroke-width="0.7"/>
<line x1="341.2" y1="380.0" x2="341.2" y2="382.2" stroke="#333" stroke-width="0.7"/>
<line x1="372.0" y1="380.0" x2="372.0" y2="382.2" stroke="#333" stroke-width="0.7"/>
<line x1="316.9" y1="380.0" x2="316.9" y2="381.3" stroke="#333" stroke-width="0.5"/>
<line x1="323.1" y1="380.0" x2="323.1" y2="381.3" stroke="#333" stroke-width="0.5"/>
<line x1="327.4" y1="380.0" x2="327.4" y2="381.3" stroke="#333" stroke-width="0.5"/>
<line x1="330.8" y1="380.0" x2="330.8" y2="381.3" stroke="#333" stroke-width="0.5"/>
<line x1="333.5" y1="380.0" x2="333.5" y2="381.3" stroke="#333" stroke-width="0.5"/>
<line x1="335.8" y1="380.0" x2="335.8" y2="381.3" stroke="#333" stroke-width="0.5"/>
<line x1="337.8" y1="380.0" x2="337.8" y2="381.3" stroke="#333" stroke-width="0.5"/>
<line x1="339.6" y1="380.0" x2="339.6" y2="381.3" stroke="#333" stroke-width="0.5"/>
<line x1="350.5" y1="380.0" x2="350.5" y2="381.3" stroke="#333" stroke-width="0.5"/>
<line x1="355.9" y1="380.0" x2="355.9" y2="381.3" stroke="#333" stroke-width="0.5"/>
<line x1="359.7" y1="380.0" x2="359.7" y2="381.3" stroke="#333" stroke-width="0.5"/>
<line x1="362.7" y1="380.0" x2="362.7" y2="381.3" stroke="#333" stroke-width="0.5"/>
<line x1="365.2" y1="380.0" x2="365.2" y2="381.3" stroke="#333" stroke-width="0.5"/>
<line x1="367.2" y1="380.0" x2="367.2" y2="381.3" stroke="#333" stroke-width="0.5"/>
<line x1="369.0" y1="380.0" x2="369.0" y2="381.3" stroke="#333" stroke-width="0.5"/>
<line x1="370.6" y1="380.0" x2="370.6" y2="381.3" stroke="#333" stroke-width="0.5"/>
<line x1="266.9" y1="380.0" x2="266.9" y2="381.3" stroke="#333" stroke-width="0.5"/>
<line x1="271.3" y1="380.0" x2="271.3" y2="381.3" stroke="#333" stroke-width="0.5"/>
<line x1="275.7" y1="380.0" x2="275.7" y2="381.3" stroke="#333" stroke-width="0.5"/>
<line x1="280.1" y1="380.0" x2="280.1" y2="381.3" stroke="#333" stroke-width="0.5"/>
<line x1="284.5" y1="380.0" x2="284.5" y2="381.3" stroke="#333" stroke-width="0.5"/>
<line x1="288.9" y1="380.0" x2="288.9" y2="381.3" stroke="#333" stroke-width="0.5"/>
<line x1="293.3" y1="380.0" x2="293.3" y2="381.3" stroke="#333" stroke-width="0.5"/>
<line x1="297.7" y1="380.0" x2="297.7" y2="381.3" stroke="#333" stroke-width="0.5"/>
<line x1="302.1" y1="380.0" x2="302.1" y2="381.3" stroke="#333" stroke-width="0.5"/>
<text x="262.5" y="391.8" font-size="6.6" fill="#2a2a2a" text-anchor="middle">0</text>
<text x="306.3" y="391.8" font-size="6.6" fill="#333" text-anchor="middle">10</text>
<text x="310.2" y="388.4" font-size="4.2" fill="#333">3</text>
<text x="340.3" y="391.8" font-size="6.6" fill="#333" text-anchor="middle">10</text>
<text x="344.2" y="388.4" font-size="4.2" fill="#333">4</text>
<text x="368.3" y="391.8" font-size="6.6" fill="#333" text-anchor="middle">10</text>
<text x="372.2" y="388.4" font-size="4.2" fill="#333">5</text>
<rect x="375.6" y="274.2" width="8.899999999999977" height="8.7" fill="#f2f2f2"/>
<rect x="384.5" y="274.2" width="127.79999999999995" height="8.7" fill="#c9c9c9"/>
<line x1="375.6" y1="274.20" x2="512.3" y2="274.20" stroke="#262626" stroke-width="0.9"/>
<line x1="375.6" y1="282.90" x2="512.3" y2="282.90" stroke="#262626" stroke-width="0.9"/>
<line x1="375.6" y1="291.60" x2="512.3" y2="291.60" stroke="#262626" stroke-width="0.9"/>
<line x1="375.6" y1="300.30" x2="512.3" y2="300.30" stroke="#262626" stroke-width="0.9"/>
<line x1="375.6" y1="309.00" x2="512.3" y2="309.00" stroke="#262626" stroke-width="0.9"/>
<line x1="375.6" y1="317.70" x2="512.3" y2="317.70" stroke="#262626" stroke-width="0.9"/>
<line x1="375.6" y1="326.40" x2="512.3" y2="326.40" stroke="#262626" stroke-width="0.9"/>
<line x1="375.6" y1="335.10" x2="512.3" y2="335.10" stroke="#262626" stroke-width="0.9"/>
<line x1="375.6" y1="343.80" x2="512.3" y2="343.80" stroke="#262626" stroke-width="0.9"/>
<line x1="375.6" y1="352.50" x2="512.3" y2="352.50" stroke="#262626" stroke-width="0.9"/>
<line x1="375.6" y1="361.20" x2="512.3" y2="361.20" stroke="#262626" stroke-width="0.9"/>
<line x1="375.6" y1="274.2" x2="375.6" y2="361.20" stroke="#262626" stroke-width="1.0"/>
<line x1="384.5" y1="274.2" x2="384.5" y2="361.20" stroke="#262626" stroke-width="1.0"/>
<line x1="467.7" y1="274.2" x2="467.7" y2="361.20" stroke="#262626" stroke-width="1.0"/>
<line x1="512.3" y1="274.2" x2="512.3" y2="361.20" stroke="#262626" stroke-width="1.0"/>
<text x="426.1" y="280.9" font-size="6.8" fill="#2a2a2a" text-anchor="middle" textLength="33.2" lengthAdjust="spacingAndGlyphs">Conditions</text>
<text x="490.0" y="280.9" font-size="6.8" fill="#2a2a2a" text-anchor="middle" textLength="41.1" lengthAdjust="spacingAndGlyphs">MFI: p-STAT5</text>
<text x="426.1" y="289.6" font-size="6.8" fill="#2a2a2a" text-anchor="middle">hTpoR WT unstimulated</text>
<text x="490.0" y="289.6" font-size="6.8" fill="#2a2a2a" text-anchor="middle">3635</text>
<rect x="378.05" y="285.25" width="4.0" height="4.0" fill="#3a9aa8" stroke="#333" stroke-width="0.6"/>
<text x="426.1" y="298.2" font-size="6.8" fill="#2a2a2a" text-anchor="middle">hTpoR WT + Tpo</text>
<text x="490.0" y="298.2" font-size="6.8" fill="#2a2a2a" text-anchor="middle">19736</text>
<rect x="378.05" y="293.95" width="4.0" height="4.0" fill="#9a1838" stroke="#333" stroke-width="0.6"/>
<text x="426.1" y="307.0" font-size="6.8" fill="#2a2a2a" text-anchor="middle">cc-hTpoR 0</text>
<text x="490.0" y="307.0" font-size="6.8" fill="#2a2a2a" text-anchor="middle">10714</text>
<rect x="378.05" y="302.65" width="4.0" height="4.0" fill="#1a9a50" stroke="#333" stroke-width="0.6"/>
<text x="426.1" y="315.7" font-size="6.8" fill="#2a2a2a" text-anchor="middle">cc-hTpoR I</text>
<text x="490.0" y="315.7" font-size="6.8" fill="#2a2a2a" text-anchor="middle">13648</text>
<rect x="378.05" y="311.35" width="4.0" height="4.0" fill="#c0185a" stroke="#333" stroke-width="0.6"/>
<text x="426.1" y="324.4" font-size="6.8" fill="#2a2a2a" text-anchor="middle">cc-hTpoR II</text>
<text x="490.0" y="324.4" font-size="6.8" fill="#2a2a2a" text-anchor="middle">3069</text>
<rect x="378.05" y="320.05" width="4.0" height="4.0" fill="#c8c048" stroke="#333" stroke-width="0.6"/>
<text x="426.1" y="333.1" font-size="6.8" fill="#2a2a2a" text-anchor="middle">cc-hTpoR III</text>
<text x="490.0" y="333.1" font-size="6.8" fill="#2a2a2a" text-anchor="middle">6259</text>
<rect x="378.05" y="328.75" width="4.0" height="4.0" fill="#e0e0e0" stroke="#333" stroke-width="0.6"/>
<text x="426.1" y="341.8" font-size="6.8" fill="#2a2a2a" text-anchor="middle">cc-hTpoR IV</text>
<text x="490.0" y="341.8" font-size="6.8" fill="#2a2a2a" text-anchor="middle">14089</text>
<rect x="378.05" y="337.45" width="4.0" height="4.0" fill="#8a7818" stroke="#333" stroke-width="0.6"/>
<text x="426.1" y="350.4" font-size="6.8" fill="#2a2a2a" text-anchor="middle">cc-hTpoR V</text>
<text x="490.0" y="350.4" font-size="6.8" fill="#2a2a2a" text-anchor="middle">3037</text>
<rect x="378.05" y="346.15" width="4.0" height="4.0" fill="#a0b848" stroke="#333" stroke-width="0.6"/>
<text x="426.1" y="359.2" font-size="6.8" fill="#2a2a2a" text-anchor="middle">cc-hTpoR VI</text>
<text x="490.0" y="359.2" font-size="6.8" fill="#2a2a2a" text-anchor="middle">3255</text>
<rect x="378.05" y="354.85" width="4.0" height="4.0" fill="#808092" stroke="#333" stroke-width="0.6"/>
<text x="7.8" y="420.2" font-size="12" fill="#111" font-weight="bold">E</text>
<text x="117.0" y="424.7" font-size="9.4" fill="#222" text-anchor="middle" textLength="17.0" lengthAdjust="spacingAndGlyphs">TF-1</text>
<line x1="51.85" y1="436.6" x2="51.85" y2="564.5" stroke="#3a3a3a" stroke-width="1.5"/>
<line x1="50.9" y1="564.5" x2="181.5" y2="564.5" stroke="#3a3a3a" stroke-width="1.5"/>
<line x1="48.7" y1="440.1" x2="51.5" y2="440.1" stroke="#333" stroke-width="1"/>
<text x="45.6" y="441.9" font-size="7.0" fill="#2e2e2e" text-anchor="end" textLength="18.6" lengthAdjust="spacingAndGlyphs">30000</text>
<line x1="48.7" y1="481.6" x2="51.5" y2="481.6" stroke="#333" stroke-width="1"/>
<text x="45.6" y="483.4" font-size="7.0" fill="#2e2e2e" text-anchor="end" textLength="18.6" lengthAdjust="spacingAndGlyphs">20000</text>
<line x1="48.7" y1="523.0" x2="51.5" y2="523.0" stroke="#333" stroke-width="1"/>
<text x="45.6" y="524.8" font-size="7.0" fill="#2e2e2e" text-anchor="end" textLength="18.6" lengthAdjust="spacingAndGlyphs">10000</text>
<line x1="48.7" y1="564.5" x2="51.5" y2="564.5" stroke="#333" stroke-width="1"/>
<text x="45.6" y="566.3" font-size="7.0" fill="#2e2e2e" text-anchor="end">0</text>
<text transform="translate(21.0,500.1) rotate(-90)" font-size="8.0" fill="#333" text-anchor="middle" textLength="91.4" lengthAdjust="spacingAndGlyphs">Relative cell number at day 5</text>
<rect x="56.8" y="562.6" width="8.8" height="1.9" fill="#6a8fb0"/>
<line x1="61.2" y1="564.5" x2="61.2" y2="567.3" stroke="#333" stroke-width="0.9"/>
<circle cx="61.6" cy="562.1" r="0.85" fill="#222"/>
<circle cx="60.8" cy="562.2" r="0.85" fill="#222"/>
<circle cx="61.6" cy="562.8" r="0.85" fill="#222"/>
<circle cx="59.7" cy="563.0" r="0.85" fill="#222"/>
<circle cx="62.8" cy="562.6" r="0.85" fill="#222"/>
<circle cx="62.9" cy="562.8" r="0.85" fill="#222"/>
<rect x="70.7" y="535.7" width="8.8" height="28.8" fill="#c8102e"/>
<line x1="75.1" y1="564.5" x2="75.1" y2="567.3" stroke="#333" stroke-width="0.9"/>
<line x1="75.1" y1="531.8" x2="75.1" y2="539.2" stroke="#222" stroke-width="0.8"/>
<line x1="73.1" y1="531.8" x2="77.1" y2="531.8" stroke="#222" stroke-width="0.8"/>
<line x1="73.1" y1="539.2" x2="77.1" y2="539.2" stroke="#222" stroke-width="0.8"/>
<circle cx="74.8" cy="540.1" r="0.85" fill="#222"/>
<circle cx="75.4" cy="531.5" r="0.85" fill="#222"/>
<circle cx="77.3" cy="532.5" r="0.85" fill="#222"/>
<circle cx="74.9" cy="538.6" r="0.85" fill="#222"/>
<circle cx="75.1" cy="535.7" r="0.85" fill="#222"/>
<circle cx="75.5" cy="536.3" r="0.85" fill="#222"/>
<circle cx="73.4" cy="528.4" r="0.85" fill="#222"/>
<rect x="84.5" y="546.7" width="8.8" height="17.8" fill="#3db24a"/>
<line x1="88.9" y1="564.5" x2="88.9" y2="567.3" stroke="#333" stroke-width="0.9"/>
<line x1="88.9" y1="545.4" x2="88.9" y2="548.1" stroke="#222" stroke-width="0.8"/>
<line x1="86.9" y1="545.4" x2="90.9" y2="545.4" stroke="#222" stroke-width="0.8"/>
<line x1="86.9" y1="548.1" x2="90.9" y2="548.1" stroke="#222" stroke-width="0.8"/>
<circle cx="88.8" cy="544.7" r="0.85" fill="#222"/>
<circle cx="89.8" cy="544.7" r="0.85" fill="#222"/>
<circle cx="89.8" cy="548.6" r="0.85" fill="#222"/>
<circle cx="87.1" cy="548.5" r="0.85" fill="#222"/>
<circle cx="86.4" cy="545.2" r="0.85" fill="#222"/>
<circle cx="88.3" cy="545.7" r="0.85" fill="#222"/>
<rect x="98.4" y="479.9" width="8.8" height="84.6" fill="#ec0c8c"/>
<line x1="102.8" y1="564.5" x2="102.8" y2="567.3" stroke="#333" stroke-width="0.9"/>
<line x1="102.8" y1="472.9" x2="102.8" y2="487.0" stroke="#222" stroke-width="0.8"/>
<line x1="100.8" y1="472.9" x2="104.8" y2="472.9" stroke="#222" stroke-width="0.8"/>
<line x1="100.8" y1="487.0" x2="104.8" y2="487.0" stroke="#222" stroke-width="0.8"/>
<circle cx="101.6" cy="485.9" r="0.85" fill="#222"/>
<circle cx="103.8" cy="478.9" r="0.85" fill="#222"/>
<circle cx="103.8" cy="482.9" r="0.85" fill="#222"/>
<circle cx="104.6" cy="477.6" r="0.85" fill="#222"/>
<circle cx="101.2" cy="477.1" r="0.85" fill="#222"/>
<circle cx="101.4" cy="489.7" r="0.85" fill="#222"/>
<circle cx="101.0" cy="469.6" r="0.85" fill="#222"/>
<rect x="112.3" y="561.6" width="8.8" height="2.9" fill="#f6b71e"/>
<line x1="116.7" y1="564.5" x2="116.7" y2="567.3" stroke="#333" stroke-width="0.9"/>
<circle cx="114.6" cy="562.0" r="0.85" fill="#222"/>
<circle cx="117.7" cy="562.3" r="0.85" fill="#222"/>
<circle cx="117.5" cy="561.8" r="0.85" fill="#222"/>
<circle cx="119.0" cy="562.2" r="0.85" fill="#222"/>
<circle cx="115.5" cy="562.3" r="0.85" fill="#222"/>
<circle cx="115.4" cy="561.8" r="0.85" fill="#222"/>
<rect x="126.2" y="561.2" width="8.8" height="3.3" fill="#a8d8ee"/>
<line x1="130.6" y1="564.5" x2="130.6" y2="567.3" stroke="#333" stroke-width="0.9"/>
<circle cx="133.0" cy="561.0" r="0.85" fill="#222"/>
<circle cx="128.0" cy="560.8" r="0.85" fill="#222"/>
<circle cx="131.8" cy="560.7" r="0.85" fill="#222"/>
<circle cx="128.8" cy="560.5" r="0.85" fill="#222"/>
<circle cx="133.1" cy="560.8" r="0.85" fill="#222"/>
<circle cx="128.0" cy="560.5" r="0.85" fill="#222"/>
<rect x="140.0" y="465.0" width="8.8" height="99.5" fill="#cd7a1c"/>
<line x1="144.4" y1="564.5" x2="144.4" y2="567.3" stroke="#333" stroke-width="0.9"/>
<line x1="144.4" y1="455.5" x2="144.4" y2="475.0" stroke="#222" stroke-width="0.8"/>
<line x1="142.4" y1="455.5" x2="146.4" y2="455.5" stroke="#222" stroke-width="0.8"/>
<line x1="142.4" y1="475.0" x2="146.4" y2="475.0" stroke="#222" stroke-width="0.8"/>
<circle cx="143.7" cy="455.9" r="0.85" fill="#222"/>
<circle cx="144.3" cy="455.0" r="0.85" fill="#222"/>
<circle cx="144.0" cy="465.5" r="0.85" fill="#222"/>
<circle cx="144.1" cy="472.5" r="0.85" fill="#222"/>
<circle cx="143.9" cy="480.6" r="0.85" fill="#222"/>
<circle cx="145.2" cy="459.9" r="0.85" fill="#222"/>
<circle cx="143.2" cy="452.2" r="0.85" fill="#222"/>
<rect x="153.9" y="562.8" width="8.8" height="1.7" fill="#4a6a8a"/>
<line x1="158.3" y1="564.5" x2="158.3" y2="567.3" stroke="#333" stroke-width="0.9"/>
<circle cx="158.4" cy="563.1" r="0.85" fill="#222"/>
<circle cx="159.9" cy="563.4" r="0.85" fill="#222"/>
<circle cx="160.7" cy="562.6" r="0.85" fill="#222"/>
<circle cx="157.2" cy="563.6" r="0.85" fill="#222"/>
<circle cx="159.7" cy="562.8" r="0.85" fill="#222"/>
<circle cx="159.4" cy="563.1" r="0.85" fill="#222"/>
<rect x="167.8" y="562.4" width="8.8" height="2.1" fill="#5a7898"/>
<line x1="172.2" y1="564.5" x2="172.2" y2="567.3" stroke="#333" stroke-width="0.9"/>
<circle cx="170.5" cy="562.9" r="0.85" fill="#222"/>
<circle cx="173.0" cy="561.7" r="0.85" fill="#222"/>
<circle cx="171.3" cy="563.0" r="0.85" fill="#222"/>
<circle cx="170.6" cy="562.1" r="0.85" fill="#222"/>
<circle cx="172.1" cy="563.1" r="0.85" fill="#222"/>
<circle cx="172.1" cy="562.8" r="0.85" fill="#222"/>
<polyline points="61.5,456.8 61.5,435.5 144.5,435.5 144.5,440.2" fill="none" stroke="#333" stroke-width="0.9"/>
<circle cx="98.8" cy="432.3" r="0.85" fill="#2a2a2a"/>
<circle cx="101.5" cy="432.3" r="0.85" fill="#2a2a2a"/>
<circle cx="104.2" cy="432.3" r="0.85" fill="#2a2a2a"/>
<circle cx="106.9" cy="432.3" r="0.85" fill="#2a2a2a"/>
<polyline points="61.5,497.6 61.5,462.5 102.5,462.5 102.5,465.6" fill="none" stroke="#333" stroke-width="0.9"/>
<circle cx="77.8" cy="458.6" r="0.85" fill="#2a2a2a"/>
<circle cx="80.5" cy="458.6" r="0.85" fill="#2a2a2a"/>
<circle cx="83.2" cy="458.6" r="0.85" fill="#2a2a2a"/>
<circle cx="85.8" cy="458.6" r="0.85" fill="#2a2a2a"/>
<polyline points="61.5,507.8 61.5,501.5 89.5,501.5 89.5,540.3" fill="none" stroke="#333" stroke-width="0.9"/>
<circle cx="71.4" cy="498.3" r="0.85" fill="#2a2a2a"/>
<circle cx="74.1" cy="498.3" r="0.85" fill="#2a2a2a"/>
<circle cx="76.8" cy="498.3" r="0.85" fill="#2a2a2a"/>
<circle cx="79.5" cy="498.3" r="0.85" fill="#2a2a2a"/>
<polyline points="61.5,557.5 61.5,514.5 75.5,514.5 75.5,524.3" fill="none" stroke="#333" stroke-width="0.9"/>
<circle cx="64.2" cy="511.3" r="0.85" fill="#2a2a2a"/>
<circle cx="67.0" cy="511.3" r="0.85" fill="#2a2a2a"/>
<circle cx="69.7" cy="511.3" r="0.85" fill="#2a2a2a"/>
<circle cx="72.3" cy="511.3" r="0.85" fill="#2a2a2a"/>
<text transform="translate(64.6,574.0) rotate(-45)" font-size="6.9" fill="#2a2a2a" text-anchor="end">hTpoR WT</text>
<text transform="translate(78.5,574.0) rotate(-45)" font-size="6.9" fill="#2a2a2a" text-anchor="end">hTpoR WT + Tpo (10 ng/ml)</text>
<text transform="translate(92.3,574.0) rotate(-45)" font-size="6.9" fill="#2a2a2a" text-anchor="end">cc-hTpoR 0</text>
<text transform="translate(106.2,574.0) rotate(-45)" font-size="6.9" fill="#2a2a2a" text-anchor="end">cc-hTpoR I</text>
<text transform="translate(120.1,574.0) rotate(-45)" font-size="6.9" fill="#2a2a2a" text-anchor="end">cc-hTpoR II</text>
<text transform="translate(134.0,574.0) rotate(-45)" font-size="6.9" fill="#2a2a2a" text-anchor="end">cc-hTpoR III</text>
<text transform="translate(147.8,574.0) rotate(-45)" font-size="6.9" fill="#2a2a2a" text-anchor="end">cc-hTpoR IV</text>
<text transform="translate(161.7,574.0) rotate(-45)" font-size="6.9" fill="#2a2a2a" text-anchor="end">cc-hTpoR V</text>
<text transform="translate(175.6,574.0) rotate(-45)" font-size="6.9" fill="#2a2a2a" text-anchor="end">cc-hTpoR VI</text>
<text x="198.0" y="420.3" font-size="12" fill="#111" font-weight="bold">F</text>
<text x="278.3" y="420.3" font-size="9.4" fill="#222" text-anchor="middle" textLength="17.0" lengthAdjust="spacingAndGlyphs">TF-1</text>
<text x="278.3" y="432.7" font-size="6.6" fill="#2a2a2a" text-anchor="middle" textLength="25.6" lengthAdjust="spacingAndGlyphs">p-STAT5</text>
<rect x="208.1" y="436.4" width="137.50000000000003" height="127.10000000000002" fill="#fff" stroke="#555" stroke-width="0.9"/>
<path d="M208.1,464.0 L208.9,464.0 L209.8,464.0 L210.6,464.0 L211.4,464.0 L212.3,464.0 L213.1,464.0 L213.9,464.0 L214.8,464.0 L215.6,464.0 L216.4,464.0 L217.3,464.0 L218.1,464.0 L218.9,464.0 L219.8,464.0 L220.6,464.0 L221.4,464.0 L222.3,464.0 L223.1,464.0 L223.9,464.0 L224.8,464.0 L225.6,464.0 L226.4,464.0 L227.3,463.9 L228.1,463.9 L228.9,463.9 L229.8,463.9 L230.6,463.9 L231.4,463.9 L232.3,463.9 L233.1,463.8 L233.9,463.8 L234.8,463.8 L235.6,463.7 L236.4,463.7 L237.3,463.7 L238.1,463.6 L238.9,463.6 L239.8,463.5 L240.6,463.4 L241.4,463.4 L242.3,463.3 L243.1,463.2 L243.9,463.1 L244.8,463.0 L245.6,462.9 L246.4,462.8 L247.3,462.6 L248.1,462.4 L248.9,462.1 L249.8,461.8 L250.6,461.3 L251.4,460.7 L252.3,460.0 L253.1,459.1 L253.9,458.1 L254.8,456.7 L255.6,455.3 L256.4,453.7 L257.3,451.9 L258.1,450.2 L258.9,448.1 L259.8,446.3 L260.6,445.0 L261.4,443.6 L262.3,442.8 L263.1,442.0 L263.9,441.8 L264.8,442.3 L265.6,443.4 L266.4,445.1 L267.3,446.6 L268.1,448.8 L268.9,450.9 L269.8,452.9 L270.6,455.0 L271.4,456.7 L272.3,458.1 L273.1,459.3 L273.9,460.2 L274.8,461.0 L275.6,461.6 L276.4,462.0 L277.3,462.4 L278.1,462.6 L278.9,462.8 L279.8,463.0 L280.6,463.1 L281.4,463.2 L282.3,463.3 L283.1,463.4 L283.9,463.5 L284.8,463.5 L285.6,463.6 L286.4,463.6 L287.3,463.7 L288.1,463.7 L288.9,463.8 L289.8,463.8 L290.6,463.8 L291.4,463.9 L292.3,463.9 L293.1,463.9 L293.9,463.9 L294.8,463.9 L295.6,463.9 L296.4,464.0 L297.3,464.0 L298.1,464.0 L298.9,464.0 L299.8,464.0 L300.6,464.0 L301.4,464.0 L302.3,464.0 L303.1,464.0 L303.9,464.0 L304.8,464.0 L305.6,464.0 L306.4,464.0 L307.3,464.0 L308.1,464.0 L308.9,464.0 L309.8,464.0 L310.6,464.0 L311.4,464.0 L312.3,464.0 L313.1,464.0 L313.9,464.0 L314.8,464.0 L315.6,464.0 L316.4,464.0 L317.3,464.0 L318.1,464.0 L318.9,464.0 L319.8,464.0 L320.6,464.0 L321.4,464.0 L322.3,464.0 L323.1,464.0 L323.9,464.0 L324.8,464.0 L325.6,464.0 L326.4,464.0 L327.3,464.0 L328.1,464.0 L328.9,464.0 L329.8,464.0 L330.6,464.0 L331.4,464.0 L332.3,464.0 L333.1,464.0 L333.9,464.0 L334.8,464.0 L335.6,464.0 L336.4,464.0 L337.3,464.0 L338.1,464.0 L338.9,464.0 L339.8,464.0 L340.6,464.0 L341.4,464.0 L342.3,464.0 L343.1,464.0 L343.9,464.0 L344.8,464.0 L345.6,464.0 L345.6,464.0 L208.1,464.0 Z" fill="#6db3e6" fill-opacity="0.93" stroke="none"/>
<path d="M208.1,464.0 L208.9,464.0 L209.8,464.0 L210.6,464.0 L211.4,464.0 L212.3,464.0 L213.1,464.0 L213.9,464.0 L214.8,464.0 L215.6,464.0 L216.4,464.0 L217.3,464.0 L218.1,464.0 L218.9,464.0 L219.8,464.0 L220.6,464.0 L221.4,464.0 L222.3,464.0 L223.1,464.0 L223.9,464.0 L224.8,464.0 L225.6,464.0 L226.4,464.0 L227.3,463.9 L228.1,463.9 L228.9,463.9 L229.8,463.9 L230.6,463.9 L231.4,463.9 L232.3,463.9 L233.1,463.8 L233.9,463.8 L234.8,463.8 L235.6,463.7 L236.4,463.7 L237.3,463.7 L238.1,463.6 L238.9,463.6 L239.8,463.5 L240.6,463.4 L241.4,463.4 L242.3,463.3 L243.1,463.2 L243.9,463.1 L244.8,463.0 L245.6,462.9 L246.4,462.8 L247.3,462.6 L248.1,462.4 L248.9,462.1 L249.8,461.8 L250.6,461.3 L251.4,460.7 L252.3,460.0 L253.1,459.1 L253.9,458.1 L254.8,456.7 L255.6,455.3 L256.4,453.7 L257.3,451.9 L258.1,450.2 L258.9,448.1 L259.8,446.3 L260.6,445.0 L261.4,443.6 L262.3,442.8 L263.1,442.0 L263.9,441.8 L264.8,442.3 L265.6,443.4 L266.4,445.1 L267.3,446.6 L268.1,448.8 L268.9,450.9 L269.8,452.9 L270.6,455.0 L271.4,456.7 L272.3,458.1 L273.1,459.3 L273.9,460.2 L274.8,461.0 L275.6,461.6 L276.4,462.0 L277.3,462.4 L278.1,462.6 L278.9,462.8 L279.8,463.0 L280.6,463.1 L281.4,463.2 L282.3,463.3 L283.1,463.4 L283.9,463.5 L284.8,463.5 L285.6,463.6 L286.4,463.6 L287.3,463.7 L288.1,463.7 L288.9,463.8 L289.8,463.8 L290.6,463.8 L291.4,463.9 L292.3,463.9 L293.1,463.9 L293.9,463.9 L294.8,463.9 L295.6,463.9 L296.4,464.0 L297.3,464.0 L298.1,464.0 L298.9,464.0 L299.8,464.0 L300.6,464.0 L301.4,464.0 L302.3,464.0 L303.1,464.0 L303.9,464.0 L304.8,464.0 L305.6,464.0 L306.4,464.0 L307.3,464.0 L308.1,464.0 L308.9,464.0 L309.8,464.0 L310.6,464.0 L311.4,464.0 L312.3,464.0 L313.1,464.0 L313.9,464.0 L314.8,464.0 L315.6,464.0 L316.4,464.0 L317.3,464.0 L318.1,464.0 L318.9,464.0 L319.8,464.0 L320.6,464.0 L321.4,464.0 L322.3,464.0 L323.1,464.0 L323.9,464.0 L324.8,464.0 L325.6,464.0 L326.4,464.0 L327.3,464.0 L328.1,464.0 L328.9,464.0 L329.8,464.0 L330.6,464.0 L331.4,464.0 L332.3,464.0 L333.1,464.0 L333.9,464.0 L334.8,464.0 L335.6,464.0 L336.4,464.0 L337.3,464.0 L338.1,464.0 L338.9,464.0 L339.8,464.0 L340.6,464.0 L341.4,464.0 L342.3,464.0 L343.1,464.0 L343.9,464.0 L344.8,464.0 L345.6,464.0" fill="none" stroke="#262626" stroke-width="0.85"/>
<line x1="208.1" y1="464.0" x2="345.6" y2="464.0" stroke="#444" stroke-width="0.7"/>
<path d="M208.1,476.4 L208.9,476.4 L209.8,476.4 L210.6,476.4 L211.4,476.4 L212.3,476.4 L213.1,476.4 L213.9,476.4 L214.8,476.4 L215.6,476.4 L216.4,476.4 L217.3,476.4 L218.1,476.4 L218.9,476.4 L219.8,476.4 L220.6,476.4 L221.4,476.4 L222.3,476.4 L223.1,476.4 L223.9,476.4 L224.8,476.4 L225.6,476.4 L226.4,476.4 L227.3,476.4 L228.1,476.4 L228.9,476.4 L229.8,476.4 L230.6,476.4 L231.4,476.4 L232.3,476.4 L233.1,476.4 L233.9,476.4 L234.8,476.4 L235.6,476.4 L236.4,476.4 L237.3,476.4 L238.1,476.4 L238.9,476.4 L239.8,476.4 L240.6,476.4 L241.4,476.4 L242.3,476.4 L243.1,476.4 L243.9,476.4 L244.8,476.4 L245.6,476.4 L246.4,476.4 L247.3,476.4 L248.1,476.4 L248.9,476.4 L249.8,476.4 L250.6,476.4 L251.4,476.4 L252.3,476.4 L253.1,476.4 L253.9,476.3 L254.8,476.3 L255.6,476.3 L256.4,476.3 L257.3,476.3 L258.1,476.2 L258.9,476.2 L259.8,476.1 L260.6,476.1 L261.4,476.0 L262.3,476.0 L263.1,475.9 L263.9,475.8 L264.8,475.8 L265.6,475.7 L266.4,475.6 L267.3,475.4 L268.1,475.3 L268.9,475.1 L269.8,474.8 L270.6,474.5 L271.4,474.0 L272.3,473.3 L273.1,472.5 L273.9,471.4 L274.8,470.1 L275.6,468.5 L276.4,466.5 L277.3,464.4 L278.1,462.2 L278.9,459.9 L279.8,458.1 L280.6,456.5 L281.4,455.4 L282.3,454.4 L283.1,453.9 L283.9,454.9 L284.8,455.9 L285.6,457.2 L286.4,458.6 L287.3,460.4 L288.1,462.1 L288.9,463.5 L289.8,464.6 L290.6,465.7 L291.4,466.7 L292.3,467.6 L293.1,468.2 L293.9,468.9 L294.8,469.4 L295.6,469.9 L296.4,470.4 L297.3,471.1 L298.1,471.7 L298.9,472.3 L299.8,472.8 L300.6,473.3 L301.4,473.8 L302.3,474.3 L303.1,474.7 L303.9,475.0 L304.8,475.3 L305.6,475.6 L306.4,475.8 L307.3,475.9 L308.1,476.0 L308.9,476.1 L309.8,476.2 L310.6,476.3 L311.4,476.3 L312.3,476.3 L313.1,476.4 L313.9,476.4 L314.8,476.4 L315.6,476.4 L316.4,476.4 L317.3,476.4 L318.1,476.4 L318.9,476.4 L319.8,476.4 L320.6,476.4 L321.4,476.4 L322.3,476.4 L323.1,476.4 L323.9,476.4 L324.8,476.4 L325.6,476.4 L326.4,476.4 L327.3,476.4 L328.1,476.4 L328.9,476.4 L329.8,476.4 L330.6,476.4 L331.4,476.4 L332.3,476.4 L333.1,476.4 L333.9,476.4 L334.8,476.4 L335.6,476.4 L336.4,476.4 L337.3,476.4 L338.1,476.4 L338.9,476.4 L339.8,476.4 L340.6,476.4 L341.4,476.4 L342.3,476.4 L343.1,476.4 L343.9,476.4 L344.8,476.4 L345.6,476.4 L345.6,476.43 L208.1,476.43 Z" fill="#dd5249" fill-opacity="0.93" stroke="none"/>
<path d="M208.1,476.4 L208.9,476.4 L209.8,476.4 L210.6,476.4 L211.4,476.4 L212.3,476.4 L213.1,476.4 L213.9,476.4 L214.8,476.4 L215.6,476.4 L216.4,476.4 L217.3,476.4 L218.1,476.4 L218.9,476.4 L219.8,476.4 L220.6,476.4 L221.4,476.4 L222.3,476.4 L223.1,476.4 L223.9,476.4 L224.8,476.4 L225.6,476.4 L226.4,476.4 L227.3,476.4 L228.1,476.4 L228.9,476.4 L229.8,476.4 L230.6,476.4 L231.4,476.4 L232.3,476.4 L233.1,476.4 L233.9,476.4 L234.8,476.4 L235.6,476.4 L236.4,476.4 L237.3,476.4 L238.1,476.4 L238.9,476.4 L239.8,476.4 L240.6,476.4 L241.4,476.4 L242.3,476.4 L243.1,476.4 L243.9,476.4 L244.8,476.4 L245.6,476.4 L246.4,476.4 L247.3,476.4 L248.1,476.4 L248.9,476.4 L249.8,476.4 L250.6,476.4 L251.4,476.4 L252.3,476.4 L253.1,476.4 L253.9,476.3 L254.8,476.3 L255.6,476.3 L256.4,476.3 L257.3,476.3 L258.1,476.2 L258.9,476.2 L259.8,476.1 L260.6,476.1 L261.4,476.0 L262.3,476.0 L263.1,475.9 L263.9,475.8 L264.8,475.8 L265.6,475.7 L266.4,475.6 L267.3,475.4 L268.1,475.3 L268.9,475.1 L269.8,474.8 L270.6,474.5 L271.4,474.0 L272.3,473.3 L273.1,472.5 L273.9,471.4 L274.8,470.1 L275.6,468.5 L276.4,466.5 L277.3,464.4 L278.1,462.2 L278.9,459.9 L279.8,458.1 L280.6,456.5 L281.4,455.4 L282.3,454.4 L283.1,453.9 L283.9,454.9 L284.8,455.9 L285.6,457.2 L286.4,458.6 L287.3,460.4 L288.1,462.1 L288.9,463.5 L289.8,464.6 L290.6,465.7 L291.4,466.7 L292.3,467.6 L293.1,468.2 L293.9,468.9 L294.8,469.4 L295.6,469.9 L296.4,470.4 L297.3,471.1 L298.1,471.7 L298.9,472.3 L299.8,472.8 L300.6,473.3 L301.4,473.8 L302.3,474.3 L303.1,474.7 L303.9,475.0 L304.8,475.3 L305.6,475.6 L306.4,475.8 L307.3,475.9 L308.1,476.0 L308.9,476.1 L309.8,476.2 L310.6,476.3 L311.4,476.3 L312.3,476.3 L313.1,476.4 L313.9,476.4 L314.8,476.4 L315.6,476.4 L316.4,476.4 L317.3,476.4 L318.1,476.4 L318.9,476.4 L319.8,476.4 L320.6,476.4 L321.4,476.4 L322.3,476.4 L323.1,476.4 L323.9,476.4 L324.8,476.4 L325.6,476.4 L326.4,476.4 L327.3,476.4 L328.1,476.4 L328.9,476.4 L329.8,476.4 L330.6,476.4 L331.4,476.4 L332.3,476.4 L333.1,476.4 L333.9,476.4 L334.8,476.4 L335.6,476.4 L336.4,476.4 L337.3,476.4 L338.1,476.4 L338.9,476.4 L339.8,476.4 L340.6,476.4 L341.4,476.4 L342.3,476.4 L343.1,476.4 L343.9,476.4 L344.8,476.4 L345.6,476.4" fill="none" stroke="#262626" stroke-width="0.85"/>
<line x1="208.1" y1="476.43" x2="345.6" y2="476.43" stroke="#444" stroke-width="0.7"/>
<path d="M208.1,488.9 L208.9,488.9 L209.8,488.9 L210.6,488.9 L211.4,488.9 L212.3,488.9 L213.1,488.9 L213.9,488.9 L214.8,488.9 L215.6,488.9 L216.4,488.9 L217.3,488.9 L218.1,488.9 L218.9,488.9 L219.8,488.9 L220.6,488.9 L221.4,488.9 L222.3,488.9 L223.1,488.9 L223.9,488.8 L224.8,488.8 L225.6,488.8 L226.4,488.8 L227.3,488.8 L228.1,488.8 L228.9,488.8 L229.8,488.8 L230.6,488.8 L231.4,488.8 L232.3,488.8 L233.1,488.8 L233.9,488.8 L234.8,488.8 L235.6,488.7 L236.4,488.7 L237.3,488.7 L238.1,488.7 L238.9,488.6 L239.8,488.6 L240.6,488.6 L241.4,488.5 L242.3,488.5 L243.1,488.5 L243.9,488.4 L244.8,488.4 L245.6,488.3 L246.4,488.2 L247.3,488.2 L248.1,488.1 L248.9,488.0 L249.8,487.9 L250.6,487.8 L251.4,487.7 L252.3,487.5 L253.1,487.3 L253.9,487.1 L254.8,486.7 L255.6,486.3 L256.4,485.8 L257.3,485.2 L258.1,484.4 L258.9,483.4 L259.8,482.2 L260.6,481.0 L261.4,479.5 L262.3,478.1 L263.1,476.3 L263.9,474.6 L264.8,473.4 L265.6,471.8 L266.4,470.3 L267.3,468.8 L268.1,467.9 L268.9,467.4 L269.8,466.6 L270.6,467.1 L271.4,468.0 L272.3,468.6 L273.1,470.3 L273.9,472.1 L274.8,474.1 L275.6,476.0 L276.4,478.2 L277.3,480.3 L278.1,482.2 L278.9,484.0 L279.8,485.4 L280.6,486.4 L281.4,487.1 L282.3,487.6 L283.1,487.9 L283.9,488.1 L284.8,488.2 L285.6,488.4 L286.4,488.4 L287.3,488.5 L288.1,488.6 L288.9,488.6 L289.8,488.7 L290.6,488.7 L291.4,488.7 L292.3,488.8 L293.1,488.8 L293.9,488.8 L294.8,488.8 L295.6,488.8 L296.4,488.8 L297.3,488.8 L298.1,488.8 L298.9,488.8 L299.8,488.9 L300.6,488.9 L301.4,488.9 L302.3,488.9 L303.1,488.9 L303.9,488.9 L304.8,488.9 L305.6,488.9 L306.4,488.9 L307.3,488.9 L308.1,488.9 L308.9,488.9 L309.8,488.9 L310.6,488.9 L311.4,488.9 L312.3,488.9 L313.1,488.9 L313.9,488.9 L314.8,488.9 L315.6,488.9 L316.4,488.9 L317.3,488.9 L318.1,488.9 L318.9,488.9 L319.8,488.9 L320.6,488.9 L321.4,488.9 L322.3,488.9 L323.1,488.9 L323.9,488.9 L324.8,488.9 L325.6,488.9 L326.4,488.9 L327.3,488.9 L328.1,488.9 L328.9,488.9 L329.8,488.9 L330.6,488.9 L331.4,488.9 L332.3,488.9 L333.1,488.9 L333.9,488.9 L334.8,488.9 L335.6,488.9 L336.4,488.9 L337.3,488.9 L338.1,488.9 L338.9,488.9 L339.8,488.9 L340.6,488.9 L341.4,488.9 L342.3,488.9 L343.1,488.9 L343.9,488.9 L344.8,488.9 L345.6,488.9 L345.6,488.86 L208.1,488.86 Z" fill="#79c152" fill-opacity="0.93" stroke="none"/>
<path d="M208.1,488.9 L208.9,488.9 L209.8,488.9 L210.6,488.9 L211.4,488.9 L212.3,488.9 L213.1,488.9 L213.9,488.9 L214.8,488.9 L215.6,488.9 L216.4,488.9 L217.3,488.9 L218.1,488.9 L218.9,488.9 L219.8,488.9 L220.6,488.9 L221.4,488.9 L222.3,488.9 L223.1,488.9 L223.9,488.8 L224.8,488.8 L225.6,488.8 L226.4,488.8 L227.3,488.8 L228.1,488.8 L228.9,488.8 L229.8,488.8 L230.6,488.8 L231.4,488.8 L232.3,488.8 L233.1,488.8 L233.9,488.8 L234.8,488.8 L235.6,488.7 L236.4,488.7 L237.3,488.7 L238.1,488.7 L238.9,488.6 L239.8,488.6 L240.6,488.6 L241.4,488.5 L242.3,488.5 L243.1,488.5 L243.9,488.4 L244.8,488.4 L245.6,488.3 L246.4,488.2 L247.3,488.2 L248.1,488.1 L248.9,488.0 L249.8,487.9 L250.6,487.8 L251.4,487.7 L252.3,487.5 L253.1,487.3 L253.9,487.1 L254.8,486.7 L255.6,486.3 L256.4,485.8 L257.3,485.2 L258.1,484.4 L258.9,483.4 L259.8,482.2 L260.6,481.0 L261.4,479.5 L262.3,478.1 L263.1,476.3 L263.9,474.6 L264.8,473.4 L265.6,471.8 L266.4,470.3 L267.3,468.8 L268.1,467.9 L268.9,467.4 L269.8,466.6 L270.6,467.1 L271.4,468.0 L272.3,468.6 L273.1,470.3 L273.9,472.1 L274.8,474.1 L275.6,476.0 L276.4,478.2 L277.3,480.3 L278.1,482.2 L278.9,484.0 L279.8,485.4 L280.6,486.4 L281.4,487.1 L282.3,487.6 L283.1,487.9 L283.9,488.1 L284.8,488.2 L285.6,488.4 L286.4,488.4 L287.3,488.5 L288.1,488.6 L288.9,488.6 L289.8,488.7 L290.6,488.7 L291.4,488.7 L292.3,488.8 L293.1,488.8 L293.9,488.8 L294.8,488.8 L295.6,488.8 L296.4,488.8 L297.3,488.8 L298.1,488.8 L298.9,488.8 L299.8,488.9 L300.6,488.9 L301.4,488.9 L302.3,488.9 L303.1,488.9 L303.9,488.9 L304.8,488.9 L305.6,488.9 L306.4,488.9 L307.3,488.9 L308.1,488.9 L308.9,488.9 L309.8,488.9 L310.6,488.9 L311.4,488.9 L312.3,488.9 L313.1,488.9 L313.9,488.9 L314.8,488.9 L315.6,488.9 L316.4,488.9 L317.3,488.9 L318.1,488.9 L318.9,488.9 L319.8,488.9 L320.6,488.9 L321.4,488.9 L322.3,488.9 L323.1,488.9 L323.9,488.9 L324.8,488.9 L325.6,488.9 L326.4,488.9 L327.3,488.9 L328.1,488.9 L328.9,488.9 L329.8,488.9 L330.6,488.9 L331.4,488.9 L332.3,488.9 L333.1,488.9 L333.9,488.9 L334.8,488.9 L335.6,488.9 L336.4,488.9 L337.3,488.9 L338.1,488.9 L338.9,488.9 L339.8,488.9 L340.6,488.9 L341.4,488.9 L342.3,488.9 L343.1,488.9 L343.9,488.9 L344.8,488.9 L345.6,488.9" fill="none" stroke="#262626" stroke-width="0.85"/>
<line x1="208.1" y1="488.86" x2="345.6" y2="488.86" stroke="#444" stroke-width="0.7"/>
<path d="M208.1,501.3 L208.9,501.3 L209.8,501.3 L210.6,501.3 L211.4,501.3 L212.3,501.3 L213.1,501.3 L213.9,501.3 L214.8,501.3 L215.6,501.3 L216.4,501.3 L217.3,501.3 L218.1,501.3 L218.9,501.2 L219.8,501.2 L220.6,501.2 L221.4,501.2 L222.3,501.2 L223.1,501.2 L223.9,501.2 L224.8,501.2 L225.6,501.2 L226.4,501.2 L227.3,501.1 L228.1,501.1 L228.9,501.1 L229.8,501.1 L230.6,501.1 L231.4,501.1 L232.3,501.0 L233.1,501.0 L233.9,501.0 L234.8,500.9 L235.6,500.9 L236.4,500.9 L237.3,500.9 L238.1,500.8 L238.9,500.8 L239.8,500.7 L240.6,500.7 L241.4,500.6 L242.3,500.6 L243.1,500.5 L243.9,500.4 L244.8,500.4 L245.6,500.3 L246.4,500.2 L247.3,500.0 L248.1,499.9 L248.9,499.7 L249.8,499.5 L250.6,499.2 L251.4,498.9 L252.3,498.5 L253.1,498.0 L253.9,497.5 L254.8,496.8 L255.6,496.1 L256.4,495.4 L257.3,494.6 L258.1,493.4 L258.9,492.3 L259.8,491.2 L260.6,490.2 L261.4,489.2 L262.3,488.2 L263.1,486.6 L263.9,485.2 L264.8,484.2 L265.6,483.1 L266.4,482.4 L267.3,481.6 L268.1,481.2 L268.9,480.5 L269.8,480.0 L270.6,479.8 L271.4,480.0 L272.3,480.3 L273.1,480.6 L273.9,480.2 L274.8,480.0 L275.6,480.3 L276.4,480.5 L277.3,481.1 L278.1,481.5 L278.9,482.1 L279.8,482.2 L280.6,483.0 L281.4,483.1 L282.3,483.3 L283.1,484.2 L283.9,484.6 L284.8,485.2 L285.6,485.5 L286.4,486.4 L287.3,487.0 L288.1,487.6 L288.9,488.4 L289.8,489.2 L290.6,490.0 L291.4,490.7 L292.3,491.4 L293.1,492.1 L293.9,493.0 L294.8,493.6 L295.6,494.3 L296.4,495.1 L297.3,495.7 L298.1,496.3 L298.9,497.0 L299.8,497.5 L300.6,498.0 L301.4,498.4 L302.3,498.8 L303.1,499.2 L303.9,499.5 L304.8,499.8 L305.6,500.0 L306.4,500.2 L307.3,500.4 L308.1,500.5 L308.9,500.7 L309.8,500.8 L310.6,500.9 L311.4,500.9 L312.3,501.0 L313.1,501.0 L313.9,501.1 L314.8,501.1 L315.6,501.1 L316.4,501.2 L317.3,501.2 L318.1,501.2 L318.9,501.2 L319.8,501.2 L320.6,501.2 L321.4,501.2 L322.3,501.2 L323.1,501.3 L323.9,501.3 L324.8,501.3 L325.6,501.3 L326.4,501.3 L327.3,501.3 L328.1,501.3 L328.9,501.3 L329.8,501.3 L330.6,501.3 L331.4,501.3 L332.3,501.3 L333.1,501.3 L333.9,501.3 L334.8,501.3 L335.6,501.3 L336.4,501.3 L337.3,501.3 L338.1,501.3 L338.9,501.3 L339.8,501.3 L340.6,501.3 L341.4,501.3 L342.3,501.3 L343.1,501.3 L343.9,501.3 L344.8,501.3 L345.6,501.3 L345.6,501.29 L208.1,501.29 Z" fill="#ea5fa1" fill-opacity="0.93" stroke="none"/>
<path d="M208.1,501.3 L208.9,501.3 L209.8,501.3 L210.6,501.3 L211.4,501.3 L212.3,501.3 L213.1,501.3 L213.9,501.3 L214.8,501.3 L215.6,501.3 L216.4,501.3 L217.3,501.3 L218.1,501.3 L218.9,501.2 L219.8,501.2 L220.6,501.2 L221.4,501.2 L222.3,501.2 L223.1,501.2 L223.9,501.2 L224.8,501.2 L225.6,501.2 L226.4,501.2 L227.3,501.1 L228.1,501.1 L228.9,501.1 L229.8,501.1 L230.6,501.1 L231.4,501.1 L232.3,501.0 L233.1,501.0 L233.9,501.0 L234.8,500.9 L235.6,500.9 L236.4,500.9 L237.3,500.9 L238.1,500.8 L238.9,500.8 L239.8,500.7 L240.6,500.7 L241.4,500.6 L242.3,500.6 L243.1,500.5 L243.9,500.4 L244.8,500.4 L245.6,500.3 L246.4,500.2 L247.3,500.0 L248.1,499.9 L248.9,499.7 L249.8,499.5 L250.6,499.2 L251.4,498.9 L252.3,498.5 L253.1,498.0 L253.9,497.5 L254.8,496.8 L255.6,496.1 L256.4,495.4 L257.3,494.6 L258.1,493.4 L258.9,492.3 L259.8,491.2 L260.6,490.2 L261.4,489.2 L262.3,488.2 L263.1,486.6 L263.9,485.2 L264.8,484.2 L265.6,483.1 L266.4,482.4 L267.3,481.6 L268.1,481.2 L268.9,480.5 L269.8,480.0 L270.6,479.8 L271.4,480.0 L272.3,480.3 L273.1,480.6 L273.9,480.2 L274.8,480.0 L275.6,480.3 L276.4,480.5 L277.3,481.1 L278.1,481.5 L278.9,482.1 L279.8,482.2 L280.6,483.0 L281.4,483.1 L282.3,483.3 L283.1,484.2 L283.9,484.6 L284.8,485.2 L285.6,485.5 L286.4,486.4 L287.3,487.0 L288.1,487.6 L288.9,488.4 L289.8,489.2 L290.6,490.0 L291.4,490.7 L292.3,491.4 L293.1,492.1 L293.9,493.0 L294.8,493.6 L295.6,494.3 L296.4,495.1 L297.3,495.7 L298.1,496.3 L298.9,497.0 L299.8,497.5 L300.6,498.0 L301.4,498.4 L302.3,498.8 L303.1,499.2 L303.9,499.5 L304.8,499.8 L305.6,500.0 L306.4,500.2 L307.3,500.4 L308.1,500.5 L308.9,500.7 L309.8,500.8 L310.6,500.9 L311.4,500.9 L312.3,501.0 L313.1,501.0 L313.9,501.1 L314.8,501.1 L315.6,501.1 L316.4,501.2 L317.3,501.2 L318.1,501.2 L318.9,501.2 L319.8,501.2 L320.6,501.2 L321.4,501.2 L322.3,501.2 L323.1,501.3 L323.9,501.3 L324.8,501.3 L325.6,501.3 L326.4,501.3 L327.3,501.3 L328.1,501.3 L328.9,501.3 L329.8,501.3 L330.6,501.3 L331.4,501.3 L332.3,501.3 L333.1,501.3 L333.9,501.3 L334.8,501.3 L335.6,501.3 L336.4,501.3 L337.3,501.3 L338.1,501.3 L338.9,501.3 L339.8,501.3 L340.6,501.3 L341.4,501.3 L342.3,501.3 L343.1,501.3 L343.9,501.3 L344.8,501.3 L345.6,501.3" fill="none" stroke="#262626" stroke-width="0.85"/>
<line x1="208.1" y1="501.29" x2="345.6" y2="501.29" stroke="#444" stroke-width="0.7"/>
<path d="M208.1,513.7 L208.9,513.7 L209.8,513.7 L210.6,513.7 L211.4,513.7 L212.3,513.7 L213.1,513.7 L213.9,513.7 L214.8,513.7 L215.6,513.7 L216.4,513.7 L217.3,513.7 L218.1,513.7 L218.9,513.7 L219.8,513.7 L220.6,513.7 L221.4,513.7 L222.3,513.7 L223.1,513.7 L223.9,513.7 L224.8,513.7 L225.6,513.7 L226.4,513.7 L227.3,513.7 L228.1,513.7 L228.9,513.7 L229.8,513.7 L230.6,513.6 L231.4,513.6 L232.3,513.6 L233.1,513.6 L233.9,513.5 L234.8,513.5 L235.6,513.5 L236.4,513.4 L237.3,513.4 L238.1,513.3 L238.9,513.2 L239.8,513.2 L240.6,513.1 L241.4,513.0 L242.3,512.9 L243.1,512.7 L243.9,512.5 L244.8,512.3 L245.6,512.0 L246.4,511.7 L247.3,511.1 L248.1,510.4 L248.9,509.3 L249.8,508.1 L250.6,506.5 L251.4,504.5 L252.3,502.1 L253.1,499.9 L253.9,497.4 L254.8,494.9 L255.6,493.1 L256.4,491.9 L257.3,490.8 L258.1,491.0 L258.9,491.1 L259.8,491.9 L260.6,492.8 L261.4,494.3 L262.3,495.7 L263.1,497.3 L263.9,498.8 L264.8,500.6 L265.6,502.2 L266.4,503.6 L267.3,504.9 L268.1,506.3 L268.9,507.4 L269.8,508.4 L270.6,509.2 L271.4,509.9 L272.3,510.5 L273.1,511.0 L273.9,511.4 L274.8,511.7 L275.6,512.0 L276.4,512.2 L277.3,512.3 L278.1,512.5 L278.9,512.6 L279.8,512.7 L280.6,512.8 L281.4,512.9 L282.3,513.0 L283.1,513.0 L283.9,513.1 L284.8,513.1 L285.6,513.2 L286.4,513.2 L287.3,513.3 L288.1,513.3 L288.9,513.4 L289.8,513.4 L290.6,513.4 L291.4,513.5 L292.3,513.5 L293.1,513.5 L293.9,513.5 L294.8,513.6 L295.6,513.6 L296.4,513.6 L297.3,513.6 L298.1,513.6 L298.9,513.6 L299.8,513.7 L300.6,513.7 L301.4,513.7 L302.3,513.7 L303.1,513.7 L303.9,513.7 L304.8,513.7 L305.6,513.7 L306.4,513.7 L307.3,513.7 L308.1,513.7 L308.9,513.7 L309.8,513.7 L310.6,513.7 L311.4,513.7 L312.3,513.7 L313.1,513.7 L313.9,513.7 L314.8,513.7 L315.6,513.7 L316.4,513.7 L317.3,513.7 L318.1,513.7 L318.9,513.7 L319.8,513.7 L320.6,513.7 L321.4,513.7 L322.3,513.7 L323.1,513.7 L323.9,513.7 L324.8,513.7 L325.6,513.7 L326.4,513.7 L327.3,513.7 L328.1,513.7 L328.9,513.7 L329.8,513.7 L330.6,513.7 L331.4,513.7 L332.3,513.7 L333.1,513.7 L333.9,513.7 L334.8,513.7 L335.6,513.7 L336.4,513.7 L337.3,513.7 L338.1,513.7 L338.9,513.7 L339.8,513.7 L340.6,513.7 L341.4,513.7 L342.3,513.7 L343.1,513.7 L343.9,513.7 L344.8,513.7 L345.6,513.7 L345.6,513.72 L208.1,513.72 Z" fill="#f8c64a" fill-opacity="0.93" stroke="none"/>
<path d="M208.1,513.7 L208.9,513.7 L209.8,513.7 L210.6,513.7 L211.4,513.7 L212.3,513.7 L213.1,513.7 L213.9,513.7 L214.8,513.7 L215.6,513.7 L216.4,513.7 L217.3,513.7 L218.1,513.7 L218.9,513.7 L219.8,513.7 L220.6,513.7 L221.4,513.7 L222.3,513.7 L223.1,513.7 L223.9,513.7 L224.8,513.7 L225.6,513.7 L226.4,513.7 L227.3,513.7 L228.1,513.7 L228.9,513.7 L229.8,513.7 L230.6,513.6 L231.4,513.6 L232.3,513.6 L233.1,513.6 L233.9,513.5 L234.8,513.5 L235.6,513.5 L236.4,513.4 L237.3,513.4 L238.1,513.3 L238.9,513.2 L239.8,513.2 L240.6,513.1 L241.4,513.0 L242.3,512.9 L243.1,512.7 L243.9,512.5 L244.8,512.3 L245.6,512.0 L246.4,511.7 L247.3,511.1 L248.1,510.4 L248.9,509.3 L249.8,508.1 L250.6,506.5 L251.4,504.5 L252.3,502.1 L253.1,499.9 L253.9,497.4 L254.8,494.9 L255.6,493.1 L256.4,491.9 L257.3,490.8 L258.1,491.0 L258.9,491.1 L259.8,491.9 L260.6,492.8 L261.4,494.3 L262.3,495.7 L263.1,497.3 L263.9,498.8 L264.8,500.6 L265.6,502.2 L266.4,503.6 L267.3,504.9 L268.1,506.3 L268.9,507.4 L269.8,508.4 L270.6,509.2 L271.4,509.9 L272.3,510.5 L273.1,511.0 L273.9,511.4 L274.8,511.7 L275.6,512.0 L276.4,512.2 L277.3,512.3 L278.1,512.5 L278.9,512.6 L279.8,512.7 L280.6,512.8 L281.4,512.9 L282.3,513.0 L283.1,513.0 L283.9,513.1 L284.8,513.1 L285.6,513.2 L286.4,513.2 L287.3,513.3 L288.1,513.3 L288.9,513.4 L289.8,513.4 L290.6,513.4 L291.4,513.5 L292.3,513.5 L293.1,513.5 L293.9,513.5 L294.8,513.6 L295.6,513.6 L296.4,513.6 L297.3,513.6 L298.1,513.6 L298.9,513.6 L299.8,513.7 L300.6,513.7 L301.4,513.7 L302.3,513.7 L303.1,513.7 L303.9,513.7 L304.8,513.7 L305.6,513.7 L306.4,513.7 L307.3,513.7 L308.1,513.7 L308.9,513.7 L309.8,513.7 L310.6,513.7 L311.4,513.7 L312.3,513.7 L313.1,513.7 L313.9,513.7 L314.8,513.7 L315.6,513.7 L316.4,513.7 L317.3,513.7 L318.1,513.7 L318.9,513.7 L319.8,513.7 L320.6,513.7 L321.4,513.7 L322.3,513.7 L323.1,513.7 L323.9,513.7 L324.8,513.7 L325.6,513.7 L326.4,513.7 L327.3,513.7 L328.1,513.7 L328.9,513.7 L329.8,513.7 L330.6,513.7 L331.4,513.7 L332.3,513.7 L333.1,513.7 L333.9,513.7 L334.8,513.7 L335.6,513.7 L336.4,513.7 L337.3,513.7 L338.1,513.7 L338.9,513.7 L339.8,513.7 L340.6,513.7 L341.4,513.7 L342.3,513.7 L343.1,513.7 L343.9,513.7 L344.8,513.7 L345.6,513.7" fill="none" stroke="#262626" stroke-width="0.85"/>
<line x1="208.1" y1="513.72" x2="345.6" y2="513.72" stroke="#444" stroke-width="0.7"/>
<path d="M208.1,526.1 L208.9,526.1 L209.8,526.1 L210.6,526.1 L211.4,526.1 L212.3,526.1 L213.1,526.1 L213.9,526.1 L214.8,526.1 L215.6,526.1 L216.4,526.1 L217.3,526.1 L218.1,526.1 L218.9,526.1 L219.8,526.1 L220.6,526.1 L221.4,526.1 L222.3,526.1 L223.1,526.1 L223.9,526.1 L224.8,526.1 L225.6,526.1 L226.4,526.1 L227.3,526.1 L228.1,526.1 L228.9,526.1 L229.8,526.1 L230.6,526.1 L231.4,526.1 L232.3,526.1 L233.1,526.1 L233.9,526.0 L234.8,526.0 L235.6,526.0 L236.4,526.0 L237.3,525.9 L238.1,525.9 L238.9,525.8 L239.8,525.8 L240.6,525.7 L241.4,525.6 L242.3,525.6 L243.1,525.5 L243.9,525.4 L244.8,525.3 L245.6,525.1 L246.4,525.0 L247.3,524.8 L248.1,524.5 L248.9,524.2 L249.8,523.7 L250.6,523.0 L251.4,522.1 L252.3,521.0 L253.1,519.6 L253.9,518.0 L254.8,516.1 L255.6,514.1 L256.4,511.7 L257.3,509.5 L258.1,507.2 L258.9,505.6 L259.8,504.6 L260.6,504.0 L261.4,504.3 L262.3,504.8 L263.1,505.4 L263.9,506.6 L264.8,508.3 L265.6,509.9 L266.4,511.3 L267.3,512.9 L268.1,514.8 L268.9,516.2 L269.8,517.7 L270.6,519.0 L271.4,520.2 L272.3,521.2 L273.1,522.0 L273.9,522.7 L274.8,523.3 L275.6,523.7 L276.4,524.1 L277.3,524.4 L278.1,524.6 L278.9,524.8 L279.8,525.0 L280.6,525.1 L281.4,525.2 L282.3,525.3 L283.1,525.4 L283.9,525.4 L284.8,525.5 L285.6,525.6 L286.4,525.6 L287.3,525.7 L288.1,525.7 L288.9,525.8 L289.8,525.8 L290.6,525.9 L291.4,525.9 L292.3,525.9 L293.1,525.9 L293.9,526.0 L294.8,526.0 L295.6,526.0 L296.4,526.0 L297.3,526.0 L298.1,526.1 L298.9,526.1 L299.8,526.1 L300.6,526.1 L301.4,526.1 L302.3,526.1 L303.1,526.1 L303.9,526.1 L304.8,526.1 L305.6,526.1 L306.4,526.1 L307.3,526.1 L308.1,526.1 L308.9,526.1 L309.8,526.1 L310.6,526.1 L311.4,526.1 L312.3,526.1 L313.1,526.1 L313.9,526.1 L314.8,526.1 L315.6,526.1 L316.4,526.1 L317.3,526.1 L318.1,526.1 L318.9,526.1 L319.8,526.1 L320.6,526.1 L321.4,526.1 L322.3,526.1 L323.1,526.1 L323.9,526.1 L324.8,526.1 L325.6,526.1 L326.4,526.1 L327.3,526.1 L328.1,526.1 L328.9,526.1 L329.8,526.1 L330.6,526.1 L331.4,526.1 L332.3,526.1 L333.1,526.1 L333.9,526.1 L334.8,526.1 L335.6,526.1 L336.4,526.1 L337.3,526.1 L338.1,526.1 L338.9,526.1 L339.8,526.1 L340.6,526.1 L341.4,526.1 L342.3,526.1 L343.1,526.1 L343.9,526.1 L344.8,526.1 L345.6,526.1 L345.6,526.15 L208.1,526.15 Z" fill="#d6d4e0" fill-opacity="0.93" stroke="none"/>
<path d="M208.1,526.1 L208.9,526.1 L209.8,526.1 L210.6,526.1 L211.4,526.1 L212.3,526.1 L213.1,526.1 L213.9,526.1 L214.8,526.1 L215.6,526.1 L216.4,526.1 L217.3,526.1 L218.1,526.1 L218.9,526.1 L219.8,526.1 L220.6,526.1 L221.4,526.1 L222.3,526.1 L223.1,526.1 L223.9,526.1 L224.8,526.1 L225.6,526.1 L226.4,526.1 L227.3,526.1 L228.1,526.1 L228.9,526.1 L229.8,526.1 L230.6,526.1 L231.4,526.1 L232.3,526.1 L233.1,526.1 L233.9,526.0 L234.8,526.0 L235.6,526.0 L236.4,526.0 L237.3,525.9 L238.1,525.9 L238.9,525.8 L239.8,525.8 L240.6,525.7 L241.4,525.6 L242.3,525.6 L243.1,525.5 L243.9,525.4 L244.8,525.3 L245.6,525.1 L246.4,525.0 L247.3,524.8 L248.1,524.5 L248.9,524.2 L249.8,523.7 L250.6,523.0 L251.4,522.1 L252.3,521.0 L253.1,519.6 L253.9,518.0 L254.8,516.1 L255.6,514.1 L256.4,511.7 L257.3,509.5 L258.1,507.2 L258.9,505.6 L259.8,504.6 L260.6,504.0 L261.4,504.3 L262.3,504.8 L263.1,505.4 L263.9,506.6 L264.8,508.3 L265.6,509.9 L266.4,511.3 L267.3,512.9 L268.1,514.8 L268.9,516.2 L269.8,517.7 L270.6,519.0 L271.4,520.2 L272.3,521.2 L273.1,522.0 L273.9,522.7 L274.8,523.3 L275.6,523.7 L276.4,524.1 L277.3,524.4 L278.1,524.6 L278.9,524.8 L279.8,525.0 L280.6,525.1 L281.4,525.2 L282.3,525.3 L283.1,525.4 L283.9,525.4 L284.8,525.5 L285.6,525.6 L286.4,525.6 L287.3,525.7 L288.1,525.7 L288.9,525.8 L289.8,525.8 L290.6,525.9 L291.4,525.9 L292.3,525.9 L293.1,525.9 L293.9,526.0 L294.8,526.0 L295.6,526.0 L296.4,526.0 L297.3,526.0 L298.1,526.1 L298.9,526.1 L299.8,526.1 L300.6,526.1 L301.4,526.1 L302.3,526.1 L303.1,526.1 L303.9,526.1 L304.8,526.1 L305.6,526.1 L306.4,526.1 L307.3,526.1 L308.1,526.1 L308.9,526.1 L309.8,526.1 L310.6,526.1 L311.4,526.1 L312.3,526.1 L313.1,526.1 L313.9,526.1 L314.8,526.1 L315.6,526.1 L316.4,526.1 L317.3,526.1 L318.1,526.1 L318.9,526.1 L319.8,526.1 L320.6,526.1 L321.4,526.1 L322.3,526.1 L323.1,526.1 L323.9,526.1 L324.8,526.1 L325.6,526.1 L326.4,526.1 L327.3,526.1 L328.1,526.1 L328.9,526.1 L329.8,526.1 L330.6,526.1 L331.4,526.1 L332.3,526.1 L333.1,526.1 L333.9,526.1 L334.8,526.1 L335.6,526.1 L336.4,526.1 L337.3,526.1 L338.1,526.1 L338.9,526.1 L339.8,526.1 L340.6,526.1 L341.4,526.1 L342.3,526.1 L343.1,526.1 L343.9,526.1 L344.8,526.1 L345.6,526.1" fill="none" stroke="#262626" stroke-width="0.85"/>
<line x1="208.1" y1="526.15" x2="345.6" y2="526.15" stroke="#444" stroke-width="0.7"/>
<path d="M208.1,538.6 L208.9,538.6 L209.8,538.6 L210.6,538.6 L211.4,538.6 L212.3,538.6 L213.1,538.6 L213.9,538.6 L214.8,538.6 L215.6,538.6 L216.4,538.6 L217.3,538.6 L218.1,538.6 L218.9,538.6 L219.8,538.6 L220.6,538.6 L221.4,538.6 L222.3,538.6 L223.1,538.6 L223.9,538.6 L224.8,538.6 L225.6,538.6 L226.4,538.6 L227.3,538.6 L228.1,538.6 L228.9,538.5 L229.8,538.5 L230.6,538.5 L231.4,538.5 L232.3,538.5 L233.1,538.5 L233.9,538.5 L234.8,538.5 L235.6,538.5 L236.4,538.5 L237.3,538.5 L238.1,538.5 L238.9,538.4 L239.8,538.4 L240.6,538.4 L241.4,538.4 L242.3,538.4 L243.1,538.4 L243.9,538.3 L244.8,538.3 L245.6,538.3 L246.4,538.3 L247.3,538.2 L248.1,538.2 L248.9,538.2 L249.8,538.1 L250.6,538.1 L251.4,538.0 L252.3,538.0 L253.1,537.9 L253.9,537.9 L254.8,537.8 L255.6,537.8 L256.4,537.7 L257.3,537.6 L258.1,537.5 L258.9,537.3 L259.8,537.2 L260.6,536.9 L261.4,536.6 L262.3,536.3 L263.1,535.8 L263.9,535.2 L264.8,534.4 L265.6,533.5 L266.4,532.5 L267.3,531.3 L268.1,530.0 L268.9,528.8 L269.8,527.6 L270.6,526.7 L271.4,525.7 L272.3,524.8 L273.1,524.1 L273.9,523.2 L274.8,522.5 L275.6,522.1 L276.4,521.5 L277.3,520.4 L278.1,519.3 L278.9,519.0 L279.8,518.1 L280.6,517.8 L281.4,517.6 L282.3,517.1 L283.1,516.9 L283.9,516.3 L284.8,515.7 L285.6,515.5 L286.4,515.6 L287.3,515.9 L288.1,515.9 L288.9,516.3 L289.8,516.7 L290.6,517.1 L291.4,517.6 L292.3,517.9 L293.1,519.2 L293.9,520.1 L294.8,520.9 L295.6,522.2 L296.4,523.5 L297.3,524.8 L298.1,525.9 L298.9,527.2 L299.8,528.3 L300.6,529.7 L301.4,530.9 L302.3,532.0 L303.1,532.9 L303.9,533.8 L304.8,534.6 L305.6,535.3 L306.4,535.9 L307.3,536.4 L308.1,536.8 L308.9,537.1 L309.8,537.4 L310.6,537.6 L311.4,537.8 L312.3,538.0 L313.1,538.1 L313.9,538.2 L314.8,538.2 L315.6,538.3 L316.4,538.3 L317.3,538.4 L318.1,538.4 L318.9,538.4 L319.8,538.4 L320.6,538.5 L321.4,538.5 L322.3,538.5 L323.1,538.5 L323.9,538.5 L324.8,538.5 L325.6,538.5 L326.4,538.5 L327.3,538.5 L328.1,538.5 L328.9,538.5 L329.8,538.6 L330.6,538.6 L331.4,538.6 L332.3,538.6 L333.1,538.6 L333.9,538.6 L334.8,538.6 L335.6,538.6 L336.4,538.6 L337.3,538.6 L338.1,538.6 L338.9,538.6 L339.8,538.6 L340.6,538.6 L341.4,538.6 L342.3,538.6 L343.1,538.6 L343.9,538.6 L344.8,538.6 L345.6,538.6 L345.6,538.58 L208.1,538.58 Z" fill="#cd8a44" fill-opacity="0.93" stroke="none"/>
<path d="M208.1,538.6 L208.9,538.6 L209.8,538.6 L210.6,538.6 L211.4,538.6 L212.3,538.6 L213.1,538.6 L213.9,538.6 L214.8,538.6 L215.6,538.6 L216.4,538.6 L217.3,538.6 L218.1,538.6 L218.9,538.6 L219.8,538.6 L220.6,538.6 L221.4,538.6 L222.3,538.6 L223.1,538.6 L223.9,538.6 L224.8,538.6 L225.6,538.6 L226.4,538.6 L227.3,538.6 L228.1,538.6 L228.9,538.5 L229.8,538.5 L230.6,538.5 L231.4,538.5 L232.3,538.5 L233.1,538.5 L233.9,538.5 L234.8,538.5 L235.6,538.5 L236.4,538.5 L237.3,538.5 L238.1,538.5 L238.9,538.4 L239.8,538.4 L240.6,538.4 L241.4,538.4 L242.3,538.4 L243.1,538.4 L243.9,538.3 L244.8,538.3 L245.6,538.3 L246.4,538.3 L247.3,538.2 L248.1,538.2 L248.9,538.2 L249.8,538.1 L250.6,538.1 L251.4,538.0 L252.3,538.0 L253.1,537.9 L253.9,537.9 L254.8,537.8 L255.6,537.8 L256.4,537.7 L257.3,537.6 L258.1,537.5 L258.9,537.3 L259.8,537.2 L260.6,536.9 L261.4,536.6 L262.3,536.3 L263.1,535.8 L263.9,535.2 L264.8,534.4 L265.6,533.5 L266.4,532.5 L267.3,531.3 L268.1,530.0 L268.9,528.8 L269.8,527.6 L270.6,526.7 L271.4,525.7 L272.3,524.8 L273.1,524.1 L273.9,523.2 L274.8,522.5 L275.6,522.1 L276.4,521.5 L277.3,520.4 L278.1,519.3 L278.9,519.0 L279.8,518.1 L280.6,517.8 L281.4,517.6 L282.3,517.1 L283.1,516.9 L283.9,516.3 L284.8,515.7 L285.6,515.5 L286.4,515.6 L287.3,515.9 L288.1,515.9 L288.9,516.3 L289.8,516.7 L290.6,517.1 L291.4,517.6 L292.3,517.9 L293.1,519.2 L293.9,520.1 L294.8,520.9 L295.6,522.2 L296.4,523.5 L297.3,524.8 L298.1,525.9 L298.9,527.2 L299.8,528.3 L300.6,529.7 L301.4,530.9 L302.3,532.0 L303.1,532.9 L303.9,533.8 L304.8,534.6 L305.6,535.3 L306.4,535.9 L307.3,536.4 L308.1,536.8 L308.9,537.1 L309.8,537.4 L310.6,537.6 L311.4,537.8 L312.3,538.0 L313.1,538.1 L313.9,538.2 L314.8,538.2 L315.6,538.3 L316.4,538.3 L317.3,538.4 L318.1,538.4 L318.9,538.4 L319.8,538.4 L320.6,538.5 L321.4,538.5 L322.3,538.5 L323.1,538.5 L323.9,538.5 L324.8,538.5 L325.6,538.5 L326.4,538.5 L327.3,538.5 L328.1,538.5 L328.9,538.5 L329.8,538.6 L330.6,538.6 L331.4,538.6 L332.3,538.6 L333.1,538.6 L333.9,538.6 L334.8,538.6 L335.6,538.6 L336.4,538.6 L337.3,538.6 L338.1,538.6 L338.9,538.6 L339.8,538.6 L340.6,538.6 L341.4,538.6 L342.3,538.6 L343.1,538.6 L343.9,538.6 L344.8,538.6 L345.6,538.6" fill="none" stroke="#262626" stroke-width="0.85"/>
<line x1="208.1" y1="538.58" x2="345.6" y2="538.58" stroke="#444" stroke-width="0.7"/>
<path d="M208.1,551.0 L208.9,551.0 L209.8,551.0 L210.6,551.0 L211.4,551.0 L212.3,551.0 L213.1,551.0 L213.9,551.0 L214.8,551.0 L215.6,551.0 L216.4,551.0 L217.3,551.0 L218.1,551.0 L218.9,551.0 L219.8,551.0 L220.6,551.0 L221.4,551.0 L222.3,551.0 L223.1,551.0 L223.9,551.0 L224.8,551.0 L225.6,551.0 L226.4,551.0 L227.3,551.0 L228.1,550.9 L228.9,550.9 L229.8,550.9 L230.6,550.9 L231.4,550.9 L232.3,550.8 L233.1,550.8 L233.9,550.7 L234.8,550.7 L235.6,550.6 L236.4,550.6 L237.3,550.5 L238.1,550.5 L238.9,550.4 L239.8,550.3 L240.6,550.2 L241.4,550.0 L242.3,549.9 L243.1,549.7 L243.9,549.5 L244.8,549.1 L245.6,548.7 L246.4,548.1 L247.3,547.3 L248.1,546.3 L248.9,545.0 L249.8,543.3 L250.6,541.3 L251.4,539.4 L252.3,537.3 L253.1,535.3 L253.9,533.2 L254.8,531.3 L255.6,529.7 L256.4,528.8 L257.3,529.2 L258.1,529.1 L258.9,529.8 L259.8,530.5 L260.6,531.5 L261.4,532.9 L262.3,534.3 L263.1,535.6 L263.9,537.2 L264.8,538.7 L265.6,540.1 L266.4,541.2 L267.3,542.4 L268.1,543.6 L268.9,544.7 L269.8,545.5 L270.6,546.4 L271.4,547.0 L272.3,547.6 L273.1,548.1 L273.9,548.5 L274.8,548.8 L275.6,549.1 L276.4,549.3 L277.3,549.5 L278.1,549.7 L278.9,549.8 L279.8,549.9 L280.6,550.0 L281.4,550.1 L282.3,550.2 L283.1,550.2 L283.9,550.3 L284.8,550.4 L285.6,550.4 L286.4,550.5 L287.3,550.5 L288.1,550.6 L288.9,550.6 L289.8,550.6 L290.6,550.7 L291.4,550.7 L292.3,550.7 L293.1,550.8 L293.9,550.8 L294.8,550.8 L295.6,550.8 L296.4,550.9 L297.3,550.9 L298.1,550.9 L298.9,550.9 L299.8,550.9 L300.6,550.9 L301.4,550.9 L302.3,550.9 L303.1,551.0 L303.9,551.0 L304.8,551.0 L305.6,551.0 L306.4,551.0 L307.3,551.0 L308.1,551.0 L308.9,551.0 L309.8,551.0 L310.6,551.0 L311.4,551.0 L312.3,551.0 L313.1,551.0 L313.9,551.0 L314.8,551.0 L315.6,551.0 L316.4,551.0 L317.3,551.0 L318.1,551.0 L318.9,551.0 L319.8,551.0 L320.6,551.0 L321.4,551.0 L322.3,551.0 L323.1,551.0 L323.9,551.0 L324.8,551.0 L325.6,551.0 L326.4,551.0 L327.3,551.0 L328.1,551.0 L328.9,551.0 L329.8,551.0 L330.6,551.0 L331.4,551.0 L332.3,551.0 L333.1,551.0 L333.9,551.0 L334.8,551.0 L335.6,551.0 L336.4,551.0 L337.3,551.0 L338.1,551.0 L338.9,551.0 L339.8,551.0 L340.6,551.0 L341.4,551.0 L342.3,551.0 L343.1,551.0 L343.9,551.0 L344.8,551.0 L345.6,551.0 L345.6,551.01 L208.1,551.01 Z" fill="#c3d4a6" fill-opacity="0.93" stroke="none"/>
<path d="M208.1,551.0 L208.9,551.0 L209.8,551.0 L210.6,551.0 L211.4,551.0 L212.3,551.0 L213.1,551.0 L213.9,551.0 L214.8,551.0 L215.6,551.0 L216.4,551.0 L217.3,551.0 L218.1,551.0 L218.9,551.0 L219.8,551.0 L220.6,551.0 L221.4,551.0 L222.3,551.0 L223.1,551.0 L223.9,551.0 L224.8,551.0 L225.6,551.0 L226.4,551.0 L227.3,551.0 L228.1,550.9 L228.9,550.9 L229.8,550.9 L230.6,550.9 L231.4,550.9 L232.3,550.8 L233.1,550.8 L233.9,550.7 L234.8,550.7 L235.6,550.6 L236.4,550.6 L237.3,550.5 L238.1,550.5 L238.9,550.4 L239.8,550.3 L240.6,550.2 L241.4,550.0 L242.3,549.9 L243.1,549.7 L243.9,549.5 L244.8,549.1 L245.6,548.7 L246.4,548.1 L247.3,547.3 L248.1,546.3 L248.9,545.0 L249.8,543.3 L250.6,541.3 L251.4,539.4 L252.3,537.3 L253.1,535.3 L253.9,533.2 L254.8,531.3 L255.6,529.7 L256.4,528.8 L257.3,529.2 L258.1,529.1 L258.9,529.8 L259.8,530.5 L260.6,531.5 L261.4,532.9 L262.3,534.3 L263.1,535.6 L263.9,537.2 L264.8,538.7 L265.6,540.1 L266.4,541.2 L267.3,542.4 L268.1,543.6 L268.9,544.7 L269.8,545.5 L270.6,546.4 L271.4,547.0 L272.3,547.6 L273.1,548.1 L273.9,548.5 L274.8,548.8 L275.6,549.1 L276.4,549.3 L277.3,549.5 L278.1,549.7 L278.9,549.8 L279.8,549.9 L280.6,550.0 L281.4,550.1 L282.3,550.2 L283.1,550.2 L283.9,550.3 L284.8,550.4 L285.6,550.4 L286.4,550.5 L287.3,550.5 L288.1,550.6 L288.9,550.6 L289.8,550.6 L290.6,550.7 L291.4,550.7 L292.3,550.7 L293.1,550.8 L293.9,550.8 L294.8,550.8 L295.6,550.8 L296.4,550.9 L297.3,550.9 L298.1,550.9 L298.9,550.9 L299.8,550.9 L300.6,550.9 L301.4,550.9 L302.3,550.9 L303.1,551.0 L303.9,551.0 L304.8,551.0 L305.6,551.0 L306.4,551.0 L307.3,551.0 L308.1,551.0 L308.9,551.0 L309.8,551.0 L310.6,551.0 L311.4,551.0 L312.3,551.0 L313.1,551.0 L313.9,551.0 L314.8,551.0 L315.6,551.0 L316.4,551.0 L317.3,551.0 L318.1,551.0 L318.9,551.0 L319.8,551.0 L320.6,551.0 L321.4,551.0 L322.3,551.0 L323.1,551.0 L323.9,551.0 L324.8,551.0 L325.6,551.0 L326.4,551.0 L327.3,551.0 L328.1,551.0 L328.9,551.0 L329.8,551.0 L330.6,551.0 L331.4,551.0 L332.3,551.0 L333.1,551.0 L333.9,551.0 L334.8,551.0 L335.6,551.0 L336.4,551.0 L337.3,551.0 L338.1,551.0 L338.9,551.0 L339.8,551.0 L340.6,551.0 L341.4,551.0 L342.3,551.0 L343.1,551.0 L343.9,551.0 L344.8,551.0 L345.6,551.0" fill="none" stroke="#262626" stroke-width="0.85"/>
<line x1="208.1" y1="551.01" x2="345.6" y2="551.01" stroke="#444" stroke-width="0.7"/>
<path d="M208.1,563.4 L208.9,563.4 L209.8,563.4 L210.6,563.4 L211.4,563.4 L212.3,563.4 L213.1,563.4 L213.9,563.4 L214.8,563.4 L215.6,563.4 L216.4,563.4 L217.3,563.4 L218.1,563.4 L218.9,563.4 L219.8,563.4 L220.6,563.4 L221.4,563.4 L222.3,563.4 L223.1,563.4 L223.9,563.4 L224.8,563.4 L225.6,563.4 L226.4,563.4 L227.3,563.4 L228.1,563.4 L228.9,563.4 L229.8,563.4 L230.6,563.4 L231.4,563.4 L232.3,563.3 L233.1,563.3 L233.9,563.3 L234.8,563.3 L235.6,563.2 L236.4,563.2 L237.3,563.1 L238.1,563.1 L238.9,563.0 L239.8,563.0 L240.6,562.9 L241.4,562.8 L242.3,562.7 L243.1,562.6 L243.9,562.5 L244.8,562.4 L245.6,562.2 L246.4,562.0 L247.3,561.7 L248.1,561.4 L248.9,560.8 L249.8,560.2 L250.6,559.2 L251.4,558.1 L252.3,556.7 L253.1,554.9 L253.9,552.7 L254.8,550.5 L255.6,548.3 L256.4,546.2 L257.3,544.2 L258.1,542.6 L258.9,541.6 L259.8,541.1 L260.6,541.2 L261.4,542.0 L262.3,542.9 L263.1,544.7 L263.9,546.6 L264.8,548.5 L265.6,550.6 L266.4,552.4 L267.3,554.2 L268.1,555.9 L268.9,557.2 L269.8,558.4 L270.6,559.4 L271.4,560.2 L272.3,560.8 L273.1,561.2 L273.9,561.6 L274.8,561.9 L275.6,562.1 L276.4,562.3 L277.3,562.4 L278.1,562.5 L278.9,562.6 L279.8,562.7 L280.6,562.8 L281.4,562.9 L282.3,562.9 L283.1,563.0 L283.9,563.0 L284.8,563.1 L285.6,563.1 L286.4,563.2 L287.3,563.2 L288.1,563.2 L288.9,563.3 L289.8,563.3 L290.6,563.3 L291.4,563.3 L292.3,563.4 L293.1,563.4 L293.9,563.4 L294.8,563.4 L295.6,563.4 L296.4,563.4 L297.3,563.4 L298.1,563.4 L298.9,563.4 L299.8,563.4 L300.6,563.4 L301.4,563.4 L302.3,563.4 L303.1,563.4 L303.9,563.4 L304.8,563.4 L305.6,563.4 L306.4,563.4 L307.3,563.4 L308.1,563.4 L308.9,563.4 L309.8,563.4 L310.6,563.4 L311.4,563.4 L312.3,563.4 L313.1,563.4 L313.9,563.4 L314.8,563.4 L315.6,563.4 L316.4,563.4 L317.3,563.4 L318.1,563.4 L318.9,563.4 L319.8,563.4 L320.6,563.4 L321.4,563.4 L322.3,563.4 L323.1,563.4 L323.9,563.4 L324.8,563.4 L325.6,563.4 L326.4,563.4 L327.3,563.4 L328.1,563.4 L328.9,563.4 L329.8,563.4 L330.6,563.4 L331.4,563.4 L332.3,563.4 L333.1,563.4 L333.9,563.4 L334.8,563.4 L335.6,563.4 L336.4,563.4 L337.3,563.4 L338.1,563.4 L338.9,563.4 L339.8,563.4 L340.6,563.4 L341.4,563.4 L342.3,563.4 L343.1,563.4 L343.9,563.4 L344.8,563.4 L345.6,563.4 L345.6,563.44 L208.1,563.44 Z" fill="#9d94d4" fill-opacity="0.93" stroke="none"/>
<path d="M208.1,563.4 L208.9,563.4 L209.8,563.4 L210.6,563.4 L211.4,563.4 L212.3,563.4 L213.1,563.4 L213.9,563.4 L214.8,563.4 L215.6,563.4 L216.4,563.4 L217.3,563.4 L218.1,563.4 L218.9,563.4 L219.8,563.4 L220.6,563.4 L221.4,563.4 L222.3,563.4 L223.1,563.4 L223.9,563.4 L224.8,563.4 L225.6,563.4 L226.4,563.4 L227.3,563.4 L228.1,563.4 L228.9,563.4 L229.8,563.4 L230.6,563.4 L231.4,563.4 L232.3,563.3 L233.1,563.3 L233.9,563.3 L234.8,563.3 L235.6,563.2 L236.4,563.2 L237.3,563.1 L238.1,563.1 L238.9,563.0 L239.8,563.0 L240.6,562.9 L241.4,562.8 L242.3,562.7 L243.1,562.6 L243.9,562.5 L244.8,562.4 L245.6,562.2 L246.4,562.0 L247.3,561.7 L248.1,561.4 L248.9,560.8 L249.8,560.2 L250.6,559.2 L251.4,558.1 L252.3,556.7 L253.1,554.9 L253.9,552.7 L254.8,550.5 L255.6,548.3 L256.4,546.2 L257.3,544.2 L258.1,542.6 L258.9,541.6 L259.8,541.1 L260.6,541.2 L261.4,542.0 L262.3,542.9 L263.1,544.7 L263.9,546.6 L264.8,548.5 L265.6,550.6 L266.4,552.4 L267.3,554.2 L268.1,555.9 L268.9,557.2 L269.8,558.4 L270.6,559.4 L271.4,560.2 L272.3,560.8 L273.1,561.2 L273.9,561.6 L274.8,561.9 L275.6,562.1 L276.4,562.3 L277.3,562.4 L278.1,562.5 L278.9,562.6 L279.8,562.7 L280.6,562.8 L281.4,562.9 L282.3,562.9 L283.1,563.0 L283.9,563.0 L284.8,563.1 L285.6,563.1 L286.4,563.2 L287.3,563.2 L288.1,563.2 L288.9,563.3 L289.8,563.3 L290.6,563.3 L291.4,563.3 L292.3,563.4 L293.1,563.4 L293.9,563.4 L294.8,563.4 L295.6,563.4 L296.4,563.4 L297.3,563.4 L298.1,563.4 L298.9,563.4 L299.8,563.4 L300.6,563.4 L301.4,563.4 L302.3,563.4 L303.1,563.4 L303.9,563.4 L304.8,563.4 L305.6,563.4 L306.4,563.4 L307.3,563.4 L308.1,563.4 L308.9,563.4 L309.8,563.4 L310.6,563.4 L311.4,563.4 L312.3,563.4 L313.1,563.4 L313.9,563.4 L314.8,563.4 L315.6,563.4 L316.4,563.4 L317.3,563.4 L318.1,563.4 L318.9,563.4 L319.8,563.4 L320.6,563.4 L321.4,563.4 L322.3,563.4 L323.1,563.4 L323.9,563.4 L324.8,563.4 L325.6,563.4 L326.4,563.4 L327.3,563.4 L328.1,563.4 L328.9,563.4 L329.8,563.4 L330.6,563.4 L331.4,563.4 L332.3,563.4 L333.1,563.4 L333.9,563.4 L334.8,563.4 L335.6,563.4 L336.4,563.4 L337.3,563.4 L338.1,563.4 L338.9,563.4 L339.8,563.4 L340.6,563.4 L341.4,563.4 L342.3,563.4 L343.1,563.4 L343.9,563.4 L344.8,563.4 L345.6,563.4" fill="none" stroke="#262626" stroke-width="0.85"/>
<line x1="208.1" y1="563.44" x2="345.6" y2="563.44" stroke="#444" stroke-width="0.7"/>
<rect x="208.1" y="436.4" width="137.50000000000003" height="127.10000000000002" fill="none" stroke="#555" stroke-width="0.9"/>
<text x="228.8" y="456.1" font-size="6.9" fill="#2a2a2a" text-anchor="middle">hTpoR</text>
<text x="208.8" y="473.4" font-size="6.9" fill="#2a2a2a">hTpoR + Tpo</text>
<text x="228.8" y="485.8" font-size="6.9" fill="#2a2a2a" text-anchor="middle">cc-hTpoR 0</text>
<text x="228.8" y="498.2" font-size="6.9" fill="#2a2a2a" text-anchor="middle">cc-hTpoR I</text>
<text x="228.8" y="510.3" font-size="6.9" fill="#2a2a2a" text-anchor="middle">cc-hTpoR II</text>
<text x="228.8" y="522.7" font-size="6.9" fill="#2a2a2a" text-anchor="middle">cc-hTpoR III</text>
<text x="228.8" y="534.8" font-size="6.9" fill="#2a2a2a" text-anchor="middle">cc-hTpoR IV</text>
<text x="228.8" y="547.2" font-size="6.9" fill="#2a2a2a" text-anchor="middle">cc-hTpoR V</text>
<text x="228.8" y="559.3" font-size="6.9" fill="#2a2a2a" text-anchor="middle">cc-hTpoR VI</text>
<line x1="239.9" y1="563.5" x2="239.9" y2="565.7" stroke="#333" stroke-width="0.7"/>
<line x1="272.3" y1="563.5" x2="272.3" y2="565.7" stroke="#333" stroke-width="0.7"/>
<line x1="311.3" y1="563.5" x2="311.3" y2="565.7" stroke="#333" stroke-width="0.7"/>
<line x1="209.0" y1="563.5" x2="209.0" y2="564.8" stroke="#333" stroke-width="0.5"/>
<line x1="212.4" y1="563.5" x2="212.4" y2="564.8" stroke="#333" stroke-width="0.5"/>
<line x1="215.8" y1="563.5" x2="215.8" y2="564.8" stroke="#333" stroke-width="0.5"/>
<line x1="219.2" y1="563.5" x2="219.2" y2="564.8" stroke="#333" stroke-width="0.5"/>
<line x1="222.6" y1="563.5" x2="222.6" y2="564.8" stroke="#333" stroke-width="0.5"/>
<line x1="226.0" y1="563.5" x2="226.0" y2="564.8" stroke="#333" stroke-width="0.5"/>
<line x1="229.4" y1="563.5" x2="229.4" y2="564.8" stroke="#333" stroke-width="0.5"/>
<line x1="232.8" y1="563.5" x2="232.8" y2="564.8" stroke="#333" stroke-width="0.5"/>
<line x1="236.2" y1="563.5" x2="236.2" y2="564.8" stroke="#333" stroke-width="0.5"/>
<line x1="239.6" y1="563.5" x2="239.6" y2="564.8" stroke="#333" stroke-width="0.5"/>
<line x1="243.0" y1="563.5" x2="243.0" y2="564.8" stroke="#333" stroke-width="0.5"/>
<line x1="246.4" y1="563.5" x2="246.4" y2="564.8" stroke="#333" stroke-width="0.5"/>
<line x1="249.8" y1="563.5" x2="249.8" y2="564.8" stroke="#333" stroke-width="0.5"/>
<line x1="253.2" y1="563.5" x2="253.2" y2="564.8" stroke="#333" stroke-width="0.5"/>
<line x1="256.6" y1="563.5" x2="256.6" y2="564.8" stroke="#333" stroke-width="0.5"/>
<line x1="260.0" y1="563.5" x2="260.0" y2="564.8" stroke="#333" stroke-width="0.5"/>
<line x1="263.4" y1="563.5" x2="263.4" y2="564.8" stroke="#333" stroke-width="0.5"/>
<line x1="266.8" y1="563.5" x2="266.8" y2="564.8" stroke="#333" stroke-width="0.5"/>
<line x1="270.2" y1="563.5" x2="270.2" y2="564.8" stroke="#333" stroke-width="0.5"/>
<line x1="273.6" y1="563.5" x2="273.6" y2="564.8" stroke="#333" stroke-width="0.5"/>
<line x1="277.0" y1="563.5" x2="277.0" y2="564.8" stroke="#333" stroke-width="0.5"/>
<line x1="280.4" y1="563.5" x2="280.4" y2="564.8" stroke="#333" stroke-width="0.5"/>
<line x1="283.8" y1="563.5" x2="283.8" y2="564.8" stroke="#333" stroke-width="0.5"/>
<line x1="287.2" y1="563.5" x2="287.2" y2="564.8" stroke="#333" stroke-width="0.5"/>
<line x1="290.6" y1="563.5" x2="290.6" y2="564.8" stroke="#333" stroke-width="0.5"/>
<line x1="294.0" y1="563.5" x2="294.0" y2="564.8" stroke="#333" stroke-width="0.5"/>
<line x1="297.4" y1="563.5" x2="297.4" y2="564.8" stroke="#333" stroke-width="0.5"/>
<line x1="300.8" y1="563.5" x2="300.8" y2="564.8" stroke="#333" stroke-width="0.5"/>
<line x1="304.2" y1="563.5" x2="304.2" y2="564.8" stroke="#333" stroke-width="0.5"/>
<line x1="307.6" y1="563.5" x2="307.6" y2="564.8" stroke="#333" stroke-width="0.5"/>
<line x1="311.0" y1="563.5" x2="311.0" y2="564.8" stroke="#333" stroke-width="0.5"/>
<line x1="314.4" y1="563.5" x2="314.4" y2="564.8" stroke="#333" stroke-width="0.5"/>
<line x1="317.8" y1="563.5" x2="317.8" y2="564.8" stroke="#333" stroke-width="0.5"/>
<line x1="321.2" y1="563.5" x2="321.2" y2="564.8" stroke="#333" stroke-width="0.5"/>
<line x1="324.6" y1="563.5" x2="324.6" y2="564.8" stroke="#333" stroke-width="0.5"/>
<line x1="328.0" y1="563.5" x2="328.0" y2="564.8" stroke="#333" stroke-width="0.5"/>
<line x1="331.4" y1="563.5" x2="331.4" y2="564.8" stroke="#333" stroke-width="0.5"/>
<line x1="334.8" y1="563.5" x2="334.8" y2="564.8" stroke="#333" stroke-width="0.5"/>
<line x1="338.2" y1="563.5" x2="338.2" y2="564.8" stroke="#333" stroke-width="0.5"/>
<line x1="341.6" y1="563.5" x2="341.6" y2="564.8" stroke="#333" stroke-width="0.5"/>
<text x="239.9" y="576.6" font-size="6.6" fill="#2a2a2a" text-anchor="middle">0</text>
<text x="271.1" y="576.6" font-size="6.6" fill="#333" text-anchor="middle">10</text>
<text x="275.0" y="573.2" font-size="4.2" fill="#333">4</text>
<text x="310.1" y="576.6" font-size="6.6" fill="#333" text-anchor="middle">10</text>
<text x="314.0" y="573.2" font-size="4.2" fill="#333">5</text>
<rect x="209.2" y="581.6" width="10.400000000000006" height="8.74" fill="#f2f2f2"/>
<rect x="219.6" y="581.6" width="126.1" height="8.74" fill="#c9c9c9"/>
<line x1="209.2" y1="581.60" x2="345.7" y2="581.60" stroke="#262626" stroke-width="0.9"/>
<line x1="209.2" y1="590.34" x2="345.7" y2="590.34" stroke="#262626" stroke-width="0.9"/>
<line x1="209.2" y1="599.08" x2="345.7" y2="599.08" stroke="#262626" stroke-width="0.9"/>
<line x1="209.2" y1="607.82" x2="345.7" y2="607.82" stroke="#262626" stroke-width="0.9"/>
<line x1="209.2" y1="616.56" x2="345.7" y2="616.56" stroke="#262626" stroke-width="0.9"/>
<line x1="209.2" y1="625.30" x2="345.7" y2="625.30" stroke="#262626" stroke-width="0.9"/>
<line x1="209.2" y1="634.04" x2="345.7" y2="634.04" stroke="#262626" stroke-width="0.9"/>
<line x1="209.2" y1="642.78" x2="345.7" y2="642.78" stroke="#262626" stroke-width="0.9"/>
<line x1="209.2" y1="651.52" x2="345.7" y2="651.52" stroke="#262626" stroke-width="0.9"/>
<line x1="209.2" y1="660.26" x2="345.7" y2="660.26" stroke="#262626" stroke-width="0.9"/>
<line x1="209.2" y1="669.00" x2="345.7" y2="669.00" stroke="#262626" stroke-width="0.9"/>
<line x1="209.2" y1="581.6" x2="209.2" y2="669.00" stroke="#262626" stroke-width="1.0"/>
<line x1="219.6" y1="581.6" x2="219.6" y2="669.00" stroke="#262626" stroke-width="1.0"/>
<line x1="302.4" y1="581.6" x2="302.4" y2="669.00" stroke="#262626" stroke-width="1.0"/>
<line x1="345.7" y1="581.6" x2="345.7" y2="669.00" stroke="#262626" stroke-width="1.0"/>
<text x="261.0" y="588.3" font-size="6.8" fill="#2a2a2a" text-anchor="middle" textLength="33.2" lengthAdjust="spacingAndGlyphs">Conditions</text>
<text x="324.0" y="588.3" font-size="6.8" fill="#2a2a2a" text-anchor="middle" textLength="38.9" lengthAdjust="spacingAndGlyphs">MFI: p-STAT5</text>
<text x="261.0" y="597.0" font-size="6.8" fill="#2a2a2a" text-anchor="middle">hTpoR WT unstimulated</text>
<text x="324.0" y="597.0" font-size="6.8" fill="#2a2a2a" text-anchor="middle">6554</text>
<rect x="212.40" y="592.71" width="4.0" height="4.0" fill="#30a0b8" stroke="#333" stroke-width="0.6"/>
<text x="261.0" y="605.8" font-size="6.8" fill="#2a2a2a" text-anchor="middle">hTpoR WT + Tpo</text>
<text x="324.0" y="605.8" font-size="6.8" fill="#2a2a2a" text-anchor="middle">19745</text>
<rect x="212.40" y="601.45" width="4.0" height="4.0" fill="#8a1830" stroke="#333" stroke-width="0.6"/>
<text x="261.0" y="614.5" font-size="6.8" fill="#2a2a2a" text-anchor="middle">cc-hTpoR 0</text>
<text x="324.0" y="614.5" font-size="6.8" fill="#2a2a2a" text-anchor="middle">9764</text>
<rect x="212.40" y="610.19" width="4.0" height="4.0" fill="#1a9050" stroke="#333" stroke-width="0.6"/>
<text x="261.0" y="623.2" font-size="6.8" fill="#2a2a2a" text-anchor="middle">cc-hTpoR I</text>
<text x="324.0" y="623.2" font-size="6.8" fill="#2a2a2a" text-anchor="middle">17465</text>
<rect x="212.40" y="618.93" width="4.0" height="4.0" fill="#c0185a" stroke="#333" stroke-width="0.6"/>
<text x="261.0" y="632.0" font-size="6.8" fill="#2a2a2a" text-anchor="middle">cc-hTpoR II</text>
<text x="324.0" y="632.0" font-size="6.8" fill="#2a2a2a" text-anchor="middle">5025</text>
<rect x="212.40" y="627.67" width="4.0" height="4.0" fill="#c8b850" stroke="#333" stroke-width="0.6"/>
<text x="261.0" y="640.7" font-size="6.8" fill="#2a2a2a" text-anchor="middle">cc-hTpoR III</text>
<text x="324.0" y="640.7" font-size="6.8" fill="#2a2a2a" text-anchor="middle">5957</text>
<rect x="212.40" y="636.41" width="4.0" height="4.0" fill="#d0d0d0" stroke="#333" stroke-width="0.6"/>
<text x="261.0" y="649.4" font-size="6.8" fill="#2a2a2a" text-anchor="middle">cc-hTpoR IV</text>
<text x="324.0" y="649.4" font-size="6.8" fill="#2a2a2a" text-anchor="middle">26029</text>
<rect x="212.40" y="645.15" width="4.0" height="4.0" fill="#8a6030" stroke="#333" stroke-width="0.6"/>
<text x="261.0" y="658.2" font-size="6.8" fill="#2a2a2a" text-anchor="middle">cc-hTpoR V</text>
<text x="324.0" y="658.2" font-size="6.8" fill="#2a2a2a" text-anchor="middle">5339</text>
<rect x="212.40" y="653.89" width="4.0" height="4.0" fill="#98a888" stroke="#333" stroke-width="0.6"/>
<text x="261.0" y="666.9" font-size="6.8" fill="#2a2a2a" text-anchor="middle">cc-hTpoR VI</text>
<text x="324.0" y="666.9" font-size="6.8" fill="#2a2a2a" text-anchor="middle">5602</text>
<rect x="212.40" y="662.63" width="4.0" height="4.0" fill="#7878a0" stroke="#333" stroke-width="0.6"/>
<line x1="228.5" y1="563.5" x2="228.5" y2="565.3" stroke="#222" stroke-width="0.5"/>
<line x1="229.4" y1="563.5" x2="229.4" y2="565.3" stroke="#222" stroke-width="0.5"/>
<line x1="230.3" y1="563.5" x2="230.3" y2="565.3" stroke="#222" stroke-width="0.5"/>
<line x1="231.2" y1="563.5" x2="231.2" y2="565.3" stroke="#222" stroke-width="0.5"/>
<line x1="232.1" y1="563.5" x2="232.1" y2="565.3" stroke="#222" stroke-width="0.5"/>
<line x1="233.0" y1="563.5" x2="233.0" y2="565.3" stroke="#222" stroke-width="0.5"/>
<line x1="233.9" y1="563.5" x2="233.9" y2="565.3" stroke="#222" stroke-width="0.5"/>
<line x1="234.8" y1="563.5" x2="234.8" y2="565.3" stroke="#222" stroke-width="0.5"/>
<line x1="235.7" y1="563.5" x2="235.7" y2="565.3" stroke="#222" stroke-width="0.5"/>
<line x1="236.6" y1="563.5" x2="236.6" y2="565.3" stroke="#222" stroke-width="0.5"/>
<line x1="237.5" y1="563.5" x2="237.5" y2="565.3" stroke="#222" stroke-width="0.5"/>
<line x1="238.4" y1="563.5" x2="238.4" y2="565.3" stroke="#222" stroke-width="0.5"/>
<line x1="239.3" y1="563.5" x2="239.3" y2="565.3" stroke="#222" stroke-width="0.5"/>
<line x1="240.2" y1="563.5" x2="240.2" y2="565.3" stroke="#222" stroke-width="0.5"/>
<line x1="241.1" y1="563.5" x2="241.1" y2="565.3" stroke="#222" stroke-width="0.5"/>
<text x="363.6" y="420.3" font-size="12" fill="#111" font-weight="bold">G</text>
<text x="439.9" y="430.9" font-size="9.5" fill="#222" text-anchor="middle" textLength="39.0" lengthAdjust="spacingAndGlyphs">HEK 293T</text>
<line x1="386.8" y1="436.4" x2="386.8" y2="564.5" stroke="#3a3a3a" stroke-width="1.6"/>
<line x1="385.9" y1="564.5" x2="491.5" y2="564.5" stroke="#3a3a3a" stroke-width="1.5"/>
<line x1="383.7" y1="564.5" x2="386.5" y2="564.5" stroke="#333" stroke-width="1"/>
<text x="380.3" y="567.1" font-size="7.7" fill="#2e2e2e" text-anchor="end" textLength="3.4" lengthAdjust="spacingAndGlyphs">0</text>
<line x1="383.7" y1="539.5" x2="386.5" y2="539.5" stroke="#333" stroke-width="1"/>
<text x="380.3" y="542.1" font-size="7.7" fill="#2e2e2e" text-anchor="end" textLength="3.4" lengthAdjust="spacingAndGlyphs">1</text>
<line x1="383.7" y1="514.6" x2="386.5" y2="514.6" stroke="#333" stroke-width="1"/>
<text x="380.3" y="517.2" font-size="7.7" fill="#2e2e2e" text-anchor="end" textLength="3.4" lengthAdjust="spacingAndGlyphs">2</text>
<line x1="383.7" y1="489.6" x2="386.5" y2="489.6" stroke="#333" stroke-width="1"/>
<text x="380.3" y="492.2" font-size="7.7" fill="#2e2e2e" text-anchor="end" textLength="3.4" lengthAdjust="spacingAndGlyphs">3</text>
<line x1="383.7" y1="464.7" x2="386.5" y2="464.7" stroke="#333" stroke-width="1"/>
<text x="380.3" y="467.3" font-size="7.7" fill="#2e2e2e" text-anchor="end" textLength="3.4" lengthAdjust="spacingAndGlyphs">4</text>
<line x1="383.7" y1="439.8" x2="386.5" y2="439.8" stroke="#333" stroke-width="1"/>
<text x="380.3" y="442.4" font-size="7.7" fill="#2e2e2e" text-anchor="end" textLength="3.4" lengthAdjust="spacingAndGlyphs">5</text>
<text transform="translate(372.6,500.0) rotate(-90)" font-size="7.8" fill="#333" text-anchor="middle" textLength="88.6" lengthAdjust="spacingAndGlyphs">STAT5 transcriptional activity</text>
<rect x="391.5" y="556.3" width="8.8" height="8.2" fill="#4ab8ea"/>
<line x1="395.9" y1="564.5" x2="395.9" y2="567.3" stroke="#333" stroke-width="0.9"/>
<circle cx="398.2" cy="556.4" r="0.8" fill="#222"/>
<circle cx="396.9" cy="554.8" r="0.8" fill="#222"/>
<circle cx="397.4" cy="558.1" r="0.8" fill="#222"/>
<circle cx="398.2" cy="557.1" r="0.8" fill="#222"/>
<circle cx="394.6" cy="554.4" r="0.8" fill="#222"/>
<circle cx="396.7" cy="555.6" r="0.8" fill="#222"/>
<circle cx="398.2" cy="557.8" r="0.8" fill="#222"/>
<rect x="401.5" y="556.3" width="8.8" height="8.2" fill="#4ab8ea"/>
<line x1="405.9" y1="564.5" x2="405.9" y2="567.3" stroke="#333" stroke-width="0.9"/>
<circle cx="404.0" cy="556.7" r="0.8" fill="#222"/>
<circle cx="407.0" cy="557.3" r="0.8" fill="#222"/>
<circle cx="406.7" cy="557.6" r="0.8" fill="#222"/>
<circle cx="405.8" cy="554.6" r="0.8" fill="#222"/>
<circle cx="404.3" cy="556.0" r="0.8" fill="#222"/>
<circle cx="407.5" cy="555.5" r="0.8" fill="#222"/>
<circle cx="407.6" cy="556.1" r="0.8" fill="#222"/>
<rect x="411.5" y="507.4" width="8.8" height="57.1" fill="#cf0f35"/>
<line x1="415.9" y1="564.5" x2="415.9" y2="567.3" stroke="#333" stroke-width="0.9"/>
<line x1="415.9" y1="489.6" x2="415.9" y2="507.4" stroke="#222" stroke-width="0.8"/>
<line x1="413.9" y1="489.6" x2="417.9" y2="489.6" stroke="#222" stroke-width="0.8"/>
<circle cx="418.5" cy="502.5" r="0.8" fill="#222"/>
<circle cx="413.9" cy="524.0" r="0.8" fill="#222"/>
<circle cx="413.2" cy="515.2" r="0.8" fill="#222"/>
<circle cx="418.7" cy="517.0" r="0.8" fill="#222"/>
<circle cx="414.1" cy="499.1" r="0.8" fill="#222"/>
<circle cx="413.8" cy="501.2" r="0.8" fill="#222"/>
<circle cx="416.7" cy="493.7" r="0.8" fill="#222"/>
<rect x="421.5" y="538.1" width="8.8" height="26.4" fill="#3aaf46"/>
<line x1="425.9" y1="564.5" x2="425.9" y2="567.3" stroke="#333" stroke-width="0.9"/>
<line x1="425.9" y1="535.8" x2="425.9" y2="538.1" stroke="#222" stroke-width="0.8"/>
<line x1="423.9" y1="535.8" x2="427.9" y2="535.8" stroke="#222" stroke-width="0.8"/>
<circle cx="428.3" cy="540.4" r="0.8" fill="#222"/>
<circle cx="428.4" cy="537.1" r="0.8" fill="#222"/>
<circle cx="428.1" cy="539.8" r="0.8" fill="#222"/>
<circle cx="423.6" cy="538.2" r="0.8" fill="#222"/>
<circle cx="426.4" cy="537.2" r="0.8" fill="#222"/>
<circle cx="425.5" cy="536.6" r="0.8" fill="#222"/>
<circle cx="426.1" cy="538.3" r="0.8" fill="#222"/>
<rect x="431.5" y="516.3" width="8.8" height="48.2" fill="#ec1189"/>
<line x1="435.9" y1="564.5" x2="435.9" y2="567.3" stroke="#333" stroke-width="0.9"/>
<line x1="435.9" y1="513.1" x2="435.9" y2="516.3" stroke="#222" stroke-width="0.8"/>
<line x1="433.9" y1="513.1" x2="437.9" y2="513.1" stroke="#222" stroke-width="0.8"/>
<circle cx="437.1" cy="516.9" r="0.8" fill="#222"/>
<circle cx="437.8" cy="516.1" r="0.8" fill="#222"/>
<circle cx="434.1" cy="514.2" r="0.8" fill="#222"/>
<circle cx="438.7" cy="518.3" r="0.8" fill="#222"/>
<circle cx="434.2" cy="518.0" r="0.8" fill="#222"/>
<circle cx="436.9" cy="519.2" r="0.8" fill="#222"/>
<circle cx="433.6" cy="518.6" r="0.8" fill="#222"/>
<rect x="441.5" y="551.3" width="8.8" height="13.2" fill="#fbc02a"/>
<line x1="445.9" y1="564.5" x2="445.9" y2="567.3" stroke="#333" stroke-width="0.9"/>
<line x1="445.9" y1="548.5" x2="445.9" y2="551.3" stroke="#222" stroke-width="0.8"/>
<line x1="443.9" y1="548.5" x2="447.9" y2="548.5" stroke="#222" stroke-width="0.8"/>
<circle cx="445.2" cy="552.5" r="0.8" fill="#222"/>
<circle cx="448.3" cy="551.3" r="0.8" fill="#222"/>
<circle cx="447.8" cy="553.6" r="0.8" fill="#222"/>
<circle cx="444.3" cy="552.2" r="0.8" fill="#222"/>
<circle cx="448.0" cy="553.6" r="0.8" fill="#222"/>
<circle cx="446.7" cy="554.0" r="0.8" fill="#222"/>
<circle cx="443.3" cy="552.5" r="0.8" fill="#222"/>
<rect x="451.5" y="548.5" width="8.8" height="16.0" fill="#d7d6de"/>
<line x1="455.9" y1="564.5" x2="455.9" y2="567.3" stroke="#333" stroke-width="0.9"/>
<line x1="455.9" y1="546.5" x2="455.9" y2="548.5" stroke="#222" stroke-width="0.8"/>
<line x1="453.9" y1="546.5" x2="457.9" y2="546.5" stroke="#222" stroke-width="0.8"/>
<circle cx="457.3" cy="547.0" r="0.8" fill="#222"/>
<circle cx="454.2" cy="548.9" r="0.8" fill="#222"/>
<circle cx="454.2" cy="548.2" r="0.8" fill="#222"/>
<circle cx="456.5" cy="547.1" r="0.8" fill="#222"/>
<circle cx="453.4" cy="549.6" r="0.8" fill="#222"/>
<circle cx="457.4" cy="548.5" r="0.8" fill="#222"/>
<circle cx="457.4" cy="548.2" r="0.8" fill="#222"/>
<rect x="461.5" y="489.6" width="8.8" height="74.9" fill="#c8781c"/>
<line x1="465.9" y1="564.5" x2="465.9" y2="567.3" stroke="#333" stroke-width="0.9"/>
<line x1="465.9" y1="474.7" x2="465.9" y2="489.6" stroke="#222" stroke-width="0.8"/>
<line x1="463.9" y1="474.7" x2="467.9" y2="474.7" stroke="#222" stroke-width="0.8"/>
<circle cx="466.7" cy="493.7" r="0.8" fill="#222"/>
<circle cx="467.0" cy="491.6" r="0.8" fill="#222"/>
<circle cx="468.5" cy="490.9" r="0.8" fill="#222"/>
<circle cx="464.2" cy="493.9" r="0.8" fill="#222"/>
<circle cx="463.5" cy="489.3" r="0.8" fill="#222"/>
<circle cx="467.7" cy="492.6" r="0.8" fill="#222"/>
<circle cx="465.0" cy="502.2" r="0.8" fill="#222"/>
<rect x="471.5" y="552.0" width="8.8" height="12.5" fill="#c3d59a"/>
<line x1="475.9" y1="564.5" x2="475.9" y2="567.3" stroke="#333" stroke-width="0.9"/>
<line x1="475.9" y1="549.0" x2="475.9" y2="552.0" stroke="#222" stroke-width="0.8"/>
<line x1="473.9" y1="549.0" x2="477.9" y2="549.0" stroke="#222" stroke-width="0.8"/>
<circle cx="473.7" cy="551.7" r="0.8" fill="#222"/>
<circle cx="473.8" cy="554.2" r="0.8" fill="#222"/>
<circle cx="476.4" cy="550.8" r="0.8" fill="#222"/>
<circle cx="474.1" cy="553.2" r="0.8" fill="#222"/>
<circle cx="473.8" cy="549.4" r="0.8" fill="#222"/>
<circle cx="475.7" cy="553.9" r="0.8" fill="#222"/>
<circle cx="475.4" cy="550.5" r="0.8" fill="#222"/>
<rect x="481.5" y="552.5" width="8.8" height="12.0" fill="#a49fdc"/>
<line x1="485.9" y1="564.5" x2="485.9" y2="567.3" stroke="#333" stroke-width="0.9"/>
<line x1="485.9" y1="550.5" x2="485.9" y2="552.5" stroke="#222" stroke-width="0.8"/>
<line x1="483.9" y1="550.5" x2="487.9" y2="550.5" stroke="#222" stroke-width="0.8"/>
<circle cx="486.2" cy="554.3" r="0.8" fill="#222"/>
<circle cx="485.0" cy="552.9" r="0.8" fill="#222"/>
<circle cx="487.8" cy="554.1" r="0.8" fill="#222"/>
<circle cx="484.7" cy="551.5" r="0.8" fill="#222"/>
<circle cx="486.0" cy="552.5" r="0.8" fill="#222"/>
<circle cx="485.0" cy="554.3" r="0.8" fill="#222"/>
<circle cx="485.4" cy="554.3" r="0.8" fill="#222"/>
<polyline points="404.5,556.5 404.5,448.5 446.5,448.5 446.5,456.5" fill="none" stroke="#333" stroke-width="0.9"/>
<line x1="411" y1="456.5" x2="488.5" y2="456.5" stroke="#333" stroke-width="0.9"/>
<circle cx="412.1" cy="483.0" r="0.85" fill="#2a2a2a"/>
<circle cx="414.6" cy="483.0" r="0.85" fill="#2a2a2a"/>
<circle cx="417.1" cy="483.0" r="0.85" fill="#2a2a2a"/>
<circle cx="419.6" cy="483.0" r="0.85" fill="#2a2a2a"/>
<circle cx="422.1" cy="531.2" r="0.85" fill="#2a2a2a"/>
<circle cx="424.6" cy="531.2" r="0.85" fill="#2a2a2a"/>
<circle cx="427.1" cy="531.2" r="0.85" fill="#2a2a2a"/>
<circle cx="429.6" cy="531.2" r="0.85" fill="#2a2a2a"/>
<circle cx="432.1" cy="505.8" r="0.85" fill="#2a2a2a"/>
<circle cx="434.6" cy="505.8" r="0.85" fill="#2a2a2a"/>
<circle cx="437.1" cy="505.8" r="0.85" fill="#2a2a2a"/>
<circle cx="439.6" cy="505.8" r="0.85" fill="#2a2a2a"/>
<circle cx="462.1" cy="465.8" r="0.85" fill="#2a2a2a"/>
<circle cx="464.6" cy="465.8" r="0.85" fill="#2a2a2a"/>
<circle cx="467.1" cy="465.8" r="0.85" fill="#2a2a2a"/>
<circle cx="469.6" cy="465.8" r="0.85" fill="#2a2a2a"/>
<text x="445.9" y="546.5" font-size="6.4" fill="#2a2a2a" text-anchor="middle">ns</text>
<text x="455.9" y="543.6" font-size="6.4" fill="#2a2a2a" text-anchor="middle">ns</text>
<text x="475.9" y="546.5" font-size="6.4" fill="#2a2a2a" text-anchor="middle">ns</text>
<text x="485.9" y="546.2" font-size="6.4" fill="#2a2a2a" text-anchor="middle">ns</text>
<text transform="translate(398.5,574.0) rotate(-45)" font-size="6.9" fill="#2a2a2a" text-anchor="end">Empty</text>
<text transform="translate(408.5,574.0) rotate(-45)" font-size="6.9" fill="#2a2a2a" text-anchor="end">hTpoR WT</text>
<text transform="translate(418.5,574.0) rotate(-45)" font-size="6.9" fill="#2a2a2a" text-anchor="end">hTpoR WT + Tpo</text>
<text transform="translate(428.5,574.0) rotate(-45)" font-size="6.9" fill="#2a2a2a" text-anchor="end">cc-hTpoR 0</text>
<text transform="translate(438.5,574.0) rotate(-45)" font-size="6.9" fill="#2a2a2a" text-anchor="end">cc-hTpoR I</text>
<text transform="translate(448.5,574.0) rotate(-45)" font-size="6.9" fill="#2a2a2a" text-anchor="end">cc-hTpoR II</text>
<text transform="translate(458.5,574.0) rotate(-45)" font-size="6.9" fill="#2a2a2a" text-anchor="end">cc-hTpoR III</text>
<text transform="translate(468.5,574.0) rotate(-45)" font-size="6.9" fill="#2a2a2a" text-anchor="end">cc-hTpoR IV</text>
<text transform="translate(478.5,574.0) rotate(-45)" font-size="6.9" fill="#2a2a2a" text-anchor="end">cc-hTpoR V</text>
<text transform="translate(488.5,574.0) rotate(-45)" font-size="6.9" fill="#2a2a2a" text-anchor="end">cc-hTpoR VI</text><rect x="0.5" y="0.5" width="519" height="675" fill="none" stroke="#b3b3b3" stroke-width="1"/></svg></body></html>
